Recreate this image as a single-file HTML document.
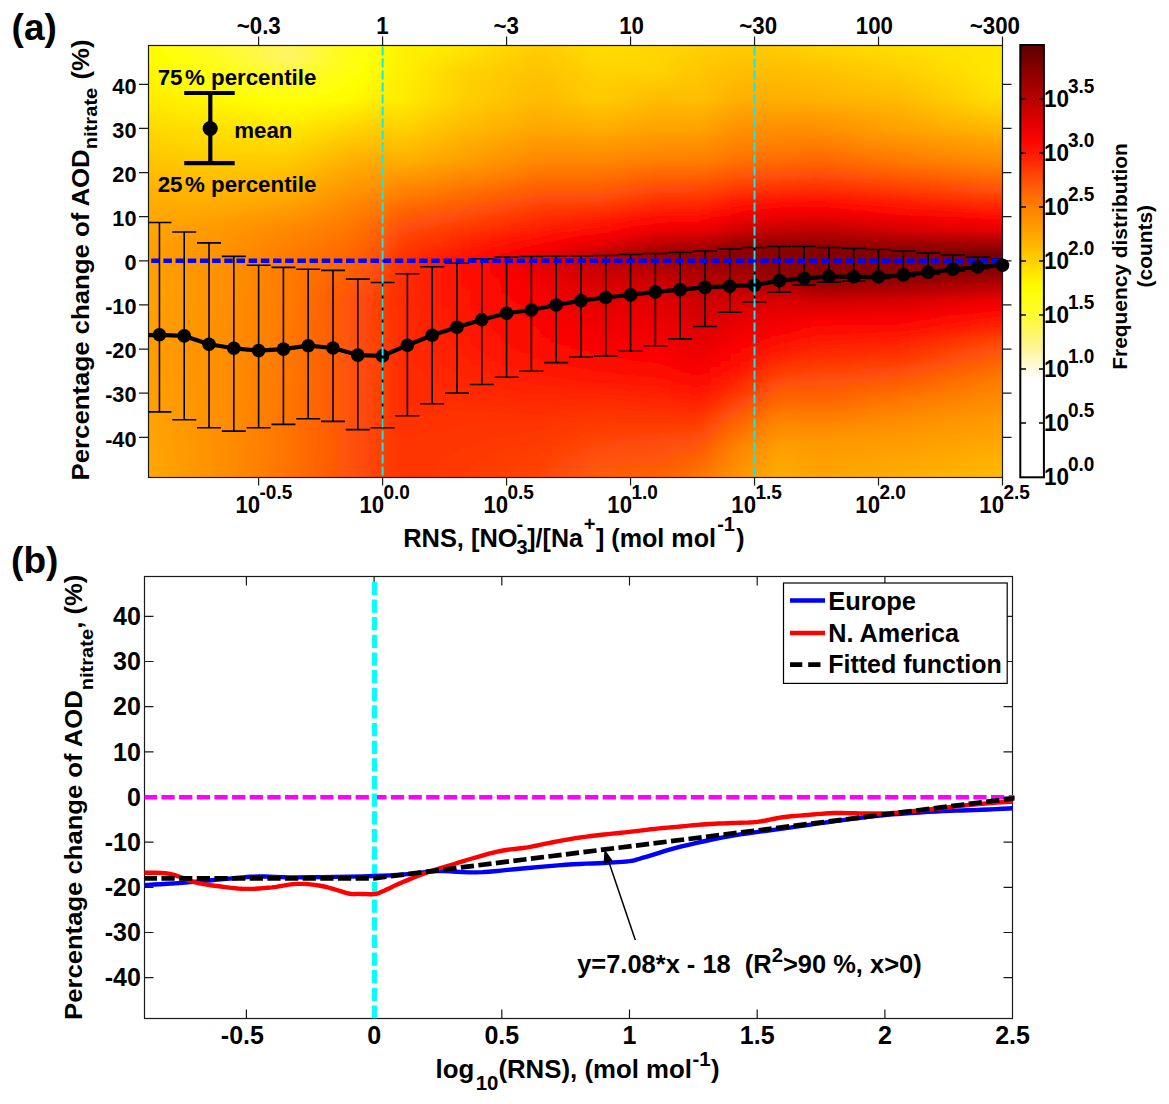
<!DOCTYPE html>
<html><head><meta charset="utf-8"><title>Figure</title>
<style>html,body{margin:0;padding:0;background:#fff;overflow:hidden}svg{display:block;position:absolute;left:0;top:0}text{font-family:"Liberation Sans",sans-serif;fill:#000}</style>
</head><body>
<svg width="1169" height="1104" viewBox="0 0 1169 1104">
<rect width="1169" height="1104" fill="#fff"/>
<defs><linearGradient id="g0" x1="0" y1="0" x2="0" y2="1"><stop offset="0.000" stop-color="#fffb00"/><stop offset="0.034" stop-color="#fff900"/><stop offset="0.061" stop-color="#fff600"/><stop offset="0.094" stop-color="#fff000"/><stop offset="0.126" stop-color="#ffeb00"/><stop offset="0.161" stop-color="#ffe100"/><stop offset="0.196" stop-color="#ffd800"/><stop offset="0.230" stop-color="#ffcf00"/><stop offset="0.265" stop-color="#ffc600"/><stop offset="0.300" stop-color="#ffbc00"/><stop offset="0.334" stop-color="#ffb100"/><stop offset="0.358" stop-color="#ffae00"/><stop offset="0.381" stop-color="#ffaa00"/><stop offset="0.404" stop-color="#ffa800"/><stop offset="0.427" stop-color="#ffa500"/><stop offset="0.446" stop-color="#ffa300"/><stop offset="0.462" stop-color="#ffa100"/><stop offset="0.473" stop-color="#ffa000"/><stop offset="0.485" stop-color="#ff9f00"/><stop offset="0.494" stop-color="#ff9f00"/><stop offset="0.501" stop-color="#ffa000"/><stop offset="0.515" stop-color="#ffa000"/><stop offset="0.531" stop-color="#ffa100"/><stop offset="0.543" stop-color="#ffa100"/><stop offset="0.554" stop-color="#ffa100"/><stop offset="0.571" stop-color="#ffa200"/><stop offset="0.589" stop-color="#ffa300"/><stop offset="0.612" stop-color="#ffa100"/><stop offset="0.635" stop-color="#ffa000"/><stop offset="0.659" stop-color="#ff9f00"/><stop offset="0.682" stop-color="#ff9e00"/><stop offset="0.705" stop-color="#ff9d00"/><stop offset="0.728" stop-color="#ff9e00"/><stop offset="0.751" stop-color="#ff9e00"/><stop offset="0.774" stop-color="#ff9f00"/><stop offset="0.797" stop-color="#ffa000"/><stop offset="0.821" stop-color="#ffa100"/><stop offset="0.844" stop-color="#ffa200"/><stop offset="0.867" stop-color="#ffa300"/><stop offset="0.890" stop-color="#ffa400"/><stop offset="0.913" stop-color="#ffa500"/><stop offset="0.936" stop-color="#ffa600"/><stop offset="0.959" stop-color="#ffa700"/><stop offset="1.000" stop-color="#ffa900"/></linearGradient><linearGradient id="g1" x1="0" y1="0" x2="0" y2="1"><stop offset="0.000" stop-color="#fffb00"/><stop offset="0.034" stop-color="#fff900"/><stop offset="0.061" stop-color="#fff600"/><stop offset="0.094" stop-color="#fff000"/><stop offset="0.126" stop-color="#ffeb00"/><stop offset="0.161" stop-color="#ffe100"/><stop offset="0.196" stop-color="#ffd800"/><stop offset="0.230" stop-color="#ffcf00"/><stop offset="0.265" stop-color="#ffc600"/><stop offset="0.300" stop-color="#ffbc00"/><stop offset="0.334" stop-color="#ffb100"/><stop offset="0.358" stop-color="#ffae00"/><stop offset="0.381" stop-color="#ffaa00"/><stop offset="0.404" stop-color="#ffa800"/><stop offset="0.427" stop-color="#ffa500"/><stop offset="0.446" stop-color="#ffa300"/><stop offset="0.462" stop-color="#ffa100"/><stop offset="0.473" stop-color="#ffa000"/><stop offset="0.485" stop-color="#ff9f00"/><stop offset="0.494" stop-color="#ff9f00"/><stop offset="0.501" stop-color="#ffa000"/><stop offset="0.515" stop-color="#ffa000"/><stop offset="0.531" stop-color="#ffa100"/><stop offset="0.543" stop-color="#ffa100"/><stop offset="0.554" stop-color="#ffa100"/><stop offset="0.571" stop-color="#ffa200"/><stop offset="0.589" stop-color="#ffa300"/><stop offset="0.612" stop-color="#ffa100"/><stop offset="0.635" stop-color="#ffa000"/><stop offset="0.659" stop-color="#ff9f00"/><stop offset="0.682" stop-color="#ff9e00"/><stop offset="0.705" stop-color="#ff9d00"/><stop offset="0.728" stop-color="#ff9e00"/><stop offset="0.751" stop-color="#ff9e00"/><stop offset="0.774" stop-color="#ff9f00"/><stop offset="0.797" stop-color="#ffa000"/><stop offset="0.821" stop-color="#ffa100"/><stop offset="0.844" stop-color="#ffa200"/><stop offset="0.867" stop-color="#ffa300"/><stop offset="0.890" stop-color="#ffa400"/><stop offset="0.913" stop-color="#ffa500"/><stop offset="0.936" stop-color="#ffa600"/><stop offset="0.959" stop-color="#ffa700"/><stop offset="1.000" stop-color="#ffa900"/></linearGradient><linearGradient id="g2" x1="0" y1="0" x2="0" y2="1"><stop offset="0.000" stop-color="#fffb00"/><stop offset="0.034" stop-color="#fff900"/><stop offset="0.061" stop-color="#fff600"/><stop offset="0.094" stop-color="#fff000"/><stop offset="0.126" stop-color="#ffeb00"/><stop offset="0.161" stop-color="#ffe100"/><stop offset="0.196" stop-color="#ffd800"/><stop offset="0.230" stop-color="#ffcf00"/><stop offset="0.265" stop-color="#ffc600"/><stop offset="0.300" stop-color="#ffbc00"/><stop offset="0.334" stop-color="#ffb100"/><stop offset="0.358" stop-color="#ffae00"/><stop offset="0.381" stop-color="#ffaa00"/><stop offset="0.404" stop-color="#ffa800"/><stop offset="0.427" stop-color="#ffa500"/><stop offset="0.446" stop-color="#ffa300"/><stop offset="0.462" stop-color="#ffa100"/><stop offset="0.473" stop-color="#ffa000"/><stop offset="0.485" stop-color="#ff9f00"/><stop offset="0.494" stop-color="#ff9f00"/><stop offset="0.501" stop-color="#ffa000"/><stop offset="0.515" stop-color="#ffa000"/><stop offset="0.531" stop-color="#ffa100"/><stop offset="0.543" stop-color="#ffa100"/><stop offset="0.554" stop-color="#ffa100"/><stop offset="0.571" stop-color="#ffa200"/><stop offset="0.589" stop-color="#ffa300"/><stop offset="0.612" stop-color="#ffa100"/><stop offset="0.635" stop-color="#ffa000"/><stop offset="0.659" stop-color="#ff9f00"/><stop offset="0.682" stop-color="#ff9e00"/><stop offset="0.705" stop-color="#ff9d00"/><stop offset="0.728" stop-color="#ff9e00"/><stop offset="0.751" stop-color="#ff9e00"/><stop offset="0.774" stop-color="#ff9f00"/><stop offset="0.797" stop-color="#ffa000"/><stop offset="0.821" stop-color="#ffa100"/><stop offset="0.844" stop-color="#ffa200"/><stop offset="0.867" stop-color="#ffa300"/><stop offset="0.890" stop-color="#ffa400"/><stop offset="0.913" stop-color="#ffa500"/><stop offset="0.936" stop-color="#ffa600"/><stop offset="0.959" stop-color="#ffa700"/><stop offset="1.000" stop-color="#ffa900"/></linearGradient><linearGradient id="g3" x1="0" y1="0" x2="0" y2="1"><stop offset="0.000" stop-color="#ffff01"/><stop offset="0.034" stop-color="#fffc00"/><stop offset="0.061" stop-color="#fff900"/><stop offset="0.094" stop-color="#fff200"/><stop offset="0.126" stop-color="#ffec00"/><stop offset="0.161" stop-color="#ffe200"/><stop offset="0.196" stop-color="#ffd900"/><stop offset="0.230" stop-color="#ffcf00"/><stop offset="0.265" stop-color="#ffc700"/><stop offset="0.300" stop-color="#ffbc00"/><stop offset="0.334" stop-color="#ffb200"/><stop offset="0.358" stop-color="#ffae00"/><stop offset="0.381" stop-color="#ffaa00"/><stop offset="0.404" stop-color="#ffa700"/><stop offset="0.427" stop-color="#ffa400"/><stop offset="0.446" stop-color="#ffa200"/><stop offset="0.462" stop-color="#ffa000"/><stop offset="0.473" stop-color="#ff9f00"/><stop offset="0.485" stop-color="#ff9e00"/><stop offset="0.494" stop-color="#ff9e00"/><stop offset="0.501" stop-color="#ff9e00"/><stop offset="0.515" stop-color="#ff9f00"/><stop offset="0.531" stop-color="#ff9f00"/><stop offset="0.543" stop-color="#ff9f00"/><stop offset="0.554" stop-color="#ffa000"/><stop offset="0.571" stop-color="#ffa000"/><stop offset="0.589" stop-color="#ffa100"/><stop offset="0.612" stop-color="#ffa000"/><stop offset="0.635" stop-color="#ff9f00"/><stop offset="0.659" stop-color="#ff9e00"/><stop offset="0.682" stop-color="#ff9c00"/><stop offset="0.705" stop-color="#ff9b00"/><stop offset="0.728" stop-color="#ff9c00"/><stop offset="0.751" stop-color="#ff9d00"/><stop offset="0.774" stop-color="#ff9e00"/><stop offset="0.797" stop-color="#ff9e00"/><stop offset="0.821" stop-color="#ff9f00"/><stop offset="0.844" stop-color="#ffa000"/><stop offset="0.867" stop-color="#ffa100"/><stop offset="0.890" stop-color="#ffa200"/><stop offset="0.913" stop-color="#ffa300"/><stop offset="0.936" stop-color="#ffa300"/><stop offset="0.959" stop-color="#ffa400"/><stop offset="1.000" stop-color="#ffa600"/></linearGradient><linearGradient id="g4" x1="0" y1="0" x2="0" y2="1"><stop offset="0.000" stop-color="#fffe08"/><stop offset="0.034" stop-color="#ffff03"/><stop offset="0.061" stop-color="#fffd00"/><stop offset="0.094" stop-color="#fff500"/><stop offset="0.126" stop-color="#ffee00"/><stop offset="0.161" stop-color="#ffe400"/><stop offset="0.196" stop-color="#ffda00"/><stop offset="0.230" stop-color="#ffd000"/><stop offset="0.265" stop-color="#ffc800"/><stop offset="0.300" stop-color="#ffbd00"/><stop offset="0.334" stop-color="#ffb200"/><stop offset="0.358" stop-color="#ffae00"/><stop offset="0.381" stop-color="#ffa900"/><stop offset="0.404" stop-color="#ffa500"/><stop offset="0.427" stop-color="#ffa200"/><stop offset="0.446" stop-color="#ffa000"/><stop offset="0.462" stop-color="#ff9e00"/><stop offset="0.473" stop-color="#ff9d00"/><stop offset="0.485" stop-color="#ff9c00"/><stop offset="0.494" stop-color="#ff9c00"/><stop offset="0.501" stop-color="#ff9c00"/><stop offset="0.515" stop-color="#ff9d00"/><stop offset="0.531" stop-color="#ff9d00"/><stop offset="0.543" stop-color="#ff9d00"/><stop offset="0.554" stop-color="#ff9d00"/><stop offset="0.571" stop-color="#ff9e00"/><stop offset="0.589" stop-color="#ff9e00"/><stop offset="0.612" stop-color="#ff9d00"/><stop offset="0.635" stop-color="#ff9c00"/><stop offset="0.659" stop-color="#ff9b00"/><stop offset="0.682" stop-color="#ff9a00"/><stop offset="0.705" stop-color="#ff9900"/><stop offset="0.728" stop-color="#ff9a00"/><stop offset="0.751" stop-color="#ff9b00"/><stop offset="0.774" stop-color="#ff9b00"/><stop offset="0.797" stop-color="#ff9c00"/><stop offset="0.821" stop-color="#ff9d00"/><stop offset="0.844" stop-color="#ff9d00"/><stop offset="0.867" stop-color="#ff9e00"/><stop offset="0.890" stop-color="#ff9f00"/><stop offset="0.913" stop-color="#ff9f00"/><stop offset="0.936" stop-color="#ffa000"/><stop offset="0.959" stop-color="#ffa100"/><stop offset="1.000" stop-color="#ffa200"/></linearGradient><linearGradient id="g5" x1="0" y1="0" x2="0" y2="1"><stop offset="0.000" stop-color="#fffe0f"/><stop offset="0.034" stop-color="#fffe08"/><stop offset="0.061" stop-color="#ffff02"/><stop offset="0.094" stop-color="#fff800"/><stop offset="0.126" stop-color="#fff000"/><stop offset="0.161" stop-color="#ffe500"/><stop offset="0.196" stop-color="#ffdb00"/><stop offset="0.230" stop-color="#ffd100"/><stop offset="0.265" stop-color="#ffc900"/><stop offset="0.300" stop-color="#ffbe00"/><stop offset="0.334" stop-color="#ffb300"/><stop offset="0.358" stop-color="#ffae00"/><stop offset="0.381" stop-color="#ffa900"/><stop offset="0.404" stop-color="#ffa400"/><stop offset="0.427" stop-color="#ffa000"/><stop offset="0.446" stop-color="#ff9e00"/><stop offset="0.462" stop-color="#ff9c00"/><stop offset="0.473" stop-color="#ff9b00"/><stop offset="0.485" stop-color="#ff9a00"/><stop offset="0.494" stop-color="#ff9a00"/><stop offset="0.501" stop-color="#ff9a00"/><stop offset="0.515" stop-color="#ff9a00"/><stop offset="0.531" stop-color="#ff9b00"/><stop offset="0.543" stop-color="#ff9b00"/><stop offset="0.554" stop-color="#ff9b00"/><stop offset="0.571" stop-color="#ff9b00"/><stop offset="0.589" stop-color="#ff9c00"/><stop offset="0.612" stop-color="#ff9b00"/><stop offset="0.635" stop-color="#ff9a00"/><stop offset="0.659" stop-color="#ff9900"/><stop offset="0.682" stop-color="#ff9800"/><stop offset="0.705" stop-color="#ff9700"/><stop offset="0.728" stop-color="#ff9800"/><stop offset="0.751" stop-color="#ff9900"/><stop offset="0.774" stop-color="#ff9900"/><stop offset="0.797" stop-color="#ff9a00"/><stop offset="0.821" stop-color="#ff9a00"/><stop offset="0.844" stop-color="#ff9b00"/><stop offset="0.867" stop-color="#ff9b00"/><stop offset="0.890" stop-color="#ff9c00"/><stop offset="0.913" stop-color="#ff9c00"/><stop offset="0.936" stop-color="#ff9d00"/><stop offset="0.959" stop-color="#ff9e00"/><stop offset="1.000" stop-color="#ff9f00"/></linearGradient><linearGradient id="g6" x1="0" y1="0" x2="0" y2="1"><stop offset="0.000" stop-color="#fffd16"/><stop offset="0.034" stop-color="#fffe0e"/><stop offset="0.061" stop-color="#fffe07"/><stop offset="0.094" stop-color="#fffb00"/><stop offset="0.126" stop-color="#fff200"/><stop offset="0.161" stop-color="#ffe700"/><stop offset="0.196" stop-color="#ffdc00"/><stop offset="0.230" stop-color="#ffd200"/><stop offset="0.265" stop-color="#ffca00"/><stop offset="0.300" stop-color="#ffbf00"/><stop offset="0.334" stop-color="#ffb400"/><stop offset="0.358" stop-color="#ffae00"/><stop offset="0.381" stop-color="#ffa800"/><stop offset="0.404" stop-color="#ffa300"/><stop offset="0.427" stop-color="#ff9e00"/><stop offset="0.446" stop-color="#ff9c00"/><stop offset="0.462" stop-color="#ff9b00"/><stop offset="0.473" stop-color="#ff9900"/><stop offset="0.485" stop-color="#ff9800"/><stop offset="0.494" stop-color="#ff9800"/><stop offset="0.501" stop-color="#ff9800"/><stop offset="0.515" stop-color="#ff9800"/><stop offset="0.531" stop-color="#ff9900"/><stop offset="0.543" stop-color="#ff9900"/><stop offset="0.554" stop-color="#ff9900"/><stop offset="0.571" stop-color="#ff9900"/><stop offset="0.589" stop-color="#ff9900"/><stop offset="0.612" stop-color="#ff9800"/><stop offset="0.635" stop-color="#ff9800"/><stop offset="0.659" stop-color="#ff9700"/><stop offset="0.682" stop-color="#ff9600"/><stop offset="0.705" stop-color="#ff9600"/><stop offset="0.728" stop-color="#ff9600"/><stop offset="0.751" stop-color="#ff9600"/><stop offset="0.774" stop-color="#ff9700"/><stop offset="0.797" stop-color="#ff9700"/><stop offset="0.821" stop-color="#ff9800"/><stop offset="0.844" stop-color="#ff9800"/><stop offset="0.867" stop-color="#ff9800"/><stop offset="0.890" stop-color="#ff9900"/><stop offset="0.913" stop-color="#ff9900"/><stop offset="0.936" stop-color="#ff9a00"/><stop offset="0.959" stop-color="#ff9a00"/><stop offset="1.000" stop-color="#ff9b00"/></linearGradient><linearGradient id="g7" x1="0" y1="0" x2="0" y2="1"><stop offset="0.000" stop-color="#fffc1d"/><stop offset="0.034" stop-color="#fffd14"/><stop offset="0.061" stop-color="#fffe0b"/><stop offset="0.094" stop-color="#fffe00"/><stop offset="0.126" stop-color="#fff300"/><stop offset="0.161" stop-color="#ffe800"/><stop offset="0.196" stop-color="#ffdd00"/><stop offset="0.230" stop-color="#ffd300"/><stop offset="0.265" stop-color="#ffcb00"/><stop offset="0.300" stop-color="#ffc000"/><stop offset="0.334" stop-color="#ffb500"/><stop offset="0.358" stop-color="#ffae00"/><stop offset="0.381" stop-color="#ffa800"/><stop offset="0.404" stop-color="#ffa200"/><stop offset="0.427" stop-color="#ff9c00"/><stop offset="0.446" stop-color="#ff9a00"/><stop offset="0.462" stop-color="#ff9900"/><stop offset="0.473" stop-color="#ff9700"/><stop offset="0.485" stop-color="#ff9600"/><stop offset="0.494" stop-color="#ff9600"/><stop offset="0.501" stop-color="#ff9600"/><stop offset="0.515" stop-color="#ff9600"/><stop offset="0.531" stop-color="#ff9600"/><stop offset="0.543" stop-color="#ff9600"/><stop offset="0.554" stop-color="#ff9700"/><stop offset="0.571" stop-color="#ff9700"/><stop offset="0.589" stop-color="#ff9700"/><stop offset="0.612" stop-color="#ff9600"/><stop offset="0.635" stop-color="#ff9500"/><stop offset="0.659" stop-color="#ff9500"/><stop offset="0.682" stop-color="#ff9400"/><stop offset="0.705" stop-color="#ff9400"/><stop offset="0.728" stop-color="#ff9400"/><stop offset="0.751" stop-color="#ff9400"/><stop offset="0.774" stop-color="#ff9400"/><stop offset="0.797" stop-color="#ff9500"/><stop offset="0.821" stop-color="#ff9500"/><stop offset="0.844" stop-color="#ff9500"/><stop offset="0.867" stop-color="#ff9600"/><stop offset="0.890" stop-color="#ff9600"/><stop offset="0.913" stop-color="#ff9600"/><stop offset="0.936" stop-color="#ff9700"/><stop offset="0.959" stop-color="#ff9700"/><stop offset="1.000" stop-color="#ff9800"/></linearGradient><linearGradient id="g8" x1="0" y1="0" x2="0" y2="1"><stop offset="0.000" stop-color="#fffb24"/><stop offset="0.034" stop-color="#fffc19"/><stop offset="0.061" stop-color="#fffd10"/><stop offset="0.094" stop-color="#ffff03"/><stop offset="0.126" stop-color="#fff500"/><stop offset="0.161" stop-color="#ffea00"/><stop offset="0.196" stop-color="#ffde00"/><stop offset="0.230" stop-color="#ffd500"/><stop offset="0.265" stop-color="#ffcc00"/><stop offset="0.300" stop-color="#ffc100"/><stop offset="0.334" stop-color="#ffb600"/><stop offset="0.358" stop-color="#ffaf00"/><stop offset="0.381" stop-color="#ffa700"/><stop offset="0.404" stop-color="#ffa100"/><stop offset="0.427" stop-color="#ff9a00"/><stop offset="0.446" stop-color="#ff9800"/><stop offset="0.462" stop-color="#ff9700"/><stop offset="0.473" stop-color="#ff9600"/><stop offset="0.485" stop-color="#ff9400"/><stop offset="0.494" stop-color="#ff9400"/><stop offset="0.501" stop-color="#ff9400"/><stop offset="0.515" stop-color="#ff9400"/><stop offset="0.531" stop-color="#ff9400"/><stop offset="0.543" stop-color="#ff9400"/><stop offset="0.554" stop-color="#ff9400"/><stop offset="0.571" stop-color="#ff9400"/><stop offset="0.589" stop-color="#ff9400"/><stop offset="0.612" stop-color="#ff9400"/><stop offset="0.635" stop-color="#ff9300"/><stop offset="0.659" stop-color="#ff9300"/><stop offset="0.682" stop-color="#ff9200"/><stop offset="0.705" stop-color="#ff9200"/><stop offset="0.728" stop-color="#ff9200"/><stop offset="0.751" stop-color="#ff9200"/><stop offset="0.774" stop-color="#ff9200"/><stop offset="0.797" stop-color="#ff9200"/><stop offset="0.821" stop-color="#ff9200"/><stop offset="0.844" stop-color="#ff9300"/><stop offset="0.867" stop-color="#ff9300"/><stop offset="0.890" stop-color="#ff9300"/><stop offset="0.913" stop-color="#ff9300"/><stop offset="0.936" stop-color="#ff9300"/><stop offset="0.959" stop-color="#ff9400"/><stop offset="1.000" stop-color="#ff9400"/></linearGradient><linearGradient id="g9" x1="0" y1="0" x2="0" y2="1"><stop offset="0.000" stop-color="#fffb2a"/><stop offset="0.034" stop-color="#fffc1f"/><stop offset="0.061" stop-color="#fffd14"/><stop offset="0.094" stop-color="#fffe06"/><stop offset="0.126" stop-color="#fff700"/><stop offset="0.161" stop-color="#ffeb00"/><stop offset="0.196" stop-color="#ffdf00"/><stop offset="0.230" stop-color="#ffd600"/><stop offset="0.265" stop-color="#ffcc00"/><stop offset="0.300" stop-color="#ffc100"/><stop offset="0.334" stop-color="#ffb600"/><stop offset="0.358" stop-color="#ffaf00"/><stop offset="0.381" stop-color="#ffa700"/><stop offset="0.404" stop-color="#ffa000"/><stop offset="0.427" stop-color="#ff9900"/><stop offset="0.446" stop-color="#ff9700"/><stop offset="0.462" stop-color="#ff9500"/><stop offset="0.473" stop-color="#ff9400"/><stop offset="0.485" stop-color="#ff9300"/><stop offset="0.494" stop-color="#ff9200"/><stop offset="0.501" stop-color="#ff9200"/><stop offset="0.515" stop-color="#ff9200"/><stop offset="0.531" stop-color="#ff9200"/><stop offset="0.543" stop-color="#ff9200"/><stop offset="0.554" stop-color="#ff9200"/><stop offset="0.571" stop-color="#ff9200"/><stop offset="0.589" stop-color="#ff9200"/><stop offset="0.612" stop-color="#ff9100"/><stop offset="0.635" stop-color="#ff9100"/><stop offset="0.659" stop-color="#ff9000"/><stop offset="0.682" stop-color="#ff9000"/><stop offset="0.705" stop-color="#ff9000"/><stop offset="0.728" stop-color="#ff9000"/><stop offset="0.751" stop-color="#ff9000"/><stop offset="0.774" stop-color="#ff9000"/><stop offset="0.797" stop-color="#ff9000"/><stop offset="0.821" stop-color="#ff9000"/><stop offset="0.844" stop-color="#ff9000"/><stop offset="0.867" stop-color="#ff9000"/><stop offset="0.890" stop-color="#ff9000"/><stop offset="0.913" stop-color="#ff9000"/><stop offset="0.936" stop-color="#ff9000"/><stop offset="0.959" stop-color="#ff9000"/><stop offset="1.000" stop-color="#ff9000"/></linearGradient><linearGradient id="g10" x1="0" y1="0" x2="0" y2="1"><stop offset="0.000" stop-color="#fffa30"/><stop offset="0.034" stop-color="#fffb26"/><stop offset="0.061" stop-color="#fffd19"/><stop offset="0.094" stop-color="#fffe09"/><stop offset="0.126" stop-color="#fff900"/><stop offset="0.161" stop-color="#ffec00"/><stop offset="0.196" stop-color="#ffe000"/><stop offset="0.230" stop-color="#ffd600"/><stop offset="0.265" stop-color="#ffcd00"/><stop offset="0.300" stop-color="#ffc200"/><stop offset="0.334" stop-color="#ffb600"/><stop offset="0.358" stop-color="#ffae00"/><stop offset="0.381" stop-color="#ffa600"/><stop offset="0.404" stop-color="#ff9e00"/><stop offset="0.427" stop-color="#ff9600"/><stop offset="0.446" stop-color="#ff9400"/><stop offset="0.462" stop-color="#ff9300"/><stop offset="0.473" stop-color="#ff9100"/><stop offset="0.485" stop-color="#ff9000"/><stop offset="0.494" stop-color="#ff9000"/><stop offset="0.501" stop-color="#ff9000"/><stop offset="0.515" stop-color="#ff9000"/><stop offset="0.531" stop-color="#ff8f00"/><stop offset="0.543" stop-color="#ff8f00"/><stop offset="0.554" stop-color="#ff8f00"/><stop offset="0.571" stop-color="#ff8f00"/><stop offset="0.589" stop-color="#ff8f00"/><stop offset="0.612" stop-color="#ff8e00"/><stop offset="0.635" stop-color="#ff8e00"/><stop offset="0.659" stop-color="#ff8e00"/><stop offset="0.682" stop-color="#ff8d00"/><stop offset="0.705" stop-color="#ff8d00"/><stop offset="0.728" stop-color="#ff8d00"/><stop offset="0.751" stop-color="#ff8d00"/><stop offset="0.774" stop-color="#ff8d00"/><stop offset="0.797" stop-color="#ff8d00"/><stop offset="0.821" stop-color="#ff8d00"/><stop offset="0.844" stop-color="#ff8d00"/><stop offset="0.867" stop-color="#ff8d00"/><stop offset="0.890" stop-color="#ff8d00"/><stop offset="0.913" stop-color="#ff8d00"/><stop offset="0.936" stop-color="#ff8d00"/><stop offset="0.959" stop-color="#ff8d00"/><stop offset="1.000" stop-color="#ff8d00"/></linearGradient><linearGradient id="g11" x1="0" y1="0" x2="0" y2="1"><stop offset="0.000" stop-color="#fffa37"/><stop offset="0.034" stop-color="#fffa2d"/><stop offset="0.061" stop-color="#fffc1e"/><stop offset="0.094" stop-color="#fffe0d"/><stop offset="0.126" stop-color="#fffb00"/><stop offset="0.161" stop-color="#ffee00"/><stop offset="0.196" stop-color="#ffe100"/><stop offset="0.230" stop-color="#ffd700"/><stop offset="0.265" stop-color="#ffcc00"/><stop offset="0.300" stop-color="#ffc100"/><stop offset="0.334" stop-color="#ffb500"/><stop offset="0.358" stop-color="#ffad00"/><stop offset="0.381" stop-color="#ffa400"/><stop offset="0.404" stop-color="#ff9c00"/><stop offset="0.427" stop-color="#ff9400"/><stop offset="0.446" stop-color="#ff9200"/><stop offset="0.462" stop-color="#ff9000"/><stop offset="0.473" stop-color="#ff8e00"/><stop offset="0.485" stop-color="#ff8d00"/><stop offset="0.494" stop-color="#ff8d00"/><stop offset="0.501" stop-color="#ff8d00"/><stop offset="0.515" stop-color="#ff8c00"/><stop offset="0.531" stop-color="#ff8c00"/><stop offset="0.543" stop-color="#ff8c00"/><stop offset="0.554" stop-color="#ff8c00"/><stop offset="0.571" stop-color="#ff8c00"/><stop offset="0.589" stop-color="#ff8b00"/><stop offset="0.612" stop-color="#ff8b00"/><stop offset="0.635" stop-color="#ff8b00"/><stop offset="0.659" stop-color="#ff8a00"/><stop offset="0.682" stop-color="#ff8a00"/><stop offset="0.705" stop-color="#ff8a00"/><stop offset="0.728" stop-color="#ff8a00"/><stop offset="0.751" stop-color="#ff8a00"/><stop offset="0.774" stop-color="#ff8a00"/><stop offset="0.797" stop-color="#ff8a00"/><stop offset="0.821" stop-color="#ff8900"/><stop offset="0.844" stop-color="#ff8900"/><stop offset="0.867" stop-color="#ff8900"/><stop offset="0.890" stop-color="#ff8900"/><stop offset="0.913" stop-color="#ff8900"/><stop offset="0.936" stop-color="#ff8900"/><stop offset="0.959" stop-color="#ff8900"/><stop offset="1.000" stop-color="#ff8900"/></linearGradient><linearGradient id="g12" x1="0" y1="0" x2="0" y2="1"><stop offset="0.000" stop-color="#fff93e"/><stop offset="0.034" stop-color="#fffa36"/><stop offset="0.061" stop-color="#fffb23"/><stop offset="0.094" stop-color="#fffd10"/><stop offset="0.126" stop-color="#fffd00"/><stop offset="0.161" stop-color="#ffef00"/><stop offset="0.196" stop-color="#ffe200"/><stop offset="0.230" stop-color="#ffd700"/><stop offset="0.265" stop-color="#ffcc00"/><stop offset="0.300" stop-color="#ffc000"/><stop offset="0.334" stop-color="#ffb400"/><stop offset="0.358" stop-color="#ffab00"/><stop offset="0.381" stop-color="#ffa200"/><stop offset="0.404" stop-color="#ff9a00"/><stop offset="0.427" stop-color="#ff9200"/><stop offset="0.446" stop-color="#ff8f00"/><stop offset="0.462" stop-color="#ff8d00"/><stop offset="0.473" stop-color="#ff8b00"/><stop offset="0.485" stop-color="#ff8a00"/><stop offset="0.494" stop-color="#ff8a00"/><stop offset="0.501" stop-color="#ff8900"/><stop offset="0.515" stop-color="#ff8900"/><stop offset="0.531" stop-color="#ff8900"/><stop offset="0.543" stop-color="#ff8900"/><stop offset="0.554" stop-color="#ff8900"/><stop offset="0.571" stop-color="#ff8800"/><stop offset="0.589" stop-color="#ff8800"/><stop offset="0.612" stop-color="#ff8800"/><stop offset="0.635" stop-color="#ff8800"/><stop offset="0.659" stop-color="#ff8700"/><stop offset="0.682" stop-color="#ff8700"/><stop offset="0.705" stop-color="#ff8700"/><stop offset="0.728" stop-color="#ff8700"/><stop offset="0.751" stop-color="#ff8600"/><stop offset="0.774" stop-color="#ff8600"/><stop offset="0.797" stop-color="#ff8600"/><stop offset="0.821" stop-color="#ff8600"/><stop offset="0.844" stop-color="#ff8600"/><stop offset="0.867" stop-color="#ff8600"/><stop offset="0.890" stop-color="#ff8600"/><stop offset="0.913" stop-color="#ff8600"/><stop offset="0.936" stop-color="#ff8500"/><stop offset="0.959" stop-color="#ff8500"/><stop offset="1.000" stop-color="#ff8500"/></linearGradient><linearGradient id="g13" x1="0" y1="0" x2="0" y2="1"><stop offset="0.000" stop-color="#fff945"/><stop offset="0.034" stop-color="#fff942"/><stop offset="0.061" stop-color="#fffb28"/><stop offset="0.094" stop-color="#fffd14"/><stop offset="0.126" stop-color="#fffe00"/><stop offset="0.161" stop-color="#fff100"/><stop offset="0.196" stop-color="#ffe300"/><stop offset="0.230" stop-color="#ffd700"/><stop offset="0.265" stop-color="#ffcc00"/><stop offset="0.300" stop-color="#ffc000"/><stop offset="0.334" stop-color="#ffb400"/><stop offset="0.358" stop-color="#ffaa00"/><stop offset="0.381" stop-color="#ffa000"/><stop offset="0.404" stop-color="#ff9800"/><stop offset="0.427" stop-color="#ff8f00"/><stop offset="0.446" stop-color="#ff8d00"/><stop offset="0.462" stop-color="#ff8a00"/><stop offset="0.473" stop-color="#ff8800"/><stop offset="0.485" stop-color="#ff8700"/><stop offset="0.494" stop-color="#ff8600"/><stop offset="0.501" stop-color="#ff8600"/><stop offset="0.515" stop-color="#ff8600"/><stop offset="0.531" stop-color="#ff8600"/><stop offset="0.543" stop-color="#ff8600"/><stop offset="0.554" stop-color="#ff8600"/><stop offset="0.571" stop-color="#ff8500"/><stop offset="0.589" stop-color="#ff8500"/><stop offset="0.612" stop-color="#ff8500"/><stop offset="0.635" stop-color="#ff8400"/><stop offset="0.659" stop-color="#ff8400"/><stop offset="0.682" stop-color="#ff8400"/><stop offset="0.705" stop-color="#ff8300"/><stop offset="0.728" stop-color="#ff8300"/><stop offset="0.751" stop-color="#ff8300"/><stop offset="0.774" stop-color="#ff8300"/><stop offset="0.797" stop-color="#ff8300"/><stop offset="0.821" stop-color="#ff8300"/><stop offset="0.844" stop-color="#ff8200"/><stop offset="0.867" stop-color="#ff8200"/><stop offset="0.890" stop-color="#ff8200"/><stop offset="0.913" stop-color="#ff8200"/><stop offset="0.936" stop-color="#ff8200"/><stop offset="0.959" stop-color="#ff8200"/><stop offset="1.000" stop-color="#ff8100"/></linearGradient><linearGradient id="g14" x1="0" y1="0" x2="0" y2="1"><stop offset="0.000" stop-color="#fff84d"/><stop offset="0.034" stop-color="#fff84e"/><stop offset="0.061" stop-color="#fffa2d"/><stop offset="0.094" stop-color="#fffd17"/><stop offset="0.126" stop-color="#ffff01"/><stop offset="0.161" stop-color="#fff200"/><stop offset="0.196" stop-color="#ffe400"/><stop offset="0.230" stop-color="#ffd800"/><stop offset="0.265" stop-color="#ffcc00"/><stop offset="0.300" stop-color="#ffbf00"/><stop offset="0.334" stop-color="#ffb300"/><stop offset="0.358" stop-color="#ffa800"/><stop offset="0.381" stop-color="#ff9f00"/><stop offset="0.404" stop-color="#ff9600"/><stop offset="0.427" stop-color="#ff8d00"/><stop offset="0.446" stop-color="#ff8a00"/><stop offset="0.462" stop-color="#ff8700"/><stop offset="0.473" stop-color="#ff8500"/><stop offset="0.485" stop-color="#ff8300"/><stop offset="0.494" stop-color="#ff8300"/><stop offset="0.501" stop-color="#ff8300"/><stop offset="0.515" stop-color="#ff8300"/><stop offset="0.531" stop-color="#ff8300"/><stop offset="0.543" stop-color="#ff8300"/><stop offset="0.554" stop-color="#ff8200"/><stop offset="0.571" stop-color="#ff8200"/><stop offset="0.589" stop-color="#ff8200"/><stop offset="0.612" stop-color="#ff8200"/><stop offset="0.635" stop-color="#ff8100"/><stop offset="0.659" stop-color="#ff8100"/><stop offset="0.682" stop-color="#ff8100"/><stop offset="0.705" stop-color="#ff8000"/><stop offset="0.728" stop-color="#ff8000"/><stop offset="0.751" stop-color="#ff8000"/><stop offset="0.774" stop-color="#ff7f00"/><stop offset="0.797" stop-color="#ff7f00"/><stop offset="0.821" stop-color="#ff7f00"/><stop offset="0.844" stop-color="#ff7f00"/><stop offset="0.867" stop-color="#ff7e00"/><stop offset="0.890" stop-color="#ff7e00"/><stop offset="0.913" stop-color="#ff7e00"/><stop offset="0.936" stop-color="#ff7e00"/><stop offset="0.959" stop-color="#ff7d00"/><stop offset="1.000" stop-color="#ff7d01"/></linearGradient><linearGradient id="g15" x1="0" y1="0" x2="0" y2="1"><stop offset="0.000" stop-color="#fff754"/><stop offset="0.034" stop-color="#fff75a"/><stop offset="0.061" stop-color="#fffa33"/><stop offset="0.094" stop-color="#fffc1b"/><stop offset="0.126" stop-color="#ffff03"/><stop offset="0.161" stop-color="#fff400"/><stop offset="0.196" stop-color="#ffe500"/><stop offset="0.230" stop-color="#ffd800"/><stop offset="0.265" stop-color="#ffcb00"/><stop offset="0.300" stop-color="#ffbf00"/><stop offset="0.334" stop-color="#ffb200"/><stop offset="0.358" stop-color="#ffa700"/><stop offset="0.381" stop-color="#ff9d00"/><stop offset="0.404" stop-color="#ff9400"/><stop offset="0.427" stop-color="#ff8b00"/><stop offset="0.446" stop-color="#ff8700"/><stop offset="0.462" stop-color="#ff8400"/><stop offset="0.473" stop-color="#ff8200"/><stop offset="0.485" stop-color="#ff8000"/><stop offset="0.494" stop-color="#ff8000"/><stop offset="0.501" stop-color="#ff8000"/><stop offset="0.515" stop-color="#ff8000"/><stop offset="0.531" stop-color="#ff7f00"/><stop offset="0.543" stop-color="#ff7f00"/><stop offset="0.554" stop-color="#ff7f00"/><stop offset="0.571" stop-color="#ff7f00"/><stop offset="0.589" stop-color="#ff7e00"/><stop offset="0.612" stop-color="#ff7e00"/><stop offset="0.635" stop-color="#ff7d00"/><stop offset="0.659" stop-color="#ff7d00"/><stop offset="0.682" stop-color="#ff7d01"/><stop offset="0.705" stop-color="#ff7c01"/><stop offset="0.728" stop-color="#ff7c01"/><stop offset="0.751" stop-color="#ff7b01"/><stop offset="0.774" stop-color="#ff7b01"/><stop offset="0.797" stop-color="#ff7b01"/><stop offset="0.821" stop-color="#ff7a01"/><stop offset="0.844" stop-color="#ff7a01"/><stop offset="0.867" stop-color="#ff7a01"/><stop offset="0.890" stop-color="#ff7901"/><stop offset="0.913" stop-color="#ff7901"/><stop offset="0.936" stop-color="#ff7901"/><stop offset="0.959" stop-color="#ff7801"/><stop offset="1.000" stop-color="#ff7801"/></linearGradient><linearGradient id="g16" x1="0" y1="0" x2="0" y2="1"><stop offset="0.000" stop-color="#fff75c"/><stop offset="0.034" stop-color="#fff666"/><stop offset="0.061" stop-color="#fff93b"/><stop offset="0.094" stop-color="#fffc1e"/><stop offset="0.126" stop-color="#fffe05"/><stop offset="0.161" stop-color="#fff500"/><stop offset="0.196" stop-color="#ffe600"/><stop offset="0.230" stop-color="#ffd800"/><stop offset="0.265" stop-color="#ffcb00"/><stop offset="0.300" stop-color="#ffbe00"/><stop offset="0.334" stop-color="#ffb100"/><stop offset="0.358" stop-color="#ffa500"/><stop offset="0.381" stop-color="#ff9b00"/><stop offset="0.404" stop-color="#ff9200"/><stop offset="0.427" stop-color="#ff8800"/><stop offset="0.446" stop-color="#ff8500"/><stop offset="0.462" stop-color="#ff8200"/><stop offset="0.473" stop-color="#ff7f00"/><stop offset="0.485" stop-color="#ff7c01"/><stop offset="0.494" stop-color="#ff7c01"/><stop offset="0.501" stop-color="#ff7c01"/><stop offset="0.515" stop-color="#ff7c01"/><stop offset="0.531" stop-color="#ff7b01"/><stop offset="0.543" stop-color="#ff7b01"/><stop offset="0.554" stop-color="#ff7b01"/><stop offset="0.571" stop-color="#ff7b01"/><stop offset="0.589" stop-color="#ff7a01"/><stop offset="0.612" stop-color="#ff7a01"/><stop offset="0.635" stop-color="#ff7901"/><stop offset="0.659" stop-color="#ff7901"/><stop offset="0.682" stop-color="#ff7801"/><stop offset="0.705" stop-color="#ff7801"/><stop offset="0.728" stop-color="#ff7801"/><stop offset="0.751" stop-color="#ff7701"/><stop offset="0.774" stop-color="#ff7702"/><stop offset="0.797" stop-color="#ff7602"/><stop offset="0.821" stop-color="#ff7602"/><stop offset="0.844" stop-color="#ff7602"/><stop offset="0.867" stop-color="#ff7502"/><stop offset="0.890" stop-color="#ff7502"/><stop offset="0.913" stop-color="#ff7402"/><stop offset="0.936" stop-color="#ff7402"/><stop offset="0.959" stop-color="#ff7402"/><stop offset="1.000" stop-color="#ff7302"/></linearGradient><linearGradient id="g17" x1="0" y1="0" x2="0" y2="1"><stop offset="0.000" stop-color="#fff757"/><stop offset="0.034" stop-color="#fff661"/><stop offset="0.061" stop-color="#fffa38"/><stop offset="0.094" stop-color="#fffc1d"/><stop offset="0.126" stop-color="#ffff05"/><stop offset="0.161" stop-color="#fff400"/><stop offset="0.196" stop-color="#ffe500"/><stop offset="0.230" stop-color="#ffd600"/><stop offset="0.265" stop-color="#ffc800"/><stop offset="0.300" stop-color="#ffbb00"/><stop offset="0.334" stop-color="#ffae00"/><stop offset="0.358" stop-color="#ffa200"/><stop offset="0.381" stop-color="#ff9800"/><stop offset="0.404" stop-color="#ff8f00"/><stop offset="0.427" stop-color="#ff8600"/><stop offset="0.446" stop-color="#ff8200"/><stop offset="0.462" stop-color="#ff7f00"/><stop offset="0.473" stop-color="#ff7c01"/><stop offset="0.485" stop-color="#ff7801"/><stop offset="0.494" stop-color="#ff7801"/><stop offset="0.501" stop-color="#ff7801"/><stop offset="0.515" stop-color="#ff7701"/><stop offset="0.531" stop-color="#ff7702"/><stop offset="0.543" stop-color="#ff7602"/><stop offset="0.554" stop-color="#ff7602"/><stop offset="0.571" stop-color="#ff7602"/><stop offset="0.589" stop-color="#ff7502"/><stop offset="0.612" stop-color="#ff7402"/><stop offset="0.635" stop-color="#ff7402"/><stop offset="0.659" stop-color="#ff7402"/><stop offset="0.682" stop-color="#ff7302"/><stop offset="0.705" stop-color="#ff7302"/><stop offset="0.728" stop-color="#ff7302"/><stop offset="0.751" stop-color="#ff7202"/><stop offset="0.774" stop-color="#ff7202"/><stop offset="0.797" stop-color="#ff7102"/><stop offset="0.821" stop-color="#ff7103"/><stop offset="0.844" stop-color="#ff7103"/><stop offset="0.867" stop-color="#ff7003"/><stop offset="0.890" stop-color="#ff7003"/><stop offset="0.913" stop-color="#ff6f03"/><stop offset="0.936" stop-color="#ff6f03"/><stop offset="0.959" stop-color="#ff6f03"/><stop offset="1.000" stop-color="#ff6e03"/></linearGradient><linearGradient id="g18" x1="0" y1="0" x2="0" y2="1"><stop offset="0.000" stop-color="#fff848"/><stop offset="0.034" stop-color="#fff84f"/><stop offset="0.061" stop-color="#fffa2e"/><stop offset="0.094" stop-color="#fffd18"/><stop offset="0.126" stop-color="#ffff03"/><stop offset="0.161" stop-color="#fff200"/><stop offset="0.196" stop-color="#ffe200"/><stop offset="0.230" stop-color="#ffd200"/><stop offset="0.265" stop-color="#ffc400"/><stop offset="0.300" stop-color="#ffb600"/><stop offset="0.334" stop-color="#ffa900"/><stop offset="0.358" stop-color="#ff9e00"/><stop offset="0.381" stop-color="#ff9500"/><stop offset="0.404" stop-color="#ff8c00"/><stop offset="0.427" stop-color="#ff8300"/><stop offset="0.446" stop-color="#ff7f00"/><stop offset="0.462" stop-color="#ff7b01"/><stop offset="0.473" stop-color="#ff7801"/><stop offset="0.485" stop-color="#ff7502"/><stop offset="0.494" stop-color="#ff7502"/><stop offset="0.501" stop-color="#ff7402"/><stop offset="0.515" stop-color="#ff7302"/><stop offset="0.531" stop-color="#ff7202"/><stop offset="0.543" stop-color="#ff7202"/><stop offset="0.554" stop-color="#ff7103"/><stop offset="0.571" stop-color="#ff7003"/><stop offset="0.589" stop-color="#ff6f03"/><stop offset="0.612" stop-color="#ff6e03"/><stop offset="0.635" stop-color="#ff6e03"/><stop offset="0.659" stop-color="#ff6e03"/><stop offset="0.682" stop-color="#ff6d03"/><stop offset="0.705" stop-color="#ff6d03"/><stop offset="0.728" stop-color="#ff6d03"/><stop offset="0.751" stop-color="#ff6c03"/><stop offset="0.774" stop-color="#ff6c03"/><stop offset="0.797" stop-color="#ff6c03"/><stop offset="0.821" stop-color="#ff6b03"/><stop offset="0.844" stop-color="#ff6b03"/><stop offset="0.867" stop-color="#ff6b04"/><stop offset="0.890" stop-color="#ff6a04"/><stop offset="0.913" stop-color="#ff6a04"/><stop offset="0.936" stop-color="#ff6a04"/><stop offset="0.959" stop-color="#ff6a04"/><stop offset="1.000" stop-color="#ff6904"/></linearGradient><linearGradient id="g19" x1="0" y1="0" x2="0" y2="1"><stop offset="0.000" stop-color="#fff939"/><stop offset="0.034" stop-color="#fff93d"/><stop offset="0.061" stop-color="#fffb26"/><stop offset="0.094" stop-color="#fffd14"/><stop offset="0.126" stop-color="#ffff01"/><stop offset="0.161" stop-color="#ffef00"/><stop offset="0.196" stop-color="#ffde00"/><stop offset="0.230" stop-color="#ffce00"/><stop offset="0.265" stop-color="#ffc000"/><stop offset="0.300" stop-color="#ffb200"/><stop offset="0.334" stop-color="#ffa400"/><stop offset="0.358" stop-color="#ff9a00"/><stop offset="0.381" stop-color="#ff9100"/><stop offset="0.404" stop-color="#ff8900"/><stop offset="0.427" stop-color="#ff8000"/><stop offset="0.446" stop-color="#ff7c01"/><stop offset="0.462" stop-color="#ff7801"/><stop offset="0.473" stop-color="#ff7502"/><stop offset="0.485" stop-color="#ff7202"/><stop offset="0.494" stop-color="#ff7102"/><stop offset="0.501" stop-color="#ff7103"/><stop offset="0.515" stop-color="#ff6f03"/><stop offset="0.531" stop-color="#ff6e03"/><stop offset="0.543" stop-color="#ff6d03"/><stop offset="0.554" stop-color="#ff6c03"/><stop offset="0.571" stop-color="#ff6a04"/><stop offset="0.589" stop-color="#ff6804"/><stop offset="0.612" stop-color="#ff6804"/><stop offset="0.635" stop-color="#ff6804"/><stop offset="0.659" stop-color="#ff6804"/><stop offset="0.682" stop-color="#ff6704"/><stop offset="0.705" stop-color="#ff6704"/><stop offset="0.728" stop-color="#ff6704"/><stop offset="0.751" stop-color="#ff6704"/><stop offset="0.774" stop-color="#ff6604"/><stop offset="0.797" stop-color="#ff6604"/><stop offset="0.821" stop-color="#ff6604"/><stop offset="0.844" stop-color="#ff6604"/><stop offset="0.867" stop-color="#ff6504"/><stop offset="0.890" stop-color="#ff6504"/><stop offset="0.913" stop-color="#ff6505"/><stop offset="0.936" stop-color="#ff6505"/><stop offset="0.959" stop-color="#ff6405"/><stop offset="1.000" stop-color="#ff6405"/></linearGradient><linearGradient id="g20" x1="0" y1="0" x2="0" y2="1"><stop offset="0.000" stop-color="#fffb2d"/><stop offset="0.034" stop-color="#fffa2d"/><stop offset="0.061" stop-color="#fffc1f"/><stop offset="0.094" stop-color="#fffe0f"/><stop offset="0.126" stop-color="#fffe00"/><stop offset="0.161" stop-color="#ffec00"/><stop offset="0.196" stop-color="#ffdb00"/><stop offset="0.230" stop-color="#ffcb00"/><stop offset="0.265" stop-color="#ffbb00"/><stop offset="0.300" stop-color="#ffad00"/><stop offset="0.334" stop-color="#ff9f00"/><stop offset="0.358" stop-color="#ff9600"/><stop offset="0.381" stop-color="#ff8d00"/><stop offset="0.404" stop-color="#ff8500"/><stop offset="0.427" stop-color="#ff7d00"/><stop offset="0.446" stop-color="#ff7901"/><stop offset="0.462" stop-color="#ff7502"/><stop offset="0.473" stop-color="#ff7202"/><stop offset="0.485" stop-color="#ff6f03"/><stop offset="0.494" stop-color="#ff6e03"/><stop offset="0.501" stop-color="#ff6d03"/><stop offset="0.515" stop-color="#ff6b03"/><stop offset="0.531" stop-color="#ff6904"/><stop offset="0.543" stop-color="#ff6804"/><stop offset="0.554" stop-color="#ff6604"/><stop offset="0.571" stop-color="#ff6405"/><stop offset="0.589" stop-color="#ff6205"/><stop offset="0.612" stop-color="#ff6205"/><stop offset="0.635" stop-color="#ff6205"/><stop offset="0.659" stop-color="#ff6205"/><stop offset="0.682" stop-color="#ff6105"/><stop offset="0.705" stop-color="#ff6105"/><stop offset="0.728" stop-color="#ff6105"/><stop offset="0.751" stop-color="#ff6105"/><stop offset="0.774" stop-color="#ff6105"/><stop offset="0.797" stop-color="#ff6105"/><stop offset="0.821" stop-color="#ff6005"/><stop offset="0.844" stop-color="#ff6005"/><stop offset="0.867" stop-color="#ff6005"/><stop offset="0.890" stop-color="#ff6005"/><stop offset="0.913" stop-color="#ff6005"/><stop offset="0.936" stop-color="#ff6005"/><stop offset="0.959" stop-color="#ff5f05"/><stop offset="1.000" stop-color="#ff5f05"/></linearGradient><linearGradient id="g21" x1="0" y1="0" x2="0" y2="1"><stop offset="0.000" stop-color="#fffb23"/><stop offset="0.034" stop-color="#fffc22"/><stop offset="0.061" stop-color="#fffd17"/><stop offset="0.094" stop-color="#fffe0a"/><stop offset="0.126" stop-color="#fffc00"/><stop offset="0.161" stop-color="#ffea00"/><stop offset="0.196" stop-color="#ffd800"/><stop offset="0.230" stop-color="#ffc700"/><stop offset="0.265" stop-color="#ffb700"/><stop offset="0.300" stop-color="#ffa800"/><stop offset="0.334" stop-color="#ff9b00"/><stop offset="0.358" stop-color="#ff9200"/><stop offset="0.381" stop-color="#ff8900"/><stop offset="0.404" stop-color="#ff8200"/><stop offset="0.427" stop-color="#ff7a01"/><stop offset="0.446" stop-color="#ff7502"/><stop offset="0.462" stop-color="#ff7102"/><stop offset="0.473" stop-color="#ff6e03"/><stop offset="0.485" stop-color="#ff6c03"/><stop offset="0.494" stop-color="#ff6a04"/><stop offset="0.501" stop-color="#ff6904"/><stop offset="0.515" stop-color="#ff6704"/><stop offset="0.531" stop-color="#ff6505"/><stop offset="0.543" stop-color="#ff6305"/><stop offset="0.554" stop-color="#ff6105"/><stop offset="0.571" stop-color="#ff5f06"/><stop offset="0.589" stop-color="#ff5c06"/><stop offset="0.612" stop-color="#ff5c06"/><stop offset="0.635" stop-color="#ff5c06"/><stop offset="0.659" stop-color="#ff5c06"/><stop offset="0.682" stop-color="#ff5c06"/><stop offset="0.705" stop-color="#ff5b06"/><stop offset="0.728" stop-color="#ff5b06"/><stop offset="0.751" stop-color="#ff5b06"/><stop offset="0.774" stop-color="#ff5b06"/><stop offset="0.797" stop-color="#ff5b06"/><stop offset="0.821" stop-color="#ff5b06"/><stop offset="0.844" stop-color="#ff5b06"/><stop offset="0.867" stop-color="#ff5b06"/><stop offset="0.890" stop-color="#ff5b06"/><stop offset="0.913" stop-color="#ff5a06"/><stop offset="0.936" stop-color="#ff5a06"/><stop offset="0.959" stop-color="#ff5a06"/><stop offset="1.000" stop-color="#ff5a06"/></linearGradient><linearGradient id="g22" x1="0" y1="0" x2="0" y2="1"><stop offset="0.000" stop-color="#fffc1a"/><stop offset="0.034" stop-color="#fffd16"/><stop offset="0.061" stop-color="#fffd0f"/><stop offset="0.094" stop-color="#ffff05"/><stop offset="0.126" stop-color="#fffa00"/><stop offset="0.161" stop-color="#ffe700"/><stop offset="0.196" stop-color="#ffd400"/><stop offset="0.230" stop-color="#ffc300"/><stop offset="0.265" stop-color="#ffb200"/><stop offset="0.300" stop-color="#ffa400"/><stop offset="0.334" stop-color="#ff9700"/><stop offset="0.358" stop-color="#ff8e00"/><stop offset="0.381" stop-color="#ff8500"/><stop offset="0.404" stop-color="#ff7e00"/><stop offset="0.427" stop-color="#ff7602"/><stop offset="0.446" stop-color="#ff7202"/><stop offset="0.462" stop-color="#ff6e03"/><stop offset="0.473" stop-color="#ff6b03"/><stop offset="0.485" stop-color="#ff6804"/><stop offset="0.494" stop-color="#ff6704"/><stop offset="0.501" stop-color="#ff6604"/><stop offset="0.515" stop-color="#ff6305"/><stop offset="0.531" stop-color="#ff6005"/><stop offset="0.543" stop-color="#ff5e06"/><stop offset="0.554" stop-color="#ff5c06"/><stop offset="0.571" stop-color="#ff5906"/><stop offset="0.589" stop-color="#ff5607"/><stop offset="0.612" stop-color="#ff5607"/><stop offset="0.635" stop-color="#ff5607"/><stop offset="0.659" stop-color="#ff5607"/><stop offset="0.682" stop-color="#ff5607"/><stop offset="0.705" stop-color="#ff5607"/><stop offset="0.728" stop-color="#ff5507"/><stop offset="0.751" stop-color="#ff5507"/><stop offset="0.774" stop-color="#ff5507"/><stop offset="0.797" stop-color="#ff5507"/><stop offset="0.821" stop-color="#ff5507"/><stop offset="0.844" stop-color="#ff5507"/><stop offset="0.867" stop-color="#ff5507"/><stop offset="0.890" stop-color="#ff5507"/><stop offset="0.913" stop-color="#ff5507"/><stop offset="0.936" stop-color="#ff5507"/><stop offset="0.959" stop-color="#ff5507"/><stop offset="1.000" stop-color="#ff5507"/></linearGradient><linearGradient id="g23" x1="0" y1="0" x2="0" y2="1"><stop offset="0.000" stop-color="#fffd12"/><stop offset="0.034" stop-color="#fffe0d"/><stop offset="0.061" stop-color="#fffe09"/><stop offset="0.094" stop-color="#ffff00"/><stop offset="0.126" stop-color="#fff700"/><stop offset="0.161" stop-color="#ffe400"/><stop offset="0.196" stop-color="#ffd200"/><stop offset="0.230" stop-color="#ffc000"/><stop offset="0.265" stop-color="#ffaf00"/><stop offset="0.300" stop-color="#ffa100"/><stop offset="0.334" stop-color="#ff9300"/><stop offset="0.358" stop-color="#ff8a00"/><stop offset="0.381" stop-color="#ff8100"/><stop offset="0.404" stop-color="#ff7901"/><stop offset="0.427" stop-color="#ff7102"/><stop offset="0.446" stop-color="#ff6d03"/><stop offset="0.462" stop-color="#ff6904"/><stop offset="0.473" stop-color="#ff6604"/><stop offset="0.485" stop-color="#ff6305"/><stop offset="0.494" stop-color="#ff6105"/><stop offset="0.501" stop-color="#ff6005"/><stop offset="0.515" stop-color="#ff5d06"/><stop offset="0.531" stop-color="#ff5a06"/><stop offset="0.543" stop-color="#ff5807"/><stop offset="0.554" stop-color="#ff5607"/><stop offset="0.571" stop-color="#ff5308"/><stop offset="0.589" stop-color="#ff4f08"/><stop offset="0.612" stop-color="#ff4f08"/><stop offset="0.635" stop-color="#ff4f08"/><stop offset="0.659" stop-color="#ff5008"/><stop offset="0.682" stop-color="#ff5008"/><stop offset="0.705" stop-color="#ff5008"/><stop offset="0.728" stop-color="#ff5008"/><stop offset="0.751" stop-color="#ff5008"/><stop offset="0.774" stop-color="#ff5008"/><stop offset="0.797" stop-color="#ff5008"/><stop offset="0.821" stop-color="#ff5008"/><stop offset="0.844" stop-color="#ff5008"/><stop offset="0.867" stop-color="#ff5008"/><stop offset="0.890" stop-color="#ff5008"/><stop offset="0.913" stop-color="#ff5008"/><stop offset="0.936" stop-color="#ff5008"/><stop offset="0.959" stop-color="#ff5008"/><stop offset="1.000" stop-color="#ff5008"/></linearGradient><linearGradient id="g24" x1="0" y1="0" x2="0" y2="1"><stop offset="0.000" stop-color="#fffe0b"/><stop offset="0.034" stop-color="#fffe07"/><stop offset="0.061" stop-color="#ffff03"/><stop offset="0.094" stop-color="#fffa00"/><stop offset="0.126" stop-color="#fff300"/><stop offset="0.161" stop-color="#ffe100"/><stop offset="0.196" stop-color="#ffcf00"/><stop offset="0.230" stop-color="#ffbf00"/><stop offset="0.265" stop-color="#ffae00"/><stop offset="0.300" stop-color="#ff9f00"/><stop offset="0.334" stop-color="#ff9100"/><stop offset="0.358" stop-color="#ff8700"/><stop offset="0.381" stop-color="#ff7d01"/><stop offset="0.404" stop-color="#ff7402"/><stop offset="0.427" stop-color="#ff6b03"/><stop offset="0.446" stop-color="#ff6604"/><stop offset="0.462" stop-color="#ff6205"/><stop offset="0.473" stop-color="#ff5f06"/><stop offset="0.485" stop-color="#ff5b06"/><stop offset="0.494" stop-color="#ff5a06"/><stop offset="0.501" stop-color="#ff5907"/><stop offset="0.515" stop-color="#ff5607"/><stop offset="0.531" stop-color="#ff5307"/><stop offset="0.543" stop-color="#ff5108"/><stop offset="0.554" stop-color="#ff4f08"/><stop offset="0.571" stop-color="#ff4c07"/><stop offset="0.589" stop-color="#ff4807"/><stop offset="0.612" stop-color="#ff4807"/><stop offset="0.635" stop-color="#ff4807"/><stop offset="0.659" stop-color="#ff4807"/><stop offset="0.682" stop-color="#ff4907"/><stop offset="0.705" stop-color="#ff4907"/><stop offset="0.728" stop-color="#ff4907"/><stop offset="0.751" stop-color="#ff4907"/><stop offset="0.774" stop-color="#ff4907"/><stop offset="0.797" stop-color="#ff4907"/><stop offset="0.821" stop-color="#ff4907"/><stop offset="0.844" stop-color="#ff4907"/><stop offset="0.867" stop-color="#ff4907"/><stop offset="0.890" stop-color="#ff4907"/><stop offset="0.913" stop-color="#ff4907"/><stop offset="0.936" stop-color="#ff4907"/><stop offset="0.959" stop-color="#ff4907"/><stop offset="1.000" stop-color="#ff4907"/></linearGradient><linearGradient id="g25" x1="0" y1="0" x2="0" y2="1"><stop offset="0.000" stop-color="#ffff03"/><stop offset="0.034" stop-color="#ffff00"/><stop offset="0.061" stop-color="#fffc00"/><stop offset="0.094" stop-color="#fff600"/><stop offset="0.126" stop-color="#fff000"/><stop offset="0.161" stop-color="#ffde00"/><stop offset="0.196" stop-color="#ffcd00"/><stop offset="0.230" stop-color="#ffbd00"/><stop offset="0.265" stop-color="#ffac00"/><stop offset="0.300" stop-color="#ff9d00"/><stop offset="0.334" stop-color="#ff8f00"/><stop offset="0.358" stop-color="#ff8400"/><stop offset="0.381" stop-color="#ff7801"/><stop offset="0.404" stop-color="#ff6f03"/><stop offset="0.427" stop-color="#ff6604"/><stop offset="0.446" stop-color="#ff6005"/><stop offset="0.462" stop-color="#ff5b06"/><stop offset="0.473" stop-color="#ff5707"/><stop offset="0.485" stop-color="#ff5407"/><stop offset="0.494" stop-color="#ff5208"/><stop offset="0.501" stop-color="#ff5108"/><stop offset="0.515" stop-color="#ff4f08"/><stop offset="0.531" stop-color="#ff4c07"/><stop offset="0.543" stop-color="#ff4a07"/><stop offset="0.554" stop-color="#ff4807"/><stop offset="0.571" stop-color="#ff4506"/><stop offset="0.589" stop-color="#ff4106"/><stop offset="0.612" stop-color="#ff4106"/><stop offset="0.635" stop-color="#ff4106"/><stop offset="0.659" stop-color="#ff4106"/><stop offset="0.682" stop-color="#ff4206"/><stop offset="0.705" stop-color="#ff4206"/><stop offset="0.728" stop-color="#ff4206"/><stop offset="0.751" stop-color="#ff4206"/><stop offset="0.774" stop-color="#ff4206"/><stop offset="0.797" stop-color="#ff4206"/><stop offset="0.821" stop-color="#ff4206"/><stop offset="0.844" stop-color="#ff4206"/><stop offset="0.867" stop-color="#ff4206"/><stop offset="0.890" stop-color="#ff4206"/><stop offset="0.913" stop-color="#ff4306"/><stop offset="0.936" stop-color="#ff4306"/><stop offset="0.959" stop-color="#ff4306"/><stop offset="1.000" stop-color="#ff4306"/></linearGradient><linearGradient id="g26" x1="0" y1="0" x2="0" y2="1"><stop offset="0.000" stop-color="#fffb00"/><stop offset="0.034" stop-color="#fff900"/><stop offset="0.061" stop-color="#fff600"/><stop offset="0.094" stop-color="#fff200"/><stop offset="0.126" stop-color="#ffed00"/><stop offset="0.161" stop-color="#ffdc00"/><stop offset="0.196" stop-color="#ffcc00"/><stop offset="0.230" stop-color="#ffbc00"/><stop offset="0.265" stop-color="#ffac00"/><stop offset="0.300" stop-color="#ff9c00"/><stop offset="0.334" stop-color="#ff8c00"/><stop offset="0.358" stop-color="#ff8100"/><stop offset="0.381" stop-color="#ff7202"/><stop offset="0.404" stop-color="#ff6804"/><stop offset="0.427" stop-color="#ff5e06"/><stop offset="0.446" stop-color="#ff5807"/><stop offset="0.462" stop-color="#ff5308"/><stop offset="0.473" stop-color="#ff4f08"/><stop offset="0.485" stop-color="#ff4a07"/><stop offset="0.494" stop-color="#ff4807"/><stop offset="0.501" stop-color="#ff4707"/><stop offset="0.515" stop-color="#ff4506"/><stop offset="0.531" stop-color="#ff4206"/><stop offset="0.543" stop-color="#ff4106"/><stop offset="0.554" stop-color="#ff3f06"/><stop offset="0.571" stop-color="#ff3c05"/><stop offset="0.589" stop-color="#ff3905"/><stop offset="0.612" stop-color="#ff3905"/><stop offset="0.635" stop-color="#ff3a05"/><stop offset="0.659" stop-color="#ff3a05"/><stop offset="0.682" stop-color="#ff3a05"/><stop offset="0.705" stop-color="#ff3a05"/><stop offset="0.728" stop-color="#ff3a05"/><stop offset="0.751" stop-color="#ff3a05"/><stop offset="0.774" stop-color="#ff3a05"/><stop offset="0.797" stop-color="#ff3a05"/><stop offset="0.821" stop-color="#ff3a05"/><stop offset="0.844" stop-color="#ff3b05"/><stop offset="0.867" stop-color="#ff3b05"/><stop offset="0.890" stop-color="#ff3c05"/><stop offset="0.913" stop-color="#ff3c05"/><stop offset="0.936" stop-color="#ff3c05"/><stop offset="0.959" stop-color="#ff3c05"/><stop offset="1.000" stop-color="#ff3d05"/></linearGradient><linearGradient id="g27" x1="0" y1="0" x2="0" y2="1"><stop offset="0.000" stop-color="#fff500"/><stop offset="0.034" stop-color="#fff300"/><stop offset="0.061" stop-color="#fff200"/><stop offset="0.094" stop-color="#ffef00"/><stop offset="0.126" stop-color="#ffed00"/><stop offset="0.161" stop-color="#ffde00"/><stop offset="0.196" stop-color="#ffcf00"/><stop offset="0.230" stop-color="#ffc000"/><stop offset="0.265" stop-color="#ffb000"/><stop offset="0.300" stop-color="#ff9b00"/><stop offset="0.334" stop-color="#ff8800"/><stop offset="0.358" stop-color="#ff7a01"/><stop offset="0.381" stop-color="#ff6904"/><stop offset="0.404" stop-color="#ff5d06"/><stop offset="0.427" stop-color="#ff5208"/><stop offset="0.446" stop-color="#ff4b07"/><stop offset="0.462" stop-color="#ff4506"/><stop offset="0.473" stop-color="#ff4006"/><stop offset="0.485" stop-color="#ff3c05"/><stop offset="0.494" stop-color="#ff3905"/><stop offset="0.501" stop-color="#ff3805"/><stop offset="0.515" stop-color="#ff3604"/><stop offset="0.531" stop-color="#ff3504"/><stop offset="0.543" stop-color="#ff3404"/><stop offset="0.554" stop-color="#ff3304"/><stop offset="0.571" stop-color="#ff3104"/><stop offset="0.589" stop-color="#ff2f03"/><stop offset="0.612" stop-color="#ff3003"/><stop offset="0.635" stop-color="#ff3003"/><stop offset="0.659" stop-color="#ff3003"/><stop offset="0.682" stop-color="#ff3003"/><stop offset="0.705" stop-color="#ff3003"/><stop offset="0.728" stop-color="#ff3003"/><stop offset="0.751" stop-color="#ff3003"/><stop offset="0.774" stop-color="#ff3003"/><stop offset="0.797" stop-color="#ff3003"/><stop offset="0.821" stop-color="#ff3003"/><stop offset="0.844" stop-color="#ff3204"/><stop offset="0.867" stop-color="#ff3304"/><stop offset="0.890" stop-color="#ff3504"/><stop offset="0.913" stop-color="#ff3704"/><stop offset="0.936" stop-color="#ff3704"/><stop offset="0.959" stop-color="#ff3704"/><stop offset="1.000" stop-color="#ff3704"/></linearGradient><linearGradient id="g28" x1="0" y1="0" x2="0" y2="1"><stop offset="0.000" stop-color="#fff100"/><stop offset="0.034" stop-color="#ffef00"/><stop offset="0.061" stop-color="#ffed00"/><stop offset="0.094" stop-color="#ffec00"/><stop offset="0.126" stop-color="#ffea00"/><stop offset="0.161" stop-color="#ffdc00"/><stop offset="0.196" stop-color="#ffcf00"/><stop offset="0.230" stop-color="#ffbf00"/><stop offset="0.265" stop-color="#ffb000"/><stop offset="0.300" stop-color="#ff9900"/><stop offset="0.334" stop-color="#ff8400"/><stop offset="0.358" stop-color="#ff7502"/><stop offset="0.381" stop-color="#ff6405"/><stop offset="0.404" stop-color="#ff5707"/><stop offset="0.427" stop-color="#ff4a07"/><stop offset="0.446" stop-color="#ff4206"/><stop offset="0.462" stop-color="#ff3c05"/><stop offset="0.473" stop-color="#ff3704"/><stop offset="0.485" stop-color="#ff3204"/><stop offset="0.494" stop-color="#ff3003"/><stop offset="0.501" stop-color="#ff2e03"/><stop offset="0.515" stop-color="#ff2d03"/><stop offset="0.531" stop-color="#ff2c03"/><stop offset="0.543" stop-color="#ff2b03"/><stop offset="0.554" stop-color="#ff2b03"/><stop offset="0.571" stop-color="#ff2a03"/><stop offset="0.589" stop-color="#ff2902"/><stop offset="0.612" stop-color="#ff2902"/><stop offset="0.635" stop-color="#ff2902"/><stop offset="0.659" stop-color="#ff2902"/><stop offset="0.682" stop-color="#ff2a03"/><stop offset="0.705" stop-color="#ff2a03"/><stop offset="0.728" stop-color="#ff2a03"/><stop offset="0.751" stop-color="#ff2a03"/><stop offset="0.774" stop-color="#ff2b03"/><stop offset="0.797" stop-color="#ff2b03"/><stop offset="0.821" stop-color="#ff2b03"/><stop offset="0.844" stop-color="#ff2d03"/><stop offset="0.867" stop-color="#ff3003"/><stop offset="0.890" stop-color="#ff3204"/><stop offset="0.913" stop-color="#ff3404"/><stop offset="0.936" stop-color="#ff3404"/><stop offset="0.959" stop-color="#ff3404"/><stop offset="1.000" stop-color="#ff3504"/></linearGradient><linearGradient id="g29" x1="0" y1="0" x2="0" y2="1"><stop offset="0.000" stop-color="#ffef00"/><stop offset="0.034" stop-color="#ffec00"/><stop offset="0.061" stop-color="#ffe900"/><stop offset="0.094" stop-color="#ffe700"/><stop offset="0.126" stop-color="#ffe500"/><stop offset="0.161" stop-color="#ffd800"/><stop offset="0.196" stop-color="#ffcb00"/><stop offset="0.230" stop-color="#ffbc00"/><stop offset="0.265" stop-color="#ffad00"/><stop offset="0.300" stop-color="#ff9700"/><stop offset="0.334" stop-color="#ff8200"/><stop offset="0.358" stop-color="#ff7202"/><stop offset="0.381" stop-color="#ff6105"/><stop offset="0.404" stop-color="#ff5407"/><stop offset="0.427" stop-color="#ff4607"/><stop offset="0.446" stop-color="#ff3e05"/><stop offset="0.462" stop-color="#ff3704"/><stop offset="0.473" stop-color="#ff3304"/><stop offset="0.485" stop-color="#ff2e03"/><stop offset="0.494" stop-color="#ff2b03"/><stop offset="0.501" stop-color="#ff2902"/><stop offset="0.515" stop-color="#ff2802"/><stop offset="0.531" stop-color="#ff2702"/><stop offset="0.543" stop-color="#ff2702"/><stop offset="0.554" stop-color="#ff2602"/><stop offset="0.571" stop-color="#ff2502"/><stop offset="0.589" stop-color="#ff2402"/><stop offset="0.612" stop-color="#ff2502"/><stop offset="0.635" stop-color="#ff2602"/><stop offset="0.659" stop-color="#ff2702"/><stop offset="0.682" stop-color="#ff2702"/><stop offset="0.705" stop-color="#ff2802"/><stop offset="0.728" stop-color="#ff2802"/><stop offset="0.751" stop-color="#ff2902"/><stop offset="0.774" stop-color="#ff2a03"/><stop offset="0.797" stop-color="#ff2a03"/><stop offset="0.821" stop-color="#ff2b03"/><stop offset="0.844" stop-color="#ff2e03"/><stop offset="0.867" stop-color="#ff3003"/><stop offset="0.890" stop-color="#ff3204"/><stop offset="0.913" stop-color="#ff3404"/><stop offset="0.936" stop-color="#ff3504"/><stop offset="0.959" stop-color="#ff3504"/><stop offset="1.000" stop-color="#ff3504"/></linearGradient><linearGradient id="g30" x1="0" y1="0" x2="0" y2="1"><stop offset="0.000" stop-color="#ffee00"/><stop offset="0.034" stop-color="#ffe900"/><stop offset="0.061" stop-color="#ffe400"/><stop offset="0.094" stop-color="#ffe200"/><stop offset="0.126" stop-color="#ffe100"/><stop offset="0.161" stop-color="#ffd300"/><stop offset="0.196" stop-color="#ffc700"/><stop offset="0.230" stop-color="#ffb900"/><stop offset="0.265" stop-color="#ffaa00"/><stop offset="0.300" stop-color="#ff9500"/><stop offset="0.334" stop-color="#ff7f00"/><stop offset="0.358" stop-color="#ff6f03"/><stop offset="0.381" stop-color="#ff5f06"/><stop offset="0.404" stop-color="#ff5208"/><stop offset="0.427" stop-color="#ff4306"/><stop offset="0.446" stop-color="#ff3b05"/><stop offset="0.462" stop-color="#ff3304"/><stop offset="0.473" stop-color="#ff2e03"/><stop offset="0.485" stop-color="#ff2902"/><stop offset="0.494" stop-color="#ff2602"/><stop offset="0.501" stop-color="#ff2302"/><stop offset="0.515" stop-color="#ff2302"/><stop offset="0.531" stop-color="#ff2201"/><stop offset="0.543" stop-color="#ff2201"/><stop offset="0.554" stop-color="#ff2101"/><stop offset="0.571" stop-color="#ff2101"/><stop offset="0.589" stop-color="#ff2001"/><stop offset="0.612" stop-color="#ff2101"/><stop offset="0.635" stop-color="#ff2201"/><stop offset="0.659" stop-color="#ff2402"/><stop offset="0.682" stop-color="#ff2502"/><stop offset="0.705" stop-color="#ff2602"/><stop offset="0.728" stop-color="#ff2702"/><stop offset="0.751" stop-color="#ff2802"/><stop offset="0.774" stop-color="#ff2902"/><stop offset="0.797" stop-color="#ff2a03"/><stop offset="0.821" stop-color="#ff2c03"/><stop offset="0.844" stop-color="#ff2e03"/><stop offset="0.867" stop-color="#ff3104"/><stop offset="0.890" stop-color="#ff3304"/><stop offset="0.913" stop-color="#ff3504"/><stop offset="0.936" stop-color="#ff3504"/><stop offset="0.959" stop-color="#ff3504"/><stop offset="1.000" stop-color="#ff3604"/></linearGradient><linearGradient id="g31" x1="0" y1="0" x2="0" y2="1"><stop offset="0.000" stop-color="#ffec00"/><stop offset="0.034" stop-color="#ffe500"/><stop offset="0.061" stop-color="#ffdf00"/><stop offset="0.094" stop-color="#ffde00"/><stop offset="0.126" stop-color="#ffdc00"/><stop offset="0.161" stop-color="#ffcf00"/><stop offset="0.196" stop-color="#ffc300"/><stop offset="0.230" stop-color="#ffb500"/><stop offset="0.265" stop-color="#ffa700"/><stop offset="0.300" stop-color="#ff9200"/><stop offset="0.334" stop-color="#ff7c01"/><stop offset="0.358" stop-color="#ff6c03"/><stop offset="0.381" stop-color="#ff5c06"/><stop offset="0.404" stop-color="#ff4f08"/><stop offset="0.427" stop-color="#ff4006"/><stop offset="0.446" stop-color="#ff3704"/><stop offset="0.462" stop-color="#ff2f03"/><stop offset="0.473" stop-color="#ff2902"/><stop offset="0.485" stop-color="#ff2402"/><stop offset="0.494" stop-color="#ff2101"/><stop offset="0.501" stop-color="#ff1e01"/><stop offset="0.515" stop-color="#ff1e01"/><stop offset="0.531" stop-color="#ff1d01"/><stop offset="0.543" stop-color="#ff1d01"/><stop offset="0.554" stop-color="#ff1d01"/><stop offset="0.571" stop-color="#ff1c01"/><stop offset="0.589" stop-color="#ff1c01"/><stop offset="0.612" stop-color="#ff1d01"/><stop offset="0.635" stop-color="#ff1f01"/><stop offset="0.659" stop-color="#ff2101"/><stop offset="0.682" stop-color="#ff2201"/><stop offset="0.705" stop-color="#ff2402"/><stop offset="0.728" stop-color="#ff2502"/><stop offset="0.751" stop-color="#ff2602"/><stop offset="0.774" stop-color="#ff2802"/><stop offset="0.797" stop-color="#ff2a03"/><stop offset="0.821" stop-color="#ff2c03"/><stop offset="0.844" stop-color="#ff2f03"/><stop offset="0.867" stop-color="#ff3204"/><stop offset="0.890" stop-color="#ff3304"/><stop offset="0.913" stop-color="#ff3504"/><stop offset="0.936" stop-color="#ff3504"/><stop offset="0.959" stop-color="#ff3604"/><stop offset="1.000" stop-color="#ff3704"/></linearGradient><linearGradient id="g32" x1="0" y1="0" x2="0" y2="1"><stop offset="0.000" stop-color="#ffea00"/><stop offset="0.034" stop-color="#ffe200"/><stop offset="0.061" stop-color="#ffdb00"/><stop offset="0.094" stop-color="#ffd900"/><stop offset="0.126" stop-color="#ffd700"/><stop offset="0.161" stop-color="#ffcb00"/><stop offset="0.196" stop-color="#ffbf00"/><stop offset="0.230" stop-color="#ffb200"/><stop offset="0.265" stop-color="#ffa400"/><stop offset="0.300" stop-color="#ff9000"/><stop offset="0.334" stop-color="#ff7901"/><stop offset="0.358" stop-color="#ff6904"/><stop offset="0.381" stop-color="#ff5906"/><stop offset="0.404" stop-color="#ff4c07"/><stop offset="0.427" stop-color="#ff3c05"/><stop offset="0.446" stop-color="#ff3304"/><stop offset="0.462" stop-color="#ff2b03"/><stop offset="0.473" stop-color="#ff2502"/><stop offset="0.485" stop-color="#ff1f01"/><stop offset="0.494" stop-color="#ff1c01"/><stop offset="0.501" stop-color="#ff1900"/><stop offset="0.515" stop-color="#ff1900"/><stop offset="0.531" stop-color="#ff1800"/><stop offset="0.543" stop-color="#ff1800"/><stop offset="0.554" stop-color="#ff1800"/><stop offset="0.571" stop-color="#ff1800"/><stop offset="0.589" stop-color="#ff1800"/><stop offset="0.612" stop-color="#ff1a00"/><stop offset="0.635" stop-color="#ff1c01"/><stop offset="0.659" stop-color="#ff1e01"/><stop offset="0.682" stop-color="#ff2001"/><stop offset="0.705" stop-color="#ff2201"/><stop offset="0.728" stop-color="#ff2302"/><stop offset="0.751" stop-color="#ff2502"/><stop offset="0.774" stop-color="#ff2702"/><stop offset="0.797" stop-color="#ff2902"/><stop offset="0.821" stop-color="#ff2c03"/><stop offset="0.844" stop-color="#ff2f03"/><stop offset="0.867" stop-color="#ff3204"/><stop offset="0.890" stop-color="#ff3304"/><stop offset="0.913" stop-color="#ff3504"/><stop offset="0.936" stop-color="#ff3604"/><stop offset="0.959" stop-color="#ff3704"/><stop offset="1.000" stop-color="#ff3805"/></linearGradient><linearGradient id="g33" x1="0" y1="0" x2="0" y2="1"><stop offset="0.000" stop-color="#ffe900"/><stop offset="0.034" stop-color="#ffdf00"/><stop offset="0.061" stop-color="#ffd600"/><stop offset="0.094" stop-color="#ffd400"/><stop offset="0.126" stop-color="#ffd200"/><stop offset="0.161" stop-color="#ffc700"/><stop offset="0.196" stop-color="#ffbb00"/><stop offset="0.230" stop-color="#ffae00"/><stop offset="0.265" stop-color="#ffa200"/><stop offset="0.300" stop-color="#ff8d00"/><stop offset="0.334" stop-color="#ff7602"/><stop offset="0.358" stop-color="#ff6704"/><stop offset="0.381" stop-color="#ff5707"/><stop offset="0.404" stop-color="#ff4807"/><stop offset="0.427" stop-color="#ff3905"/><stop offset="0.446" stop-color="#ff2f03"/><stop offset="0.462" stop-color="#ff2602"/><stop offset="0.473" stop-color="#ff2001"/><stop offset="0.485" stop-color="#ff1a00"/><stop offset="0.494" stop-color="#ff1700"/><stop offset="0.501" stop-color="#fe1500"/><stop offset="0.515" stop-color="#fe1500"/><stop offset="0.531" stop-color="#fe1500"/><stop offset="0.543" stop-color="#fe1500"/><stop offset="0.554" stop-color="#fe1500"/><stop offset="0.571" stop-color="#fe1500"/><stop offset="0.589" stop-color="#fe1500"/><stop offset="0.612" stop-color="#ff1600"/><stop offset="0.635" stop-color="#ff1800"/><stop offset="0.659" stop-color="#ff1b00"/><stop offset="0.682" stop-color="#ff1e01"/><stop offset="0.705" stop-color="#ff2001"/><stop offset="0.728" stop-color="#ff2201"/><stop offset="0.751" stop-color="#ff2402"/><stop offset="0.774" stop-color="#ff2602"/><stop offset="0.797" stop-color="#ff2902"/><stop offset="0.821" stop-color="#ff2c03"/><stop offset="0.844" stop-color="#ff2f03"/><stop offset="0.867" stop-color="#ff3304"/><stop offset="0.890" stop-color="#ff3404"/><stop offset="0.913" stop-color="#ff3504"/><stop offset="0.936" stop-color="#ff3604"/><stop offset="0.959" stop-color="#ff3704"/><stop offset="1.000" stop-color="#ff3905"/></linearGradient><linearGradient id="g34" x1="0" y1="0" x2="0" y2="1"><stop offset="0.000" stop-color="#ffe600"/><stop offset="0.034" stop-color="#ffdc00"/><stop offset="0.061" stop-color="#ffd200"/><stop offset="0.094" stop-color="#ffd000"/><stop offset="0.126" stop-color="#ffce00"/><stop offset="0.161" stop-color="#ffc300"/><stop offset="0.196" stop-color="#ffb800"/><stop offset="0.230" stop-color="#ffab00"/><stop offset="0.265" stop-color="#ff9f00"/><stop offset="0.300" stop-color="#ff8a00"/><stop offset="0.334" stop-color="#ff7302"/><stop offset="0.358" stop-color="#ff6405"/><stop offset="0.381" stop-color="#ff5407"/><stop offset="0.404" stop-color="#ff4506"/><stop offset="0.427" stop-color="#ff3604"/><stop offset="0.446" stop-color="#ff2b03"/><stop offset="0.462" stop-color="#ff2201"/><stop offset="0.473" stop-color="#ff1b00"/><stop offset="0.485" stop-color="#fe1600"/><stop offset="0.494" stop-color="#fe1300"/><stop offset="0.501" stop-color="#fd1000"/><stop offset="0.515" stop-color="#fd1100"/><stop offset="0.531" stop-color="#fe1100"/><stop offset="0.543" stop-color="#fe1100"/><stop offset="0.554" stop-color="#fe1100"/><stop offset="0.571" stop-color="#fe1200"/><stop offset="0.589" stop-color="#fe1200"/><stop offset="0.612" stop-color="#fe1400"/><stop offset="0.635" stop-color="#ff1600"/><stop offset="0.659" stop-color="#ff1800"/><stop offset="0.682" stop-color="#ff1b00"/><stop offset="0.705" stop-color="#ff1d01"/><stop offset="0.728" stop-color="#ff2001"/><stop offset="0.751" stop-color="#ff2201"/><stop offset="0.774" stop-color="#ff2502"/><stop offset="0.797" stop-color="#ff2802"/><stop offset="0.821" stop-color="#ff2c03"/><stop offset="0.844" stop-color="#ff2f03"/><stop offset="0.867" stop-color="#ff3304"/><stop offset="0.890" stop-color="#ff3404"/><stop offset="0.913" stop-color="#ff3504"/><stop offset="0.936" stop-color="#ff3704"/><stop offset="0.959" stop-color="#ff3805"/><stop offset="1.000" stop-color="#ff3a05"/></linearGradient><linearGradient id="g35" x1="0" y1="0" x2="0" y2="1"><stop offset="0.000" stop-color="#ffe300"/><stop offset="0.034" stop-color="#ffd900"/><stop offset="0.061" stop-color="#ffd000"/><stop offset="0.094" stop-color="#ffce00"/><stop offset="0.126" stop-color="#ffcc00"/><stop offset="0.161" stop-color="#ffc100"/><stop offset="0.196" stop-color="#ffb600"/><stop offset="0.230" stop-color="#ffa800"/><stop offset="0.265" stop-color="#ff9c00"/><stop offset="0.300" stop-color="#ff8800"/><stop offset="0.334" stop-color="#ff7003"/><stop offset="0.358" stop-color="#ff6005"/><stop offset="0.381" stop-color="#ff5108"/><stop offset="0.404" stop-color="#ff4206"/><stop offset="0.427" stop-color="#ff3204"/><stop offset="0.446" stop-color="#ff2702"/><stop offset="0.462" stop-color="#ff1d01"/><stop offset="0.473" stop-color="#ff1600"/><stop offset="0.485" stop-color="#fe1100"/><stop offset="0.494" stop-color="#fd0e00"/><stop offset="0.501" stop-color="#fc0b00"/><stop offset="0.515" stop-color="#fd0c00"/><stop offset="0.531" stop-color="#fd0d00"/><stop offset="0.543" stop-color="#fd0e00"/><stop offset="0.554" stop-color="#fd0e00"/><stop offset="0.571" stop-color="#fd0f00"/><stop offset="0.589" stop-color="#fd0f00"/><stop offset="0.612" stop-color="#fe1100"/><stop offset="0.635" stop-color="#fe1300"/><stop offset="0.659" stop-color="#fe1500"/><stop offset="0.682" stop-color="#ff1700"/><stop offset="0.705" stop-color="#ff1a00"/><stop offset="0.728" stop-color="#ff1d01"/><stop offset="0.751" stop-color="#ff2101"/><stop offset="0.774" stop-color="#ff2402"/><stop offset="0.797" stop-color="#ff2702"/><stop offset="0.821" stop-color="#ff2b03"/><stop offset="0.844" stop-color="#ff2f03"/><stop offset="0.867" stop-color="#ff3304"/><stop offset="0.890" stop-color="#ff3404"/><stop offset="0.913" stop-color="#ff3604"/><stop offset="0.936" stop-color="#ff3704"/><stop offset="0.959" stop-color="#ff3905"/><stop offset="1.000" stop-color="#ff3c05"/></linearGradient><linearGradient id="g36" x1="0" y1="0" x2="0" y2="1"><stop offset="0.000" stop-color="#ffdf00"/><stop offset="0.034" stop-color="#ffd600"/><stop offset="0.061" stop-color="#ffce00"/><stop offset="0.094" stop-color="#ffcb00"/><stop offset="0.126" stop-color="#ffc900"/><stop offset="0.161" stop-color="#ffbe00"/><stop offset="0.196" stop-color="#ffb300"/><stop offset="0.230" stop-color="#ffa500"/><stop offset="0.265" stop-color="#ff9900"/><stop offset="0.300" stop-color="#ff8500"/><stop offset="0.334" stop-color="#ff6d03"/><stop offset="0.358" stop-color="#ff5d06"/><stop offset="0.381" stop-color="#ff4d08"/><stop offset="0.404" stop-color="#ff3e05"/><stop offset="0.427" stop-color="#ff2f03"/><stop offset="0.446" stop-color="#ff2302"/><stop offset="0.462" stop-color="#ff1800"/><stop offset="0.473" stop-color="#fe1200"/><stop offset="0.485" stop-color="#fd0d00"/><stop offset="0.494" stop-color="#fc0900"/><stop offset="0.501" stop-color="#fb0600"/><stop offset="0.515" stop-color="#fc0800"/><stop offset="0.531" stop-color="#fc0900"/><stop offset="0.543" stop-color="#fc0b00"/><stop offset="0.554" stop-color="#fc0b00"/><stop offset="0.571" stop-color="#fd0c00"/><stop offset="0.589" stop-color="#fd0d00"/><stop offset="0.612" stop-color="#fd0f00"/><stop offset="0.635" stop-color="#fe1100"/><stop offset="0.659" stop-color="#fe1300"/><stop offset="0.682" stop-color="#fe1500"/><stop offset="0.705" stop-color="#ff1800"/><stop offset="0.728" stop-color="#ff1b00"/><stop offset="0.751" stop-color="#ff1f01"/><stop offset="0.774" stop-color="#ff2302"/><stop offset="0.797" stop-color="#ff2702"/><stop offset="0.821" stop-color="#ff2b03"/><stop offset="0.844" stop-color="#ff2f03"/><stop offset="0.867" stop-color="#ff3304"/><stop offset="0.890" stop-color="#ff3504"/><stop offset="0.913" stop-color="#ff3604"/><stop offset="0.936" stop-color="#ff3805"/><stop offset="0.959" stop-color="#ff3a05"/><stop offset="1.000" stop-color="#ff3d05"/></linearGradient><linearGradient id="g37" x1="0" y1="0" x2="0" y2="1"><stop offset="0.000" stop-color="#ffdc00"/><stop offset="0.034" stop-color="#ffd300"/><stop offset="0.061" stop-color="#ffcc00"/><stop offset="0.094" stop-color="#ffc900"/><stop offset="0.126" stop-color="#ffc600"/><stop offset="0.161" stop-color="#ffbb00"/><stop offset="0.196" stop-color="#ffb000"/><stop offset="0.230" stop-color="#ffa200"/><stop offset="0.265" stop-color="#ff9500"/><stop offset="0.300" stop-color="#ff8200"/><stop offset="0.334" stop-color="#ff6a04"/><stop offset="0.358" stop-color="#ff5a06"/><stop offset="0.381" stop-color="#ff4a07"/><stop offset="0.404" stop-color="#ff3b05"/><stop offset="0.427" stop-color="#ff2b03"/><stop offset="0.446" stop-color="#ff1e01"/><stop offset="0.462" stop-color="#fe1400"/><stop offset="0.473" stop-color="#fd0e00"/><stop offset="0.485" stop-color="#fc0800"/><stop offset="0.494" stop-color="#fb0400"/><stop offset="0.501" stop-color="#fa0100"/><stop offset="0.515" stop-color="#fb0300"/><stop offset="0.531" stop-color="#fb0600"/><stop offset="0.543" stop-color="#fb0700"/><stop offset="0.554" stop-color="#fc0800"/><stop offset="0.571" stop-color="#fc0900"/><stop offset="0.589" stop-color="#fc0b00"/><stop offset="0.612" stop-color="#fd0d00"/><stop offset="0.635" stop-color="#fd0f00"/><stop offset="0.659" stop-color="#fd1100"/><stop offset="0.682" stop-color="#fe1300"/><stop offset="0.705" stop-color="#ff1600"/><stop offset="0.728" stop-color="#ff1900"/><stop offset="0.751" stop-color="#ff1d01"/><stop offset="0.774" stop-color="#ff2101"/><stop offset="0.797" stop-color="#ff2602"/><stop offset="0.821" stop-color="#ff2a03"/><stop offset="0.844" stop-color="#ff2f03"/><stop offset="0.867" stop-color="#ff3304"/><stop offset="0.890" stop-color="#ff3504"/><stop offset="0.913" stop-color="#ff3704"/><stop offset="0.936" stop-color="#ff3905"/><stop offset="0.959" stop-color="#ff3b05"/><stop offset="1.000" stop-color="#ff3e05"/></linearGradient><linearGradient id="g38" x1="0" y1="0" x2="0" y2="1"><stop offset="0.000" stop-color="#ffd800"/><stop offset="0.034" stop-color="#ffd000"/><stop offset="0.061" stop-color="#ffca00"/><stop offset="0.094" stop-color="#ffc600"/><stop offset="0.126" stop-color="#ffc300"/><stop offset="0.161" stop-color="#ffb900"/><stop offset="0.196" stop-color="#ffae00"/><stop offset="0.230" stop-color="#ff9f00"/><stop offset="0.265" stop-color="#ff9200"/><stop offset="0.300" stop-color="#ff7f00"/><stop offset="0.334" stop-color="#ff6704"/><stop offset="0.358" stop-color="#ff5707"/><stop offset="0.381" stop-color="#ff4607"/><stop offset="0.404" stop-color="#ff3704"/><stop offset="0.427" stop-color="#ff2802"/><stop offset="0.446" stop-color="#ff1a00"/><stop offset="0.462" stop-color="#fe1100"/><stop offset="0.473" stop-color="#fc0a00"/><stop offset="0.485" stop-color="#fb0400"/><stop offset="0.494" stop-color="#fa0000"/><stop offset="0.501" stop-color="#f60000"/><stop offset="0.515" stop-color="#f90000"/><stop offset="0.531" stop-color="#fa0200"/><stop offset="0.543" stop-color="#fb0400"/><stop offset="0.554" stop-color="#fb0500"/><stop offset="0.571" stop-color="#fb0600"/><stop offset="0.589" stop-color="#fc0800"/><stop offset="0.612" stop-color="#fc0a00"/><stop offset="0.635" stop-color="#fd0c00"/><stop offset="0.659" stop-color="#fd0e00"/><stop offset="0.682" stop-color="#fd1000"/><stop offset="0.705" stop-color="#fe1400"/><stop offset="0.728" stop-color="#ff1700"/><stop offset="0.751" stop-color="#ff1c01"/><stop offset="0.774" stop-color="#ff2001"/><stop offset="0.797" stop-color="#ff2502"/><stop offset="0.821" stop-color="#ff2a03"/><stop offset="0.844" stop-color="#ff2e03"/><stop offset="0.867" stop-color="#ff3304"/><stop offset="0.890" stop-color="#ff3504"/><stop offset="0.913" stop-color="#ff3704"/><stop offset="0.936" stop-color="#ff3a05"/><stop offset="0.959" stop-color="#ff3c05"/><stop offset="1.000" stop-color="#ff4006"/></linearGradient><linearGradient id="g39" x1="0" y1="0" x2="0" y2="1"><stop offset="0.000" stop-color="#ffd500"/><stop offset="0.034" stop-color="#ffce00"/><stop offset="0.061" stop-color="#ffc700"/><stop offset="0.094" stop-color="#ffc400"/><stop offset="0.126" stop-color="#ffc000"/><stop offset="0.161" stop-color="#ffb600"/><stop offset="0.196" stop-color="#ffab00"/><stop offset="0.230" stop-color="#ff9d00"/><stop offset="0.265" stop-color="#ff8f00"/><stop offset="0.300" stop-color="#ff7c01"/><stop offset="0.334" stop-color="#ff6305"/><stop offset="0.358" stop-color="#ff5407"/><stop offset="0.381" stop-color="#ff4306"/><stop offset="0.404" stop-color="#ff3404"/><stop offset="0.427" stop-color="#ff2502"/><stop offset="0.446" stop-color="#ff1700"/><stop offset="0.462" stop-color="#fd0d00"/><stop offset="0.473" stop-color="#fb0700"/><stop offset="0.485" stop-color="#fa0000"/><stop offset="0.494" stop-color="#f40000"/><stop offset="0.501" stop-color="#f00000"/><stop offset="0.515" stop-color="#f40000"/><stop offset="0.531" stop-color="#f80000"/><stop offset="0.543" stop-color="#fa0000"/><stop offset="0.554" stop-color="#fa0200"/><stop offset="0.571" stop-color="#fb0400"/><stop offset="0.589" stop-color="#fb0600"/><stop offset="0.612" stop-color="#fc0800"/><stop offset="0.635" stop-color="#fc0a00"/><stop offset="0.659" stop-color="#fc0c00"/><stop offset="0.682" stop-color="#fd0e00"/><stop offset="0.705" stop-color="#fe1200"/><stop offset="0.728" stop-color="#fe1600"/><stop offset="0.751" stop-color="#ff1a00"/><stop offset="0.774" stop-color="#ff1f01"/><stop offset="0.797" stop-color="#ff2402"/><stop offset="0.821" stop-color="#ff2902"/><stop offset="0.844" stop-color="#ff2e03"/><stop offset="0.867" stop-color="#ff3304"/><stop offset="0.890" stop-color="#ff3504"/><stop offset="0.913" stop-color="#ff3805"/><stop offset="0.936" stop-color="#ff3a05"/><stop offset="0.959" stop-color="#ff3d05"/><stop offset="1.000" stop-color="#ff4106"/></linearGradient><linearGradient id="g40" x1="0" y1="0" x2="0" y2="1"><stop offset="0.000" stop-color="#ffd100"/><stop offset="0.034" stop-color="#ffcb00"/><stop offset="0.061" stop-color="#ffc500"/><stop offset="0.094" stop-color="#ffc100"/><stop offset="0.126" stop-color="#ffbe00"/><stop offset="0.161" stop-color="#ffb300"/><stop offset="0.196" stop-color="#ffa900"/><stop offset="0.230" stop-color="#ff9a00"/><stop offset="0.265" stop-color="#ff8c00"/><stop offset="0.300" stop-color="#ff7801"/><stop offset="0.334" stop-color="#ff6005"/><stop offset="0.358" stop-color="#ff5108"/><stop offset="0.381" stop-color="#ff3f06"/><stop offset="0.404" stop-color="#ff3003"/><stop offset="0.427" stop-color="#ff2101"/><stop offset="0.446" stop-color="#fe1400"/><stop offset="0.462" stop-color="#fc0a00"/><stop offset="0.473" stop-color="#fb0300"/><stop offset="0.485" stop-color="#f40000"/><stop offset="0.494" stop-color="#ef0000"/><stop offset="0.501" stop-color="#ea0000"/><stop offset="0.515" stop-color="#ee0000"/><stop offset="0.531" stop-color="#f30000"/><stop offset="0.543" stop-color="#f60000"/><stop offset="0.554" stop-color="#f80000"/><stop offset="0.571" stop-color="#fa0100"/><stop offset="0.589" stop-color="#fb0300"/><stop offset="0.612" stop-color="#fb0500"/><stop offset="0.635" stop-color="#fc0700"/><stop offset="0.659" stop-color="#fc0900"/><stop offset="0.682" stop-color="#fc0b00"/><stop offset="0.705" stop-color="#fd1000"/><stop offset="0.728" stop-color="#fe1400"/><stop offset="0.751" stop-color="#ff1800"/><stop offset="0.774" stop-color="#ff1e01"/><stop offset="0.797" stop-color="#ff2302"/><stop offset="0.821" stop-color="#ff2802"/><stop offset="0.844" stop-color="#ff2e03"/><stop offset="0.867" stop-color="#ff3304"/><stop offset="0.890" stop-color="#ff3604"/><stop offset="0.913" stop-color="#ff3805"/><stop offset="0.936" stop-color="#ff3b05"/><stop offset="0.959" stop-color="#ff3e05"/><stop offset="1.000" stop-color="#ff4306"/></linearGradient><linearGradient id="g41" x1="0" y1="0" x2="0" y2="1"><stop offset="0.000" stop-color="#ffce00"/><stop offset="0.034" stop-color="#ffc800"/><stop offset="0.061" stop-color="#ffc300"/><stop offset="0.094" stop-color="#ffbf00"/><stop offset="0.126" stop-color="#ffbb00"/><stop offset="0.161" stop-color="#ffb100"/><stop offset="0.196" stop-color="#ffa600"/><stop offset="0.230" stop-color="#ff9700"/><stop offset="0.265" stop-color="#ff8900"/><stop offset="0.300" stop-color="#ff7402"/><stop offset="0.334" stop-color="#ff5d06"/><stop offset="0.358" stop-color="#ff4d08"/><stop offset="0.381" stop-color="#ff3b05"/><stop offset="0.404" stop-color="#ff2d03"/><stop offset="0.427" stop-color="#ff1e01"/><stop offset="0.446" stop-color="#fd1100"/><stop offset="0.462" stop-color="#fb0600"/><stop offset="0.473" stop-color="#f80000"/><stop offset="0.485" stop-color="#ef0000"/><stop offset="0.494" stop-color="#e90000"/><stop offset="0.501" stop-color="#e40000"/><stop offset="0.515" stop-color="#e90000"/><stop offset="0.531" stop-color="#ef0000"/><stop offset="0.543" stop-color="#f20000"/><stop offset="0.554" stop-color="#f50000"/><stop offset="0.571" stop-color="#f80000"/><stop offset="0.589" stop-color="#fa0100"/><stop offset="0.612" stop-color="#fb0300"/><stop offset="0.635" stop-color="#fb0500"/><stop offset="0.659" stop-color="#fb0700"/><stop offset="0.682" stop-color="#fc0900"/><stop offset="0.705" stop-color="#fd0e00"/><stop offset="0.728" stop-color="#fe1200"/><stop offset="0.751" stop-color="#ff1700"/><stop offset="0.774" stop-color="#ff1d01"/><stop offset="0.797" stop-color="#ff2201"/><stop offset="0.821" stop-color="#ff2802"/><stop offset="0.844" stop-color="#ff2d03"/><stop offset="0.867" stop-color="#ff3304"/><stop offset="0.890" stop-color="#ff3604"/><stop offset="0.913" stop-color="#ff3905"/><stop offset="0.936" stop-color="#ff3c05"/><stop offset="0.959" stop-color="#ff3f06"/><stop offset="1.000" stop-color="#ff4406"/></linearGradient><linearGradient id="g42" x1="0" y1="0" x2="0" y2="1"><stop offset="0.000" stop-color="#ffce00"/><stop offset="0.034" stop-color="#ffc900"/><stop offset="0.061" stop-color="#ffc400"/><stop offset="0.094" stop-color="#ffbf00"/><stop offset="0.126" stop-color="#ffbb00"/><stop offset="0.161" stop-color="#ffb000"/><stop offset="0.196" stop-color="#ffa600"/><stop offset="0.230" stop-color="#ff9600"/><stop offset="0.265" stop-color="#ff8700"/><stop offset="0.300" stop-color="#ff7302"/><stop offset="0.334" stop-color="#ff5c06"/><stop offset="0.358" stop-color="#ff4b07"/><stop offset="0.381" stop-color="#ff3905"/><stop offset="0.404" stop-color="#ff2a03"/><stop offset="0.427" stop-color="#ff1b00"/><stop offset="0.446" stop-color="#fd0d00"/><stop offset="0.462" stop-color="#fb0200"/><stop offset="0.473" stop-color="#f30000"/><stop offset="0.485" stop-color="#e90000"/><stop offset="0.494" stop-color="#e30000"/><stop offset="0.501" stop-color="#df0000"/><stop offset="0.515" stop-color="#e40000"/><stop offset="0.531" stop-color="#ea0000"/><stop offset="0.543" stop-color="#ee0000"/><stop offset="0.554" stop-color="#f10000"/><stop offset="0.571" stop-color="#f40000"/><stop offset="0.589" stop-color="#f80000"/><stop offset="0.612" stop-color="#fa0000"/><stop offset="0.635" stop-color="#fb0300"/><stop offset="0.659" stop-color="#fb0500"/><stop offset="0.682" stop-color="#fb0700"/><stop offset="0.705" stop-color="#fc0c00"/><stop offset="0.728" stop-color="#fe1100"/><stop offset="0.751" stop-color="#ff1600"/><stop offset="0.774" stop-color="#ff1c01"/><stop offset="0.797" stop-color="#ff2201"/><stop offset="0.821" stop-color="#ff2802"/><stop offset="0.844" stop-color="#ff2e03"/><stop offset="0.867" stop-color="#ff3304"/><stop offset="0.890" stop-color="#ff3704"/><stop offset="0.913" stop-color="#ff3a05"/><stop offset="0.936" stop-color="#ff3e05"/><stop offset="0.959" stop-color="#ff4106"/><stop offset="1.000" stop-color="#ff4707"/></linearGradient><linearGradient id="g43" x1="0" y1="0" x2="0" y2="1"><stop offset="0.000" stop-color="#ffd100"/><stop offset="0.034" stop-color="#ffcb00"/><stop offset="0.061" stop-color="#ffc600"/><stop offset="0.094" stop-color="#ffc200"/><stop offset="0.126" stop-color="#ffbe00"/><stop offset="0.161" stop-color="#ffb200"/><stop offset="0.196" stop-color="#ffa700"/><stop offset="0.230" stop-color="#ff9700"/><stop offset="0.265" stop-color="#ff8700"/><stop offset="0.300" stop-color="#ff7302"/><stop offset="0.334" stop-color="#ff5c06"/><stop offset="0.358" stop-color="#ff4b07"/><stop offset="0.381" stop-color="#ff3805"/><stop offset="0.404" stop-color="#ff2802"/><stop offset="0.427" stop-color="#ff1700"/><stop offset="0.446" stop-color="#fc0a00"/><stop offset="0.462" stop-color="#f80000"/><stop offset="0.473" stop-color="#ed0000"/><stop offset="0.485" stop-color="#e20000"/><stop offset="0.494" stop-color="#dd0000"/><stop offset="0.501" stop-color="#d90000"/><stop offset="0.515" stop-color="#de0000"/><stop offset="0.531" stop-color="#e50000"/><stop offset="0.543" stop-color="#ea0000"/><stop offset="0.554" stop-color="#ec0000"/><stop offset="0.571" stop-color="#f00000"/><stop offset="0.589" stop-color="#f40000"/><stop offset="0.612" stop-color="#f70000"/><stop offset="0.635" stop-color="#fa0000"/><stop offset="0.659" stop-color="#fb0200"/><stop offset="0.682" stop-color="#fb0500"/><stop offset="0.705" stop-color="#fc0a00"/><stop offset="0.728" stop-color="#fd1000"/><stop offset="0.751" stop-color="#fe1500"/><stop offset="0.774" stop-color="#ff1b00"/><stop offset="0.797" stop-color="#ff2201"/><stop offset="0.821" stop-color="#ff2802"/><stop offset="0.844" stop-color="#ff2e03"/><stop offset="0.867" stop-color="#ff3404"/><stop offset="0.890" stop-color="#ff3805"/><stop offset="0.913" stop-color="#ff3c05"/><stop offset="0.936" stop-color="#ff4006"/><stop offset="0.959" stop-color="#ff4406"/><stop offset="1.000" stop-color="#ff4c07"/></linearGradient><linearGradient id="g44" x1="0" y1="0" x2="0" y2="1"><stop offset="0.000" stop-color="#ffd400"/><stop offset="0.034" stop-color="#ffce00"/><stop offset="0.061" stop-color="#ffc900"/><stop offset="0.094" stop-color="#ffc500"/><stop offset="0.126" stop-color="#ffc100"/><stop offset="0.161" stop-color="#ffb400"/><stop offset="0.196" stop-color="#ffa800"/><stop offset="0.230" stop-color="#ff9700"/><stop offset="0.265" stop-color="#ff8700"/><stop offset="0.300" stop-color="#ff7302"/><stop offset="0.334" stop-color="#ff5c06"/><stop offset="0.358" stop-color="#ff4a07"/><stop offset="0.381" stop-color="#ff3704"/><stop offset="0.404" stop-color="#ff2502"/><stop offset="0.427" stop-color="#fe1500"/><stop offset="0.446" stop-color="#fb0700"/><stop offset="0.462" stop-color="#f30000"/><stop offset="0.473" stop-color="#e70000"/><stop offset="0.485" stop-color="#db0000"/><stop offset="0.494" stop-color="#d60000"/><stop offset="0.501" stop-color="#d30000"/><stop offset="0.515" stop-color="#d90000"/><stop offset="0.531" stop-color="#e00000"/><stop offset="0.543" stop-color="#e50000"/><stop offset="0.554" stop-color="#e80000"/><stop offset="0.571" stop-color="#eb0000"/><stop offset="0.589" stop-color="#f00000"/><stop offset="0.612" stop-color="#f30000"/><stop offset="0.635" stop-color="#f70000"/><stop offset="0.659" stop-color="#fa0000"/><stop offset="0.682" stop-color="#fb0300"/><stop offset="0.705" stop-color="#fc0900"/><stop offset="0.728" stop-color="#fd0e00"/><stop offset="0.751" stop-color="#fe1400"/><stop offset="0.774" stop-color="#ff1a00"/><stop offset="0.797" stop-color="#ff2101"/><stop offset="0.821" stop-color="#ff2902"/><stop offset="0.844" stop-color="#ff2f03"/><stop offset="0.867" stop-color="#ff3504"/><stop offset="0.890" stop-color="#ff3905"/><stop offset="0.913" stop-color="#ff3e05"/><stop offset="0.936" stop-color="#ff4306"/><stop offset="0.959" stop-color="#ff4807"/><stop offset="1.000" stop-color="#ff5008"/></linearGradient><linearGradient id="g45" x1="0" y1="0" x2="0" y2="1"><stop offset="0.000" stop-color="#ffd700"/><stop offset="0.034" stop-color="#ffd100"/><stop offset="0.061" stop-color="#ffcb00"/><stop offset="0.094" stop-color="#ffc800"/><stop offset="0.126" stop-color="#ffc400"/><stop offset="0.161" stop-color="#ffb600"/><stop offset="0.196" stop-color="#ffa900"/><stop offset="0.230" stop-color="#ff9800"/><stop offset="0.265" stop-color="#ff8700"/><stop offset="0.300" stop-color="#ff7302"/><stop offset="0.334" stop-color="#ff5c06"/><stop offset="0.358" stop-color="#ff4a07"/><stop offset="0.381" stop-color="#ff3604"/><stop offset="0.404" stop-color="#ff2302"/><stop offset="0.427" stop-color="#fe1300"/><stop offset="0.446" stop-color="#fb0300"/><stop offset="0.462" stop-color="#ee0000"/><stop offset="0.473" stop-color="#e10000"/><stop offset="0.485" stop-color="#d40000"/><stop offset="0.494" stop-color="#d00000"/><stop offset="0.501" stop-color="#cd0000"/><stop offset="0.515" stop-color="#d30000"/><stop offset="0.531" stop-color="#db0000"/><stop offset="0.543" stop-color="#e00000"/><stop offset="0.554" stop-color="#e30000"/><stop offset="0.571" stop-color="#e70000"/><stop offset="0.589" stop-color="#ec0000"/><stop offset="0.612" stop-color="#f00000"/><stop offset="0.635" stop-color="#f40000"/><stop offset="0.659" stop-color="#f80000"/><stop offset="0.682" stop-color="#fa0100"/><stop offset="0.705" stop-color="#fb0700"/><stop offset="0.728" stop-color="#fd0d00"/><stop offset="0.751" stop-color="#fe1300"/><stop offset="0.774" stop-color="#ff1900"/><stop offset="0.797" stop-color="#ff2101"/><stop offset="0.821" stop-color="#ff2902"/><stop offset="0.844" stop-color="#ff2f03"/><stop offset="0.867" stop-color="#ff3604"/><stop offset="0.890" stop-color="#ff3b05"/><stop offset="0.913" stop-color="#ff4006"/><stop offset="0.936" stop-color="#ff4506"/><stop offset="0.959" stop-color="#ff4b07"/><stop offset="1.000" stop-color="#ff5407"/></linearGradient><linearGradient id="g46" x1="0" y1="0" x2="0" y2="1"><stop offset="0.000" stop-color="#ffda00"/><stop offset="0.034" stop-color="#ffd400"/><stop offset="0.061" stop-color="#ffce00"/><stop offset="0.094" stop-color="#ffca00"/><stop offset="0.126" stop-color="#ffc700"/><stop offset="0.161" stop-color="#ffb800"/><stop offset="0.196" stop-color="#ffaa00"/><stop offset="0.230" stop-color="#ff9800"/><stop offset="0.265" stop-color="#ff8700"/><stop offset="0.300" stop-color="#ff7302"/><stop offset="0.334" stop-color="#ff5c06"/><stop offset="0.358" stop-color="#ff4907"/><stop offset="0.381" stop-color="#ff3504"/><stop offset="0.404" stop-color="#ff2101"/><stop offset="0.427" stop-color="#fd1000"/><stop offset="0.446" stop-color="#fa0000"/><stop offset="0.462" stop-color="#e90000"/><stop offset="0.473" stop-color="#db0000"/><stop offset="0.485" stop-color="#cd0000"/><stop offset="0.494" stop-color="#c90000"/><stop offset="0.501" stop-color="#c70000"/><stop offset="0.515" stop-color="#ce0000"/><stop offset="0.531" stop-color="#d60000"/><stop offset="0.543" stop-color="#dc0000"/><stop offset="0.554" stop-color="#df0000"/><stop offset="0.571" stop-color="#e30000"/><stop offset="0.589" stop-color="#e80000"/><stop offset="0.612" stop-color="#ec0000"/><stop offset="0.635" stop-color="#f10000"/><stop offset="0.659" stop-color="#f50000"/><stop offset="0.682" stop-color="#f90000"/><stop offset="0.705" stop-color="#fb0600"/><stop offset="0.728" stop-color="#fc0c00"/><stop offset="0.751" stop-color="#fe1200"/><stop offset="0.774" stop-color="#ff1800"/><stop offset="0.797" stop-color="#ff2101"/><stop offset="0.821" stop-color="#ff2902"/><stop offset="0.844" stop-color="#ff3003"/><stop offset="0.867" stop-color="#ff3604"/><stop offset="0.890" stop-color="#ff3c05"/><stop offset="0.913" stop-color="#ff4206"/><stop offset="0.936" stop-color="#ff4807"/><stop offset="0.959" stop-color="#ff4e08"/><stop offset="1.000" stop-color="#ff5807"/></linearGradient><linearGradient id="g47" x1="0" y1="0" x2="0" y2="1"><stop offset="0.000" stop-color="#ffdd00"/><stop offset="0.034" stop-color="#ffd700"/><stop offset="0.061" stop-color="#ffd100"/><stop offset="0.094" stop-color="#ffcd00"/><stop offset="0.126" stop-color="#ffca00"/><stop offset="0.161" stop-color="#ffba00"/><stop offset="0.196" stop-color="#ffab00"/><stop offset="0.230" stop-color="#ff9900"/><stop offset="0.265" stop-color="#ff8700"/><stop offset="0.300" stop-color="#ff7302"/><stop offset="0.334" stop-color="#ff5c06"/><stop offset="0.358" stop-color="#ff4907"/><stop offset="0.381" stop-color="#ff3304"/><stop offset="0.404" stop-color="#ff1f01"/><stop offset="0.427" stop-color="#fd0e00"/><stop offset="0.446" stop-color="#f60000"/><stop offset="0.462" stop-color="#e40000"/><stop offset="0.473" stop-color="#d50000"/><stop offset="0.485" stop-color="#c50000"/><stop offset="0.494" stop-color="#c30000"/><stop offset="0.501" stop-color="#c10000"/><stop offset="0.515" stop-color="#c80000"/><stop offset="0.531" stop-color="#d10000"/><stop offset="0.543" stop-color="#d70000"/><stop offset="0.554" stop-color="#da0000"/><stop offset="0.571" stop-color="#df0000"/><stop offset="0.589" stop-color="#e40000"/><stop offset="0.612" stop-color="#e90000"/><stop offset="0.635" stop-color="#ed0000"/><stop offset="0.659" stop-color="#f20000"/><stop offset="0.682" stop-color="#f70000"/><stop offset="0.705" stop-color="#fb0400"/><stop offset="0.728" stop-color="#fc0a00"/><stop offset="0.751" stop-color="#fd1000"/><stop offset="0.774" stop-color="#ff1700"/><stop offset="0.797" stop-color="#ff2001"/><stop offset="0.821" stop-color="#ff2a03"/><stop offset="0.844" stop-color="#ff3003"/><stop offset="0.867" stop-color="#ff3704"/><stop offset="0.890" stop-color="#ff3d05"/><stop offset="0.913" stop-color="#ff4406"/><stop offset="0.936" stop-color="#ff4b07"/><stop offset="0.959" stop-color="#ff5108"/><stop offset="1.000" stop-color="#ff5b06"/></linearGradient><linearGradient id="g48" x1="0" y1="0" x2="0" y2="1"><stop offset="0.000" stop-color="#ffde00"/><stop offset="0.034" stop-color="#ffd700"/><stop offset="0.061" stop-color="#ffd200"/><stop offset="0.094" stop-color="#ffcd00"/><stop offset="0.126" stop-color="#ffc900"/><stop offset="0.161" stop-color="#ffba00"/><stop offset="0.196" stop-color="#ffab00"/><stop offset="0.230" stop-color="#ff9800"/><stop offset="0.265" stop-color="#ff8700"/><stop offset="0.300" stop-color="#ff7102"/><stop offset="0.334" stop-color="#ff5a06"/><stop offset="0.358" stop-color="#ff4607"/><stop offset="0.381" stop-color="#ff3104"/><stop offset="0.404" stop-color="#ff1b00"/><stop offset="0.427" stop-color="#fc0b00"/><stop offset="0.446" stop-color="#f10000"/><stop offset="0.462" stop-color="#de0000"/><stop offset="0.473" stop-color="#ce0000"/><stop offset="0.485" stop-color="#be0000"/><stop offset="0.494" stop-color="#bd0000"/><stop offset="0.501" stop-color="#bc0000"/><stop offset="0.515" stop-color="#c40000"/><stop offset="0.531" stop-color="#cd0000"/><stop offset="0.543" stop-color="#d40000"/><stop offset="0.554" stop-color="#d80000"/><stop offset="0.571" stop-color="#dc0000"/><stop offset="0.589" stop-color="#e20000"/><stop offset="0.612" stop-color="#e70000"/><stop offset="0.635" stop-color="#ec0000"/><stop offset="0.659" stop-color="#f10000"/><stop offset="0.682" stop-color="#f60000"/><stop offset="0.705" stop-color="#fb0300"/><stop offset="0.728" stop-color="#fc0900"/><stop offset="0.751" stop-color="#fd1000"/><stop offset="0.774" stop-color="#ff1700"/><stop offset="0.797" stop-color="#ff2001"/><stop offset="0.821" stop-color="#ff2a03"/><stop offset="0.844" stop-color="#ff3003"/><stop offset="0.867" stop-color="#ff3704"/><stop offset="0.890" stop-color="#ff3e05"/><stop offset="0.913" stop-color="#ff4506"/><stop offset="0.936" stop-color="#ff4c07"/><stop offset="0.959" stop-color="#ff5308"/><stop offset="1.000" stop-color="#ff5e06"/></linearGradient><linearGradient id="g49" x1="0" y1="0" x2="0" y2="1"><stop offset="0.000" stop-color="#ffdc00"/><stop offset="0.034" stop-color="#ffd700"/><stop offset="0.061" stop-color="#ffd200"/><stop offset="0.094" stop-color="#ffcc00"/><stop offset="0.126" stop-color="#ffc600"/><stop offset="0.161" stop-color="#ffb800"/><stop offset="0.196" stop-color="#ffa900"/><stop offset="0.230" stop-color="#ff9700"/><stop offset="0.265" stop-color="#ff8500"/><stop offset="0.300" stop-color="#ff6f03"/><stop offset="0.334" stop-color="#ff5707"/><stop offset="0.358" stop-color="#ff4306"/><stop offset="0.381" stop-color="#ff2e03"/><stop offset="0.404" stop-color="#ff1700"/><stop offset="0.427" stop-color="#fb0700"/><stop offset="0.446" stop-color="#eb0000"/><stop offset="0.462" stop-color="#d70000"/><stop offset="0.473" stop-color="#c70000"/><stop offset="0.485" stop-color="#b60000"/><stop offset="0.494" stop-color="#b80000"/><stop offset="0.501" stop-color="#b80000"/><stop offset="0.515" stop-color="#c10000"/><stop offset="0.531" stop-color="#cb0000"/><stop offset="0.543" stop-color="#d20000"/><stop offset="0.554" stop-color="#d70000"/><stop offset="0.571" stop-color="#dc0000"/><stop offset="0.589" stop-color="#e10000"/><stop offset="0.612" stop-color="#e60000"/><stop offset="0.635" stop-color="#ec0000"/><stop offset="0.659" stop-color="#f10000"/><stop offset="0.682" stop-color="#f60000"/><stop offset="0.705" stop-color="#fa0200"/><stop offset="0.728" stop-color="#fc0800"/><stop offset="0.751" stop-color="#fd0f00"/><stop offset="0.774" stop-color="#ff1600"/><stop offset="0.797" stop-color="#ff1f01"/><stop offset="0.821" stop-color="#ff2902"/><stop offset="0.844" stop-color="#ff3003"/><stop offset="0.867" stop-color="#ff3704"/><stop offset="0.890" stop-color="#ff3e05"/><stop offset="0.913" stop-color="#ff4607"/><stop offset="0.936" stop-color="#ff4d08"/><stop offset="0.959" stop-color="#ff5407"/><stop offset="1.000" stop-color="#ff5f06"/></linearGradient><linearGradient id="g50" x1="0" y1="0" x2="0" y2="1"><stop offset="0.000" stop-color="#ffdb00"/><stop offset="0.034" stop-color="#ffd600"/><stop offset="0.061" stop-color="#ffd200"/><stop offset="0.094" stop-color="#ffcb00"/><stop offset="0.126" stop-color="#ffc400"/><stop offset="0.161" stop-color="#ffb500"/><stop offset="0.196" stop-color="#ffa700"/><stop offset="0.230" stop-color="#ff9500"/><stop offset="0.265" stop-color="#ff8400"/><stop offset="0.300" stop-color="#ff6d03"/><stop offset="0.334" stop-color="#ff5407"/><stop offset="0.358" stop-color="#ff3f06"/><stop offset="0.381" stop-color="#ff2a03"/><stop offset="0.404" stop-color="#fe1400"/><stop offset="0.427" stop-color="#fb0300"/><stop offset="0.446" stop-color="#e50000"/><stop offset="0.462" stop-color="#d00000"/><stop offset="0.473" stop-color="#c00000"/><stop offset="0.485" stop-color="#af0000"/><stop offset="0.494" stop-color="#b20000"/><stop offset="0.501" stop-color="#b40000"/><stop offset="0.515" stop-color="#be0000"/><stop offset="0.531" stop-color="#c80000"/><stop offset="0.543" stop-color="#d00000"/><stop offset="0.554" stop-color="#d60000"/><stop offset="0.571" stop-color="#db0000"/><stop offset="0.589" stop-color="#e00000"/><stop offset="0.612" stop-color="#e60000"/><stop offset="0.635" stop-color="#eb0000"/><stop offset="0.659" stop-color="#f10000"/><stop offset="0.682" stop-color="#f60000"/><stop offset="0.705" stop-color="#fa0200"/><stop offset="0.728" stop-color="#fb0700"/><stop offset="0.751" stop-color="#fd0e00"/><stop offset="0.774" stop-color="#fe1500"/><stop offset="0.797" stop-color="#ff1f01"/><stop offset="0.821" stop-color="#ff2802"/><stop offset="0.844" stop-color="#ff3003"/><stop offset="0.867" stop-color="#ff3704"/><stop offset="0.890" stop-color="#ff3f06"/><stop offset="0.913" stop-color="#ff4607"/><stop offset="0.936" stop-color="#ff4e08"/><stop offset="0.959" stop-color="#ff5407"/><stop offset="1.000" stop-color="#ff6005"/></linearGradient><linearGradient id="g51" x1="0" y1="0" x2="0" y2="1"><stop offset="0.000" stop-color="#ffd900"/><stop offset="0.034" stop-color="#ffd500"/><stop offset="0.061" stop-color="#ffd200"/><stop offset="0.094" stop-color="#ffc900"/><stop offset="0.126" stop-color="#ffc100"/><stop offset="0.161" stop-color="#ffb300"/><stop offset="0.196" stop-color="#ffa500"/><stop offset="0.230" stop-color="#ff9400"/><stop offset="0.265" stop-color="#ff8300"/><stop offset="0.300" stop-color="#ff6a04"/><stop offset="0.334" stop-color="#ff5008"/><stop offset="0.358" stop-color="#ff3c05"/><stop offset="0.381" stop-color="#ff2702"/><stop offset="0.404" stop-color="#fd1100"/><stop offset="0.427" stop-color="#f80000"/><stop offset="0.446" stop-color="#df0000"/><stop offset="0.462" stop-color="#ca0000"/><stop offset="0.473" stop-color="#b80000"/><stop offset="0.485" stop-color="#a70000"/><stop offset="0.494" stop-color="#ad0000"/><stop offset="0.501" stop-color="#b10000"/><stop offset="0.515" stop-color="#ba0000"/><stop offset="0.531" stop-color="#c60000"/><stop offset="0.543" stop-color="#ce0000"/><stop offset="0.554" stop-color="#d50000"/><stop offset="0.571" stop-color="#da0000"/><stop offset="0.589" stop-color="#e00000"/><stop offset="0.612" stop-color="#e50000"/><stop offset="0.635" stop-color="#eb0000"/><stop offset="0.659" stop-color="#f10000"/><stop offset="0.682" stop-color="#f60000"/><stop offset="0.705" stop-color="#fa0100"/><stop offset="0.728" stop-color="#fb0600"/><stop offset="0.751" stop-color="#fd0d00"/><stop offset="0.774" stop-color="#fe1500"/><stop offset="0.797" stop-color="#ff1e01"/><stop offset="0.821" stop-color="#ff2702"/><stop offset="0.844" stop-color="#ff2f03"/><stop offset="0.867" stop-color="#ff3704"/><stop offset="0.890" stop-color="#ff3f06"/><stop offset="0.913" stop-color="#ff4707"/><stop offset="0.936" stop-color="#ff4e08"/><stop offset="0.959" stop-color="#ff5507"/><stop offset="1.000" stop-color="#ff6105"/></linearGradient><linearGradient id="g52" x1="0" y1="0" x2="0" y2="1"><stop offset="0.000" stop-color="#ffd800"/><stop offset="0.034" stop-color="#ffd500"/><stop offset="0.061" stop-color="#ffd200"/><stop offset="0.094" stop-color="#ffc800"/><stop offset="0.126" stop-color="#ffbe00"/><stop offset="0.161" stop-color="#ffb000"/><stop offset="0.196" stop-color="#ffa300"/><stop offset="0.230" stop-color="#ff9200"/><stop offset="0.265" stop-color="#ff8200"/><stop offset="0.300" stop-color="#ff6804"/><stop offset="0.334" stop-color="#ff4d08"/><stop offset="0.358" stop-color="#ff3805"/><stop offset="0.381" stop-color="#ff2402"/><stop offset="0.404" stop-color="#fd0d00"/><stop offset="0.427" stop-color="#f40000"/><stop offset="0.446" stop-color="#da0000"/><stop offset="0.462" stop-color="#c30000"/><stop offset="0.473" stop-color="#b10000"/><stop offset="0.485" stop-color="#a00000"/><stop offset="0.494" stop-color="#a70000"/><stop offset="0.501" stop-color="#ad0000"/><stop offset="0.515" stop-color="#b70000"/><stop offset="0.531" stop-color="#c30000"/><stop offset="0.543" stop-color="#cc0000"/><stop offset="0.554" stop-color="#d40000"/><stop offset="0.571" stop-color="#d90000"/><stop offset="0.589" stop-color="#df0000"/><stop offset="0.612" stop-color="#e50000"/><stop offset="0.635" stop-color="#eb0000"/><stop offset="0.659" stop-color="#f10000"/><stop offset="0.682" stop-color="#f50000"/><stop offset="0.705" stop-color="#fa0000"/><stop offset="0.728" stop-color="#fb0500"/><stop offset="0.751" stop-color="#fd0c00"/><stop offset="0.774" stop-color="#fe1400"/><stop offset="0.797" stop-color="#ff1d01"/><stop offset="0.821" stop-color="#ff2702"/><stop offset="0.844" stop-color="#ff2f03"/><stop offset="0.867" stop-color="#ff3704"/><stop offset="0.890" stop-color="#ff3f06"/><stop offset="0.913" stop-color="#ff4707"/><stop offset="0.936" stop-color="#ff4f08"/><stop offset="0.959" stop-color="#ff5607"/><stop offset="1.000" stop-color="#ff6105"/></linearGradient><linearGradient id="g53" x1="0" y1="0" x2="0" y2="1"><stop offset="0.000" stop-color="#ffd600"/><stop offset="0.034" stop-color="#ffd400"/><stop offset="0.061" stop-color="#ffd200"/><stop offset="0.094" stop-color="#ffc600"/><stop offset="0.126" stop-color="#ffbb00"/><stop offset="0.161" stop-color="#ffae00"/><stop offset="0.196" stop-color="#ffa100"/><stop offset="0.230" stop-color="#ff9100"/><stop offset="0.265" stop-color="#ff8100"/><stop offset="0.300" stop-color="#ff6504"/><stop offset="0.334" stop-color="#ff4907"/><stop offset="0.358" stop-color="#ff3504"/><stop offset="0.381" stop-color="#ff2001"/><stop offset="0.404" stop-color="#fc0a00"/><stop offset="0.427" stop-color="#ef0000"/><stop offset="0.446" stop-color="#d40000"/><stop offset="0.462" stop-color="#bc0000"/><stop offset="0.473" stop-color="#aa0000"/><stop offset="0.485" stop-color="#980000"/><stop offset="0.494" stop-color="#a20000"/><stop offset="0.501" stop-color="#a90000"/><stop offset="0.515" stop-color="#b40000"/><stop offset="0.531" stop-color="#c10000"/><stop offset="0.543" stop-color="#ca0000"/><stop offset="0.554" stop-color="#d30000"/><stop offset="0.571" stop-color="#d90000"/><stop offset="0.589" stop-color="#de0000"/><stop offset="0.612" stop-color="#e50000"/><stop offset="0.635" stop-color="#eb0000"/><stop offset="0.659" stop-color="#f10000"/><stop offset="0.682" stop-color="#f50000"/><stop offset="0.705" stop-color="#fa0000"/><stop offset="0.728" stop-color="#fb0400"/><stop offset="0.751" stop-color="#fc0c00"/><stop offset="0.774" stop-color="#fe1300"/><stop offset="0.797" stop-color="#ff1d01"/><stop offset="0.821" stop-color="#ff2602"/><stop offset="0.844" stop-color="#ff2f03"/><stop offset="0.867" stop-color="#ff3704"/><stop offset="0.890" stop-color="#ff3f06"/><stop offset="0.913" stop-color="#ff4807"/><stop offset="0.936" stop-color="#ff5008"/><stop offset="0.959" stop-color="#ff5707"/><stop offset="1.000" stop-color="#ff6205"/></linearGradient><linearGradient id="g54" x1="0" y1="0" x2="0" y2="1"><stop offset="0.000" stop-color="#ffd500"/><stop offset="0.034" stop-color="#ffd200"/><stop offset="0.061" stop-color="#ffd000"/><stop offset="0.094" stop-color="#ffc500"/><stop offset="0.126" stop-color="#ffba00"/><stop offset="0.161" stop-color="#ffad00"/><stop offset="0.196" stop-color="#ffa100"/><stop offset="0.230" stop-color="#ff9000"/><stop offset="0.265" stop-color="#ff8000"/><stop offset="0.300" stop-color="#ff6405"/><stop offset="0.334" stop-color="#ff4707"/><stop offset="0.358" stop-color="#ff3304"/><stop offset="0.381" stop-color="#ff1e01"/><stop offset="0.404" stop-color="#fc0900"/><stop offset="0.427" stop-color="#ed0000"/><stop offset="0.446" stop-color="#d00000"/><stop offset="0.462" stop-color="#b80000"/><stop offset="0.473" stop-color="#a60000"/><stop offset="0.485" stop-color="#950000"/><stop offset="0.494" stop-color="#9e0000"/><stop offset="0.501" stop-color="#a50000"/><stop offset="0.515" stop-color="#b00000"/><stop offset="0.531" stop-color="#bd0000"/><stop offset="0.543" stop-color="#c60000"/><stop offset="0.554" stop-color="#cf0000"/><stop offset="0.571" stop-color="#d50000"/><stop offset="0.589" stop-color="#dc0000"/><stop offset="0.612" stop-color="#e20000"/><stop offset="0.635" stop-color="#e80000"/><stop offset="0.659" stop-color="#ee0000"/><stop offset="0.682" stop-color="#f20000"/><stop offset="0.705" stop-color="#f70000"/><stop offset="0.728" stop-color="#fa0200"/><stop offset="0.751" stop-color="#fc0a00"/><stop offset="0.774" stop-color="#fe1200"/><stop offset="0.797" stop-color="#ff1b00"/><stop offset="0.821" stop-color="#ff2502"/><stop offset="0.844" stop-color="#ff2e03"/><stop offset="0.867" stop-color="#ff3704"/><stop offset="0.890" stop-color="#ff4006"/><stop offset="0.913" stop-color="#ff4907"/><stop offset="0.936" stop-color="#ff5108"/><stop offset="0.959" stop-color="#ff5907"/><stop offset="1.000" stop-color="#ff6504"/></linearGradient><linearGradient id="g55" x1="0" y1="0" x2="0" y2="1"><stop offset="0.000" stop-color="#ffd300"/><stop offset="0.034" stop-color="#ffd000"/><stop offset="0.061" stop-color="#ffcd00"/><stop offset="0.094" stop-color="#ffc400"/><stop offset="0.126" stop-color="#ffbc00"/><stop offset="0.161" stop-color="#ffae00"/><stop offset="0.196" stop-color="#ffa100"/><stop offset="0.230" stop-color="#ff9000"/><stop offset="0.265" stop-color="#ff8000"/><stop offset="0.300" stop-color="#ff6405"/><stop offset="0.334" stop-color="#ff4707"/><stop offset="0.358" stop-color="#ff3304"/><stop offset="0.381" stop-color="#ff1e01"/><stop offset="0.404" stop-color="#fc0800"/><stop offset="0.427" stop-color="#ed0000"/><stop offset="0.446" stop-color="#cf0000"/><stop offset="0.462" stop-color="#b50000"/><stop offset="0.473" stop-color="#a40000"/><stop offset="0.485" stop-color="#940000"/><stop offset="0.494" stop-color="#9c0000"/><stop offset="0.501" stop-color="#a10000"/><stop offset="0.515" stop-color="#ac0000"/><stop offset="0.531" stop-color="#b80000"/><stop offset="0.543" stop-color="#c00000"/><stop offset="0.554" stop-color="#c90000"/><stop offset="0.571" stop-color="#cf0000"/><stop offset="0.589" stop-color="#d70000"/><stop offset="0.612" stop-color="#dd0000"/><stop offset="0.635" stop-color="#e30000"/><stop offset="0.659" stop-color="#e90000"/><stop offset="0.682" stop-color="#ee0000"/><stop offset="0.705" stop-color="#f30000"/><stop offset="0.728" stop-color="#f90000"/><stop offset="0.751" stop-color="#fb0700"/><stop offset="0.774" stop-color="#fd0f00"/><stop offset="0.797" stop-color="#ff1800"/><stop offset="0.821" stop-color="#ff2302"/><stop offset="0.844" stop-color="#ff2d03"/><stop offset="0.867" stop-color="#ff3704"/><stop offset="0.890" stop-color="#ff4106"/><stop offset="0.913" stop-color="#ff4b07"/><stop offset="0.936" stop-color="#ff5407"/><stop offset="0.959" stop-color="#ff5c06"/><stop offset="1.000" stop-color="#ff6a04"/></linearGradient><linearGradient id="g56" x1="0" y1="0" x2="0" y2="1"><stop offset="0.000" stop-color="#ffd200"/><stop offset="0.034" stop-color="#ffce00"/><stop offset="0.061" stop-color="#ffca00"/><stop offset="0.094" stop-color="#ffc300"/><stop offset="0.126" stop-color="#ffbd00"/><stop offset="0.161" stop-color="#ffae00"/><stop offset="0.196" stop-color="#ffa100"/><stop offset="0.230" stop-color="#ff9000"/><stop offset="0.265" stop-color="#ff8000"/><stop offset="0.300" stop-color="#ff6405"/><stop offset="0.334" stop-color="#ff4707"/><stop offset="0.358" stop-color="#ff3204"/><stop offset="0.381" stop-color="#ff1d01"/><stop offset="0.404" stop-color="#fc0800"/><stop offset="0.427" stop-color="#ed0000"/><stop offset="0.446" stop-color="#ce0000"/><stop offset="0.462" stop-color="#b20000"/><stop offset="0.473" stop-color="#a30000"/><stop offset="0.485" stop-color="#930000"/><stop offset="0.494" stop-color="#990000"/><stop offset="0.501" stop-color="#9e0000"/><stop offset="0.515" stop-color="#a70000"/><stop offset="0.531" stop-color="#b30000"/><stop offset="0.543" stop-color="#bb0000"/><stop offset="0.554" stop-color="#c20000"/><stop offset="0.571" stop-color="#ca0000"/><stop offset="0.589" stop-color="#d20000"/><stop offset="0.612" stop-color="#d80000"/><stop offset="0.635" stop-color="#de0000"/><stop offset="0.659" stop-color="#e40000"/><stop offset="0.682" stop-color="#e90000"/><stop offset="0.705" stop-color="#f00000"/><stop offset="0.728" stop-color="#f60000"/><stop offset="0.751" stop-color="#fb0400"/><stop offset="0.774" stop-color="#fd0d00"/><stop offset="0.797" stop-color="#ff1600"/><stop offset="0.821" stop-color="#ff2101"/><stop offset="0.844" stop-color="#ff2c03"/><stop offset="0.867" stop-color="#ff3704"/><stop offset="0.890" stop-color="#ff4206"/><stop offset="0.913" stop-color="#ff4d08"/><stop offset="0.936" stop-color="#ff5607"/><stop offset="0.959" stop-color="#ff5f05"/><stop offset="1.000" stop-color="#ff6f03"/></linearGradient><linearGradient id="g57" x1="0" y1="0" x2="0" y2="1"><stop offset="0.000" stop-color="#ffd000"/><stop offset="0.034" stop-color="#ffcc00"/><stop offset="0.061" stop-color="#ffc700"/><stop offset="0.094" stop-color="#ffc300"/><stop offset="0.126" stop-color="#ffbe00"/><stop offset="0.161" stop-color="#ffaf00"/><stop offset="0.196" stop-color="#ffa100"/><stop offset="0.230" stop-color="#ff9000"/><stop offset="0.265" stop-color="#ff8000"/><stop offset="0.300" stop-color="#ff6405"/><stop offset="0.334" stop-color="#ff4707"/><stop offset="0.358" stop-color="#ff3204"/><stop offset="0.381" stop-color="#ff1d01"/><stop offset="0.404" stop-color="#fc0800"/><stop offset="0.427" stop-color="#ed0000"/><stop offset="0.446" stop-color="#cc0000"/><stop offset="0.462" stop-color="#b00000"/><stop offset="0.473" stop-color="#a10000"/><stop offset="0.485" stop-color="#920000"/><stop offset="0.494" stop-color="#970000"/><stop offset="0.501" stop-color="#9a0000"/><stop offset="0.515" stop-color="#a30000"/><stop offset="0.531" stop-color="#ae0000"/><stop offset="0.543" stop-color="#b50000"/><stop offset="0.554" stop-color="#bc0000"/><stop offset="0.571" stop-color="#c40000"/><stop offset="0.589" stop-color="#ce0000"/><stop offset="0.612" stop-color="#d30000"/><stop offset="0.635" stop-color="#d90000"/><stop offset="0.659" stop-color="#df0000"/><stop offset="0.682" stop-color="#e40000"/><stop offset="0.705" stop-color="#ec0000"/><stop offset="0.728" stop-color="#f30000"/><stop offset="0.751" stop-color="#fa0100"/><stop offset="0.774" stop-color="#fc0b00"/><stop offset="0.797" stop-color="#fe1400"/><stop offset="0.821" stop-color="#ff1f01"/><stop offset="0.844" stop-color="#ff2b03"/><stop offset="0.867" stop-color="#ff3704"/><stop offset="0.890" stop-color="#ff4306"/><stop offset="0.913" stop-color="#ff4f08"/><stop offset="0.936" stop-color="#ff5907"/><stop offset="0.959" stop-color="#ff6305"/><stop offset="1.000" stop-color="#ff7402"/></linearGradient><linearGradient id="g58" x1="0" y1="0" x2="0" y2="1"><stop offset="0.000" stop-color="#ffcf00"/><stop offset="0.034" stop-color="#ffca00"/><stop offset="0.061" stop-color="#ffc400"/><stop offset="0.094" stop-color="#ffc000"/><stop offset="0.126" stop-color="#ffbc00"/><stop offset="0.161" stop-color="#ffad00"/><stop offset="0.196" stop-color="#ff9e00"/><stop offset="0.230" stop-color="#ff8e00"/><stop offset="0.265" stop-color="#ff7e00"/><stop offset="0.300" stop-color="#ff6205"/><stop offset="0.334" stop-color="#ff4506"/><stop offset="0.358" stop-color="#ff2f03"/><stop offset="0.381" stop-color="#ff1900"/><stop offset="0.404" stop-color="#fb0500"/><stop offset="0.427" stop-color="#e90000"/><stop offset="0.446" stop-color="#c80000"/><stop offset="0.462" stop-color="#ab0000"/><stop offset="0.473" stop-color="#9e0000"/><stop offset="0.485" stop-color="#910000"/><stop offset="0.494" stop-color="#950000"/><stop offset="0.501" stop-color="#980000"/><stop offset="0.515" stop-color="#a10000"/><stop offset="0.531" stop-color="#ab0000"/><stop offset="0.543" stop-color="#b20000"/><stop offset="0.554" stop-color="#b90000"/><stop offset="0.571" stop-color="#c20000"/><stop offset="0.589" stop-color="#cd0000"/><stop offset="0.612" stop-color="#d30000"/><stop offset="0.635" stop-color="#d90000"/><stop offset="0.659" stop-color="#df0000"/><stop offset="0.682" stop-color="#e50000"/><stop offset="0.705" stop-color="#ed0000"/><stop offset="0.728" stop-color="#f50000"/><stop offset="0.751" stop-color="#fb0300"/><stop offset="0.774" stop-color="#fd0d00"/><stop offset="0.797" stop-color="#ff1600"/><stop offset="0.821" stop-color="#ff2402"/><stop offset="0.844" stop-color="#ff3104"/><stop offset="0.867" stop-color="#ff3e05"/><stop offset="0.890" stop-color="#ff4b07"/><stop offset="0.913" stop-color="#ff5607"/><stop offset="0.936" stop-color="#ff6105"/><stop offset="0.959" stop-color="#ff6a04"/><stop offset="1.000" stop-color="#ff7b01"/></linearGradient><linearGradient id="g59" x1="0" y1="0" x2="0" y2="1"><stop offset="0.000" stop-color="#ffce00"/><stop offset="0.034" stop-color="#ffc800"/><stop offset="0.061" stop-color="#ffc200"/><stop offset="0.094" stop-color="#ffbd00"/><stop offset="0.126" stop-color="#ffb800"/><stop offset="0.161" stop-color="#ffa800"/><stop offset="0.196" stop-color="#ff9a00"/><stop offset="0.230" stop-color="#ff8b00"/><stop offset="0.265" stop-color="#ff7a01"/><stop offset="0.300" stop-color="#ff5f06"/><stop offset="0.334" stop-color="#ff4106"/><stop offset="0.358" stop-color="#ff2a03"/><stop offset="0.381" stop-color="#fe1400"/><stop offset="0.404" stop-color="#f90000"/><stop offset="0.427" stop-color="#e10000"/><stop offset="0.446" stop-color="#c10000"/><stop offset="0.462" stop-color="#a50000"/><stop offset="0.473" stop-color="#9a0000"/><stop offset="0.485" stop-color="#900000"/><stop offset="0.494" stop-color="#940000"/><stop offset="0.501" stop-color="#970000"/><stop offset="0.515" stop-color="#a00000"/><stop offset="0.531" stop-color="#ab0000"/><stop offset="0.543" stop-color="#b20000"/><stop offset="0.554" stop-color="#b90000"/><stop offset="0.571" stop-color="#c30000"/><stop offset="0.589" stop-color="#cf0000"/><stop offset="0.612" stop-color="#d60000"/><stop offset="0.635" stop-color="#dd0000"/><stop offset="0.659" stop-color="#e40000"/><stop offset="0.682" stop-color="#eb0000"/><stop offset="0.705" stop-color="#f30000"/><stop offset="0.728" stop-color="#fa0100"/><stop offset="0.751" stop-color="#fc0900"/><stop offset="0.774" stop-color="#fe1300"/><stop offset="0.797" stop-color="#ff1e01"/><stop offset="0.821" stop-color="#ff2d03"/><stop offset="0.844" stop-color="#ff3b05"/><stop offset="0.867" stop-color="#ff4a07"/><stop offset="0.890" stop-color="#ff5607"/><stop offset="0.913" stop-color="#ff6105"/><stop offset="0.936" stop-color="#ff6d03"/><stop offset="0.959" stop-color="#ff7502"/><stop offset="1.000" stop-color="#ff8400"/></linearGradient><linearGradient id="g60" x1="0" y1="0" x2="0" y2="1"><stop offset="0.000" stop-color="#ffcc00"/><stop offset="0.034" stop-color="#ffc600"/><stop offset="0.061" stop-color="#ffc000"/><stop offset="0.094" stop-color="#ffba00"/><stop offset="0.126" stop-color="#ffb400"/><stop offset="0.161" stop-color="#ffa400"/><stop offset="0.196" stop-color="#ff9500"/><stop offset="0.230" stop-color="#ff8700"/><stop offset="0.265" stop-color="#ff7602"/><stop offset="0.300" stop-color="#ff5b06"/><stop offset="0.334" stop-color="#ff3d05"/><stop offset="0.358" stop-color="#ff2402"/><stop offset="0.381" stop-color="#fd0f00"/><stop offset="0.404" stop-color="#f30000"/><stop offset="0.427" stop-color="#da0000"/><stop offset="0.446" stop-color="#ba0000"/><stop offset="0.462" stop-color="#9e0000"/><stop offset="0.473" stop-color="#960000"/><stop offset="0.485" stop-color="#8e0000"/><stop offset="0.494" stop-color="#930000"/><stop offset="0.501" stop-color="#960000"/><stop offset="0.515" stop-color="#9f0000"/><stop offset="0.531" stop-color="#aa0000"/><stop offset="0.543" stop-color="#b20000"/><stop offset="0.554" stop-color="#b90000"/><stop offset="0.571" stop-color="#c40000"/><stop offset="0.589" stop-color="#d10000"/><stop offset="0.612" stop-color="#d90000"/><stop offset="0.635" stop-color="#e10000"/><stop offset="0.659" stop-color="#e90000"/><stop offset="0.682" stop-color="#f00000"/><stop offset="0.705" stop-color="#f90000"/><stop offset="0.728" stop-color="#fb0600"/><stop offset="0.751" stop-color="#fd0f00"/><stop offset="0.774" stop-color="#ff1900"/><stop offset="0.797" stop-color="#ff2702"/><stop offset="0.821" stop-color="#ff3704"/><stop offset="0.844" stop-color="#ff4607"/><stop offset="0.867" stop-color="#ff5507"/><stop offset="0.890" stop-color="#ff6105"/><stop offset="0.913" stop-color="#ff6d03"/><stop offset="0.936" stop-color="#ff7801"/><stop offset="0.959" stop-color="#ff8000"/><stop offset="1.000" stop-color="#ff8b00"/></linearGradient><linearGradient id="g61" x1="0" y1="0" x2="0" y2="1"><stop offset="0.000" stop-color="#ffcb00"/><stop offset="0.034" stop-color="#ffc400"/><stop offset="0.061" stop-color="#ffbe00"/><stop offset="0.094" stop-color="#ffb700"/><stop offset="0.126" stop-color="#ffb000"/><stop offset="0.161" stop-color="#ff9f00"/><stop offset="0.196" stop-color="#ff9100"/><stop offset="0.230" stop-color="#ff8300"/><stop offset="0.265" stop-color="#ff7202"/><stop offset="0.300" stop-color="#ff5807"/><stop offset="0.334" stop-color="#ff3905"/><stop offset="0.358" stop-color="#ff1f01"/><stop offset="0.381" stop-color="#fc0a00"/><stop offset="0.404" stop-color="#ec0000"/><stop offset="0.427" stop-color="#d30000"/><stop offset="0.446" stop-color="#b30000"/><stop offset="0.462" stop-color="#980000"/><stop offset="0.473" stop-color="#920000"/><stop offset="0.485" stop-color="#8c0000"/><stop offset="0.494" stop-color="#910000"/><stop offset="0.501" stop-color="#950000"/><stop offset="0.515" stop-color="#9f0000"/><stop offset="0.531" stop-color="#a90000"/><stop offset="0.543" stop-color="#b10000"/><stop offset="0.554" stop-color="#b90000"/><stop offset="0.571" stop-color="#c50000"/><stop offset="0.589" stop-color="#d40000"/><stop offset="0.612" stop-color="#dd0000"/><stop offset="0.635" stop-color="#e60000"/><stop offset="0.659" stop-color="#ee0000"/><stop offset="0.682" stop-color="#f60000"/><stop offset="0.705" stop-color="#fb0400"/><stop offset="0.728" stop-color="#fc0b00"/><stop offset="0.751" stop-color="#fe1400"/><stop offset="0.774" stop-color="#ff2101"/><stop offset="0.797" stop-color="#ff2f03"/><stop offset="0.821" stop-color="#ff4006"/><stop offset="0.844" stop-color="#ff5008"/><stop offset="0.867" stop-color="#ff5f06"/><stop offset="0.890" stop-color="#ff6b03"/><stop offset="0.913" stop-color="#ff7801"/><stop offset="0.936" stop-color="#ff8300"/><stop offset="0.959" stop-color="#ff8900"/><stop offset="1.000" stop-color="#ff9300"/></linearGradient><linearGradient id="g62" x1="0" y1="0" x2="0" y2="1"><stop offset="0.000" stop-color="#ffcb00"/><stop offset="0.034" stop-color="#ffc400"/><stop offset="0.061" stop-color="#ffbd00"/><stop offset="0.094" stop-color="#ffb500"/><stop offset="0.126" stop-color="#ffae00"/><stop offset="0.161" stop-color="#ff9d00"/><stop offset="0.196" stop-color="#ff8f00"/><stop offset="0.230" stop-color="#ff8100"/><stop offset="0.265" stop-color="#ff7003"/><stop offset="0.300" stop-color="#ff5507"/><stop offset="0.334" stop-color="#ff3704"/><stop offset="0.358" stop-color="#ff1c01"/><stop offset="0.381" stop-color="#fb0700"/><stop offset="0.404" stop-color="#e80000"/><stop offset="0.427" stop-color="#ce0000"/><stop offset="0.446" stop-color="#af0000"/><stop offset="0.462" stop-color="#940000"/><stop offset="0.473" stop-color="#900000"/><stop offset="0.485" stop-color="#8b0000"/><stop offset="0.494" stop-color="#900000"/><stop offset="0.501" stop-color="#930000"/><stop offset="0.515" stop-color="#9c0000"/><stop offset="0.531" stop-color="#a60000"/><stop offset="0.543" stop-color="#af0000"/><stop offset="0.554" stop-color="#b80000"/><stop offset="0.571" stop-color="#c50000"/><stop offset="0.589" stop-color="#d50000"/><stop offset="0.612" stop-color="#df0000"/><stop offset="0.635" stop-color="#e80000"/><stop offset="0.659" stop-color="#f20000"/><stop offset="0.682" stop-color="#fa0100"/><stop offset="0.705" stop-color="#fc0800"/><stop offset="0.728" stop-color="#fd1000"/><stop offset="0.751" stop-color="#ff1b00"/><stop offset="0.774" stop-color="#ff2a03"/><stop offset="0.797" stop-color="#ff3805"/><stop offset="0.821" stop-color="#ff4907"/><stop offset="0.844" stop-color="#ff5906"/><stop offset="0.867" stop-color="#ff6804"/><stop offset="0.890" stop-color="#ff7402"/><stop offset="0.913" stop-color="#ff8100"/><stop offset="0.936" stop-color="#ff8b00"/><stop offset="0.959" stop-color="#ff9000"/><stop offset="1.000" stop-color="#ff9900"/></linearGradient><linearGradient id="g63" x1="0" y1="0" x2="0" y2="1"><stop offset="0.000" stop-color="#ffcb00"/><stop offset="0.034" stop-color="#ffc400"/><stop offset="0.061" stop-color="#ffbd00"/><stop offset="0.094" stop-color="#ffb500"/><stop offset="0.126" stop-color="#ffae00"/><stop offset="0.161" stop-color="#ff9d00"/><stop offset="0.196" stop-color="#ff8e00"/><stop offset="0.230" stop-color="#ff8100"/><stop offset="0.265" stop-color="#ff6f03"/><stop offset="0.300" stop-color="#ff5407"/><stop offset="0.334" stop-color="#ff3504"/><stop offset="0.358" stop-color="#ff1a00"/><stop offset="0.381" stop-color="#fb0600"/><stop offset="0.404" stop-color="#e60000"/><stop offset="0.427" stop-color="#cc0000"/><stop offset="0.446" stop-color="#ae0000"/><stop offset="0.462" stop-color="#940000"/><stop offset="0.473" stop-color="#8f0000"/><stop offset="0.485" stop-color="#8a0000"/><stop offset="0.494" stop-color="#8e0000"/><stop offset="0.501" stop-color="#910000"/><stop offset="0.515" stop-color="#980000"/><stop offset="0.531" stop-color="#a00000"/><stop offset="0.543" stop-color="#ab0000"/><stop offset="0.554" stop-color="#b50000"/><stop offset="0.571" stop-color="#c40000"/><stop offset="0.589" stop-color="#d60000"/><stop offset="0.612" stop-color="#e00000"/><stop offset="0.635" stop-color="#ea0000"/><stop offset="0.659" stop-color="#f40000"/><stop offset="0.682" stop-color="#fb0400"/><stop offset="0.705" stop-color="#fd0d00"/><stop offset="0.728" stop-color="#ff1600"/><stop offset="0.751" stop-color="#ff2402"/><stop offset="0.774" stop-color="#ff3304"/><stop offset="0.797" stop-color="#ff4306"/><stop offset="0.821" stop-color="#ff5308"/><stop offset="0.844" stop-color="#ff6105"/><stop offset="0.867" stop-color="#ff7003"/><stop offset="0.890" stop-color="#ff7d01"/><stop offset="0.913" stop-color="#ff8700"/><stop offset="0.936" stop-color="#ff9100"/><stop offset="0.959" stop-color="#ff9600"/><stop offset="1.000" stop-color="#ff9f00"/></linearGradient><linearGradient id="g64" x1="0" y1="0" x2="0" y2="1"><stop offset="0.000" stop-color="#ffcc00"/><stop offset="0.034" stop-color="#ffc400"/><stop offset="0.061" stop-color="#ffbd00"/><stop offset="0.094" stop-color="#ffb500"/><stop offset="0.126" stop-color="#ffae00"/><stop offset="0.161" stop-color="#ff9d00"/><stop offset="0.196" stop-color="#ff8e00"/><stop offset="0.230" stop-color="#ff8000"/><stop offset="0.265" stop-color="#ff6e03"/><stop offset="0.300" stop-color="#ff5308"/><stop offset="0.334" stop-color="#ff3304"/><stop offset="0.358" stop-color="#ff1800"/><stop offset="0.381" stop-color="#fb0400"/><stop offset="0.404" stop-color="#e40000"/><stop offset="0.427" stop-color="#c90000"/><stop offset="0.446" stop-color="#ac0000"/><stop offset="0.462" stop-color="#930000"/><stop offset="0.473" stop-color="#8e0000"/><stop offset="0.485" stop-color="#890000"/><stop offset="0.494" stop-color="#8c0000"/><stop offset="0.501" stop-color="#8f0000"/><stop offset="0.515" stop-color="#940000"/><stop offset="0.531" stop-color="#9a0000"/><stop offset="0.543" stop-color="#a60000"/><stop offset="0.554" stop-color="#b20000"/><stop offset="0.571" stop-color="#c30000"/><stop offset="0.589" stop-color="#d70000"/><stop offset="0.612" stop-color="#e20000"/><stop offset="0.635" stop-color="#ec0000"/><stop offset="0.659" stop-color="#f70000"/><stop offset="0.682" stop-color="#fc0700"/><stop offset="0.705" stop-color="#fe1200"/><stop offset="0.728" stop-color="#ff1e01"/><stop offset="0.751" stop-color="#ff2d03"/><stop offset="0.774" stop-color="#ff3d05"/><stop offset="0.797" stop-color="#ff4d08"/><stop offset="0.821" stop-color="#ff5b06"/><stop offset="0.844" stop-color="#ff6a04"/><stop offset="0.867" stop-color="#ff7801"/><stop offset="0.890" stop-color="#ff8400"/><stop offset="0.913" stop-color="#ff8e00"/><stop offset="0.936" stop-color="#ff9700"/><stop offset="0.959" stop-color="#ff9c00"/><stop offset="1.000" stop-color="#ffa400"/></linearGradient><linearGradient id="g65" x1="0" y1="0" x2="0" y2="1"><stop offset="0.000" stop-color="#ffcc00"/><stop offset="0.034" stop-color="#ffc400"/><stop offset="0.061" stop-color="#ffbd00"/><stop offset="0.094" stop-color="#ffb500"/><stop offset="0.126" stop-color="#ffae00"/><stop offset="0.161" stop-color="#ff9d00"/><stop offset="0.196" stop-color="#ff8d00"/><stop offset="0.230" stop-color="#ff7f00"/><stop offset="0.265" stop-color="#ff6d03"/><stop offset="0.300" stop-color="#ff5208"/><stop offset="0.334" stop-color="#ff3204"/><stop offset="0.358" stop-color="#ff1600"/><stop offset="0.381" stop-color="#fa0200"/><stop offset="0.404" stop-color="#e20000"/><stop offset="0.427" stop-color="#c70000"/><stop offset="0.446" stop-color="#ab0000"/><stop offset="0.462" stop-color="#920000"/><stop offset="0.473" stop-color="#8d0000"/><stop offset="0.485" stop-color="#880000"/><stop offset="0.494" stop-color="#8b0000"/><stop offset="0.501" stop-color="#8d0000"/><stop offset="0.515" stop-color="#900000"/><stop offset="0.531" stop-color="#950000"/><stop offset="0.543" stop-color="#a20000"/><stop offset="0.554" stop-color="#b00000"/><stop offset="0.571" stop-color="#c20000"/><stop offset="0.589" stop-color="#d80000"/><stop offset="0.612" stop-color="#e30000"/><stop offset="0.635" stop-color="#ee0000"/><stop offset="0.659" stop-color="#f90000"/><stop offset="0.682" stop-color="#fc0b00"/><stop offset="0.705" stop-color="#ff1600"/><stop offset="0.728" stop-color="#ff2602"/><stop offset="0.751" stop-color="#ff3604"/><stop offset="0.774" stop-color="#ff4607"/><stop offset="0.797" stop-color="#ff5607"/><stop offset="0.821" stop-color="#ff6405"/><stop offset="0.844" stop-color="#ff7202"/><stop offset="0.867" stop-color="#ff8000"/><stop offset="0.890" stop-color="#ff8a00"/><stop offset="0.913" stop-color="#ff9400"/><stop offset="0.936" stop-color="#ff9e00"/><stop offset="0.959" stop-color="#ffa200"/><stop offset="1.000" stop-color="#ffaa00"/></linearGradient><linearGradient id="g66" x1="0" y1="0" x2="0" y2="1"><stop offset="0.000" stop-color="#ffcd00"/><stop offset="0.034" stop-color="#ffc500"/><stop offset="0.061" stop-color="#ffbd00"/><stop offset="0.094" stop-color="#ffb600"/><stop offset="0.126" stop-color="#ffae00"/><stop offset="0.161" stop-color="#ff9d00"/><stop offset="0.196" stop-color="#ff8d00"/><stop offset="0.230" stop-color="#ff7f00"/><stop offset="0.265" stop-color="#ff6c03"/><stop offset="0.300" stop-color="#ff5008"/><stop offset="0.334" stop-color="#ff3003"/><stop offset="0.358" stop-color="#fe1500"/><stop offset="0.381" stop-color="#fa0100"/><stop offset="0.404" stop-color="#e00000"/><stop offset="0.427" stop-color="#c50000"/><stop offset="0.446" stop-color="#aa0000"/><stop offset="0.462" stop-color="#920000"/><stop offset="0.473" stop-color="#8d0000"/><stop offset="0.485" stop-color="#870000"/><stop offset="0.494" stop-color="#890000"/><stop offset="0.501" stop-color="#8b0000"/><stop offset="0.515" stop-color="#8e0000"/><stop offset="0.531" stop-color="#900000"/><stop offset="0.543" stop-color="#9e0000"/><stop offset="0.554" stop-color="#ac0000"/><stop offset="0.571" stop-color="#c00000"/><stop offset="0.589" stop-color="#d70000"/><stop offset="0.612" stop-color="#e40000"/><stop offset="0.635" stop-color="#f00000"/><stop offset="0.659" stop-color="#fa0200"/><stop offset="0.682" stop-color="#fd0e00"/><stop offset="0.705" stop-color="#ff1a00"/><stop offset="0.728" stop-color="#ff2b03"/><stop offset="0.751" stop-color="#ff3b05"/><stop offset="0.774" stop-color="#ff4b07"/><stop offset="0.797" stop-color="#ff5a06"/><stop offset="0.821" stop-color="#ff6704"/><stop offset="0.844" stop-color="#ff7502"/><stop offset="0.867" stop-color="#ff8300"/><stop offset="0.890" stop-color="#ff8d00"/><stop offset="0.913" stop-color="#ff9700"/><stop offset="0.936" stop-color="#ffa000"/><stop offset="0.959" stop-color="#ffa400"/><stop offset="1.000" stop-color="#ffac00"/></linearGradient><linearGradient id="g67" x1="0" y1="0" x2="0" y2="1"><stop offset="0.000" stop-color="#ffd000"/><stop offset="0.034" stop-color="#ffc700"/><stop offset="0.061" stop-color="#ffbe00"/><stop offset="0.094" stop-color="#ffb700"/><stop offset="0.126" stop-color="#ffaf00"/><stop offset="0.161" stop-color="#ff9d00"/><stop offset="0.196" stop-color="#ff8d00"/><stop offset="0.230" stop-color="#ff7e00"/><stop offset="0.265" stop-color="#ff6b04"/><stop offset="0.300" stop-color="#ff4f08"/><stop offset="0.334" stop-color="#ff2f03"/><stop offset="0.358" stop-color="#fe1500"/><stop offset="0.381" stop-color="#fa0100"/><stop offset="0.404" stop-color="#df0000"/><stop offset="0.427" stop-color="#c30000"/><stop offset="0.446" stop-color="#a90000"/><stop offset="0.462" stop-color="#920000"/><stop offset="0.473" stop-color="#8c0000"/><stop offset="0.485" stop-color="#850000"/><stop offset="0.494" stop-color="#880000"/><stop offset="0.501" stop-color="#8a0000"/><stop offset="0.515" stop-color="#8b0000"/><stop offset="0.531" stop-color="#8d0000"/><stop offset="0.543" stop-color="#9a0000"/><stop offset="0.554" stop-color="#a60000"/><stop offset="0.571" stop-color="#bb0000"/><stop offset="0.589" stop-color="#d40000"/><stop offset="0.612" stop-color="#e30000"/><stop offset="0.635" stop-color="#f30000"/><stop offset="0.659" stop-color="#fb0500"/><stop offset="0.682" stop-color="#fe1100"/><stop offset="0.705" stop-color="#ff1e01"/><stop offset="0.728" stop-color="#ff2d03"/><stop offset="0.751" stop-color="#ff3d05"/><stop offset="0.774" stop-color="#ff4d08"/><stop offset="0.797" stop-color="#ff5a06"/><stop offset="0.821" stop-color="#ff6604"/><stop offset="0.844" stop-color="#ff7402"/><stop offset="0.867" stop-color="#ff8200"/><stop offset="0.890" stop-color="#ff8c00"/><stop offset="0.913" stop-color="#ff9700"/><stop offset="0.936" stop-color="#ff9e00"/><stop offset="0.959" stop-color="#ffa200"/><stop offset="1.000" stop-color="#ffaa00"/></linearGradient><linearGradient id="g68" x1="0" y1="0" x2="0" y2="1"><stop offset="0.000" stop-color="#ffd200"/><stop offset="0.034" stop-color="#ffc800"/><stop offset="0.061" stop-color="#ffbf00"/><stop offset="0.094" stop-color="#ffb800"/><stop offset="0.126" stop-color="#ffb000"/><stop offset="0.161" stop-color="#ff9e00"/><stop offset="0.196" stop-color="#ff8d00"/><stop offset="0.230" stop-color="#ff7d00"/><stop offset="0.265" stop-color="#ff6904"/><stop offset="0.300" stop-color="#ff4e08"/><stop offset="0.334" stop-color="#ff2e03"/><stop offset="0.358" stop-color="#fe1400"/><stop offset="0.381" stop-color="#fa0100"/><stop offset="0.404" stop-color="#de0000"/><stop offset="0.427" stop-color="#c10000"/><stop offset="0.446" stop-color="#a80000"/><stop offset="0.462" stop-color="#920000"/><stop offset="0.473" stop-color="#8b0000"/><stop offset="0.485" stop-color="#840000"/><stop offset="0.494" stop-color="#870000"/><stop offset="0.501" stop-color="#890000"/><stop offset="0.515" stop-color="#890000"/><stop offset="0.531" stop-color="#8a0000"/><stop offset="0.543" stop-color="#950000"/><stop offset="0.554" stop-color="#a10000"/><stop offset="0.571" stop-color="#b70000"/><stop offset="0.589" stop-color="#d00000"/><stop offset="0.612" stop-color="#e30000"/><stop offset="0.635" stop-color="#f60000"/><stop offset="0.659" stop-color="#fc0800"/><stop offset="0.682" stop-color="#fe1400"/><stop offset="0.705" stop-color="#ff2101"/><stop offset="0.728" stop-color="#ff3003"/><stop offset="0.751" stop-color="#ff3f06"/><stop offset="0.774" stop-color="#ff4e08"/><stop offset="0.797" stop-color="#ff5a06"/><stop offset="0.821" stop-color="#ff6505"/><stop offset="0.844" stop-color="#ff7302"/><stop offset="0.867" stop-color="#ff8100"/><stop offset="0.890" stop-color="#ff8c00"/><stop offset="0.913" stop-color="#ff9600"/><stop offset="0.936" stop-color="#ff9c00"/><stop offset="0.959" stop-color="#ffa000"/><stop offset="1.000" stop-color="#ffa800"/></linearGradient><linearGradient id="g69" x1="0" y1="0" x2="0" y2="1"><stop offset="0.000" stop-color="#ffd400"/><stop offset="0.034" stop-color="#ffca00"/><stop offset="0.061" stop-color="#ffc000"/><stop offset="0.094" stop-color="#ffb800"/><stop offset="0.126" stop-color="#ffb100"/><stop offset="0.161" stop-color="#ff9e00"/><stop offset="0.196" stop-color="#ff8d00"/><stop offset="0.230" stop-color="#ff7c01"/><stop offset="0.265" stop-color="#ff6804"/><stop offset="0.300" stop-color="#ff4c07"/><stop offset="0.334" stop-color="#ff2d03"/><stop offset="0.358" stop-color="#fe1400"/><stop offset="0.381" stop-color="#fa0000"/><stop offset="0.404" stop-color="#dd0000"/><stop offset="0.427" stop-color="#bf0000"/><stop offset="0.446" stop-color="#a70000"/><stop offset="0.462" stop-color="#920000"/><stop offset="0.473" stop-color="#8b0000"/><stop offset="0.485" stop-color="#830000"/><stop offset="0.494" stop-color="#860000"/><stop offset="0.501" stop-color="#880000"/><stop offset="0.515" stop-color="#870000"/><stop offset="0.531" stop-color="#860000"/><stop offset="0.543" stop-color="#910000"/><stop offset="0.554" stop-color="#9b0000"/><stop offset="0.571" stop-color="#b20000"/><stop offset="0.589" stop-color="#cd0000"/><stop offset="0.612" stop-color="#e30000"/><stop offset="0.635" stop-color="#f90000"/><stop offset="0.659" stop-color="#fc0b00"/><stop offset="0.682" stop-color="#ff1700"/><stop offset="0.705" stop-color="#ff2402"/><stop offset="0.728" stop-color="#ff3204"/><stop offset="0.751" stop-color="#ff4106"/><stop offset="0.774" stop-color="#ff4f08"/><stop offset="0.797" stop-color="#ff5a06"/><stop offset="0.821" stop-color="#ff6405"/><stop offset="0.844" stop-color="#ff7202"/><stop offset="0.867" stop-color="#ff8000"/><stop offset="0.890" stop-color="#ff8b00"/><stop offset="0.913" stop-color="#ff9600"/><stop offset="0.936" stop-color="#ff9b00"/><stop offset="0.959" stop-color="#ff9f00"/><stop offset="1.000" stop-color="#ffa600"/></linearGradient><linearGradient id="g70" x1="0" y1="0" x2="0" y2="1"><stop offset="0.000" stop-color="#ffd600"/><stop offset="0.034" stop-color="#ffcb00"/><stop offset="0.061" stop-color="#ffc100"/><stop offset="0.094" stop-color="#ffba00"/><stop offset="0.126" stop-color="#ffb200"/><stop offset="0.161" stop-color="#ff9f00"/><stop offset="0.196" stop-color="#ff8f00"/><stop offset="0.230" stop-color="#ff7e00"/><stop offset="0.265" stop-color="#ff6804"/><stop offset="0.300" stop-color="#ff4d08"/><stop offset="0.334" stop-color="#ff2e03"/><stop offset="0.358" stop-color="#fe1400"/><stop offset="0.381" stop-color="#fa0100"/><stop offset="0.404" stop-color="#de0000"/><stop offset="0.427" stop-color="#c00000"/><stop offset="0.446" stop-color="#a80000"/><stop offset="0.462" stop-color="#930000"/><stop offset="0.473" stop-color="#8a0000"/><stop offset="0.485" stop-color="#820000"/><stop offset="0.494" stop-color="#850000"/><stop offset="0.501" stop-color="#870000"/><stop offset="0.515" stop-color="#860000"/><stop offset="0.531" stop-color="#850000"/><stop offset="0.543" stop-color="#8f0000"/><stop offset="0.554" stop-color="#990000"/><stop offset="0.571" stop-color="#b10000"/><stop offset="0.589" stop-color="#cc0000"/><stop offset="0.612" stop-color="#e30000"/><stop offset="0.635" stop-color="#fa0000"/><stop offset="0.659" stop-color="#fd0c00"/><stop offset="0.682" stop-color="#ff1800"/><stop offset="0.705" stop-color="#ff2602"/><stop offset="0.728" stop-color="#ff3304"/><stop offset="0.751" stop-color="#ff4206"/><stop offset="0.774" stop-color="#ff5108"/><stop offset="0.797" stop-color="#ff5b06"/><stop offset="0.821" stop-color="#ff6505"/><stop offset="0.844" stop-color="#ff7302"/><stop offset="0.867" stop-color="#ff8100"/><stop offset="0.890" stop-color="#ff8c00"/><stop offset="0.913" stop-color="#ff9700"/><stop offset="0.936" stop-color="#ff9a00"/><stop offset="0.959" stop-color="#ff9e00"/><stop offset="1.000" stop-color="#ffa500"/></linearGradient><linearGradient id="g71" x1="0" y1="0" x2="0" y2="1"><stop offset="0.000" stop-color="#ffd700"/><stop offset="0.034" stop-color="#ffcd00"/><stop offset="0.061" stop-color="#ffc300"/><stop offset="0.094" stop-color="#ffbb00"/><stop offset="0.126" stop-color="#ffb300"/><stop offset="0.161" stop-color="#ffa100"/><stop offset="0.196" stop-color="#ff9100"/><stop offset="0.230" stop-color="#ff8000"/><stop offset="0.265" stop-color="#ff6b04"/><stop offset="0.300" stop-color="#ff4f08"/><stop offset="0.334" stop-color="#ff3003"/><stop offset="0.358" stop-color="#ff1600"/><stop offset="0.381" stop-color="#fb0200"/><stop offset="0.404" stop-color="#e00000"/><stop offset="0.427" stop-color="#c30000"/><stop offset="0.446" stop-color="#a90000"/><stop offset="0.462" stop-color="#930000"/><stop offset="0.473" stop-color="#8b0000"/><stop offset="0.485" stop-color="#810000"/><stop offset="0.494" stop-color="#840000"/><stop offset="0.501" stop-color="#860000"/><stop offset="0.515" stop-color="#860000"/><stop offset="0.531" stop-color="#860000"/><stop offset="0.543" stop-color="#900000"/><stop offset="0.554" stop-color="#9a0000"/><stop offset="0.571" stop-color="#b10000"/><stop offset="0.589" stop-color="#cd0000"/><stop offset="0.612" stop-color="#e40000"/><stop offset="0.635" stop-color="#fa0000"/><stop offset="0.659" stop-color="#fd0c00"/><stop offset="0.682" stop-color="#ff1900"/><stop offset="0.705" stop-color="#ff2702"/><stop offset="0.728" stop-color="#ff3404"/><stop offset="0.751" stop-color="#ff4306"/><stop offset="0.774" stop-color="#ff5208"/><stop offset="0.797" stop-color="#ff5c06"/><stop offset="0.821" stop-color="#ff6704"/><stop offset="0.844" stop-color="#ff7502"/><stop offset="0.867" stop-color="#ff8200"/><stop offset="0.890" stop-color="#ff8d00"/><stop offset="0.913" stop-color="#ff9700"/><stop offset="0.936" stop-color="#ff9b00"/><stop offset="0.959" stop-color="#ff9f00"/><stop offset="1.000" stop-color="#ffa600"/></linearGradient><linearGradient id="g72" x1="0" y1="0" x2="0" y2="1"><stop offset="0.000" stop-color="#ffd800"/><stop offset="0.034" stop-color="#ffce00"/><stop offset="0.061" stop-color="#ffc500"/><stop offset="0.094" stop-color="#ffbc00"/><stop offset="0.126" stop-color="#ffb400"/><stop offset="0.161" stop-color="#ffa300"/><stop offset="0.196" stop-color="#ff9300"/><stop offset="0.230" stop-color="#ff8200"/><stop offset="0.265" stop-color="#ff6d03"/><stop offset="0.300" stop-color="#ff5208"/><stop offset="0.334" stop-color="#ff3204"/><stop offset="0.358" stop-color="#ff1700"/><stop offset="0.381" stop-color="#fb0400"/><stop offset="0.404" stop-color="#e20000"/><stop offset="0.427" stop-color="#c60000"/><stop offset="0.446" stop-color="#ab0000"/><stop offset="0.462" stop-color="#940000"/><stop offset="0.473" stop-color="#8b0000"/><stop offset="0.485" stop-color="#810000"/><stop offset="0.494" stop-color="#840000"/><stop offset="0.501" stop-color="#860000"/><stop offset="0.515" stop-color="#870000"/><stop offset="0.531" stop-color="#880000"/><stop offset="0.543" stop-color="#900000"/><stop offset="0.554" stop-color="#9b0000"/><stop offset="0.571" stop-color="#b20000"/><stop offset="0.589" stop-color="#cf0000"/><stop offset="0.612" stop-color="#e40000"/><stop offset="0.635" stop-color="#fa0000"/><stop offset="0.659" stop-color="#fd0d00"/><stop offset="0.682" stop-color="#ff1a00"/><stop offset="0.705" stop-color="#ff2802"/><stop offset="0.728" stop-color="#ff3504"/><stop offset="0.751" stop-color="#ff4406"/><stop offset="0.774" stop-color="#ff5307"/><stop offset="0.797" stop-color="#ff5e06"/><stop offset="0.821" stop-color="#ff6904"/><stop offset="0.844" stop-color="#ff7701"/><stop offset="0.867" stop-color="#ff8400"/><stop offset="0.890" stop-color="#ff8e00"/><stop offset="0.913" stop-color="#ff9800"/><stop offset="0.936" stop-color="#ff9c00"/><stop offset="0.959" stop-color="#ffa000"/><stop offset="1.000" stop-color="#ffa800"/></linearGradient><linearGradient id="g73" x1="0" y1="0" x2="0" y2="1"><stop offset="0.000" stop-color="#ffd900"/><stop offset="0.034" stop-color="#ffcf00"/><stop offset="0.061" stop-color="#ffc700"/><stop offset="0.094" stop-color="#ffbe00"/><stop offset="0.126" stop-color="#ffb500"/><stop offset="0.161" stop-color="#ffa400"/><stop offset="0.196" stop-color="#ff9600"/><stop offset="0.230" stop-color="#ff8500"/><stop offset="0.265" stop-color="#ff7003"/><stop offset="0.300" stop-color="#ff5407"/><stop offset="0.334" stop-color="#ff3304"/><stop offset="0.358" stop-color="#ff1900"/><stop offset="0.381" stop-color="#fb0600"/><stop offset="0.404" stop-color="#e50000"/><stop offset="0.427" stop-color="#c80000"/><stop offset="0.446" stop-color="#ad0000"/><stop offset="0.462" stop-color="#950000"/><stop offset="0.473" stop-color="#8b0000"/><stop offset="0.485" stop-color="#800000"/><stop offset="0.494" stop-color="#830000"/><stop offset="0.501" stop-color="#850000"/><stop offset="0.515" stop-color="#870000"/><stop offset="0.531" stop-color="#890000"/><stop offset="0.543" stop-color="#900000"/><stop offset="0.554" stop-color="#9c0000"/><stop offset="0.571" stop-color="#b30000"/><stop offset="0.589" stop-color="#d00000"/><stop offset="0.612" stop-color="#e50000"/><stop offset="0.635" stop-color="#fa0000"/><stop offset="0.659" stop-color="#fd0d00"/><stop offset="0.682" stop-color="#ff1b00"/><stop offset="0.705" stop-color="#ff2802"/><stop offset="0.728" stop-color="#ff3604"/><stop offset="0.751" stop-color="#ff4506"/><stop offset="0.774" stop-color="#ff5407"/><stop offset="0.797" stop-color="#ff6005"/><stop offset="0.821" stop-color="#ff6c03"/><stop offset="0.844" stop-color="#ff7901"/><stop offset="0.867" stop-color="#ff8500"/><stop offset="0.890" stop-color="#ff8f00"/><stop offset="0.913" stop-color="#ff9800"/><stop offset="0.936" stop-color="#ff9c00"/><stop offset="0.959" stop-color="#ffa100"/><stop offset="1.000" stop-color="#ffa900"/></linearGradient><linearGradient id="g74" x1="0" y1="0" x2="0" y2="1"><stop offset="0.000" stop-color="#ffdb00"/><stop offset="0.034" stop-color="#ffd100"/><stop offset="0.061" stop-color="#ffc800"/><stop offset="0.094" stop-color="#ffbf00"/><stop offset="0.126" stop-color="#ffb600"/><stop offset="0.161" stop-color="#ffa600"/><stop offset="0.196" stop-color="#ff9800"/><stop offset="0.230" stop-color="#ff8700"/><stop offset="0.265" stop-color="#ff7202"/><stop offset="0.300" stop-color="#ff5607"/><stop offset="0.334" stop-color="#ff3504"/><stop offset="0.358" stop-color="#ff1b00"/><stop offset="0.381" stop-color="#fc0700"/><stop offset="0.404" stop-color="#e70000"/><stop offset="0.427" stop-color="#cb0000"/><stop offset="0.446" stop-color="#ae0000"/><stop offset="0.462" stop-color="#960000"/><stop offset="0.473" stop-color="#8b0000"/><stop offset="0.485" stop-color="#800000"/><stop offset="0.494" stop-color="#820000"/><stop offset="0.501" stop-color="#840000"/><stop offset="0.515" stop-color="#870000"/><stop offset="0.531" stop-color="#8a0000"/><stop offset="0.543" stop-color="#910000"/><stop offset="0.554" stop-color="#9d0000"/><stop offset="0.571" stop-color="#b40000"/><stop offset="0.589" stop-color="#d10000"/><stop offset="0.612" stop-color="#e50000"/><stop offset="0.635" stop-color="#fa0000"/><stop offset="0.659" stop-color="#fd0d00"/><stop offset="0.682" stop-color="#ff1c01"/><stop offset="0.705" stop-color="#ff2902"/><stop offset="0.728" stop-color="#ff3704"/><stop offset="0.751" stop-color="#ff4707"/><stop offset="0.774" stop-color="#ff5507"/><stop offset="0.797" stop-color="#ff6205"/><stop offset="0.821" stop-color="#ff6e03"/><stop offset="0.844" stop-color="#ff7b01"/><stop offset="0.867" stop-color="#ff8700"/><stop offset="0.890" stop-color="#ff9000"/><stop offset="0.913" stop-color="#ff9900"/><stop offset="0.936" stop-color="#ff9d00"/><stop offset="0.959" stop-color="#ffa100"/><stop offset="1.000" stop-color="#ffaa00"/></linearGradient><linearGradient id="g75" x1="0" y1="0" x2="0" y2="1"><stop offset="0.000" stop-color="#ffdc00"/><stop offset="0.034" stop-color="#ffd200"/><stop offset="0.061" stop-color="#ffca00"/><stop offset="0.094" stop-color="#ffc100"/><stop offset="0.126" stop-color="#ffb700"/><stop offset="0.161" stop-color="#ffa800"/><stop offset="0.196" stop-color="#ff9b00"/><stop offset="0.230" stop-color="#ff8900"/><stop offset="0.265" stop-color="#ff7402"/><stop offset="0.300" stop-color="#ff5807"/><stop offset="0.334" stop-color="#ff3704"/><stop offset="0.358" stop-color="#ff1d01"/><stop offset="0.381" stop-color="#fc0900"/><stop offset="0.404" stop-color="#e90000"/><stop offset="0.427" stop-color="#ce0000"/><stop offset="0.446" stop-color="#b00000"/><stop offset="0.462" stop-color="#970000"/><stop offset="0.473" stop-color="#8b0000"/><stop offset="0.485" stop-color="#7f0000"/><stop offset="0.494" stop-color="#820000"/><stop offset="0.501" stop-color="#840000"/><stop offset="0.515" stop-color="#870000"/><stop offset="0.531" stop-color="#8b0000"/><stop offset="0.543" stop-color="#910000"/><stop offset="0.554" stop-color="#9e0000"/><stop offset="0.571" stop-color="#b40000"/><stop offset="0.589" stop-color="#d20000"/><stop offset="0.612" stop-color="#e60000"/><stop offset="0.635" stop-color="#fa0000"/><stop offset="0.659" stop-color="#fd0e00"/><stop offset="0.682" stop-color="#ff1d01"/><stop offset="0.705" stop-color="#ff2a03"/><stop offset="0.728" stop-color="#ff3805"/><stop offset="0.751" stop-color="#ff4807"/><stop offset="0.774" stop-color="#ff5707"/><stop offset="0.797" stop-color="#ff6405"/><stop offset="0.821" stop-color="#ff7103"/><stop offset="0.844" stop-color="#ff7e00"/><stop offset="0.867" stop-color="#ff8800"/><stop offset="0.890" stop-color="#ff9100"/><stop offset="0.913" stop-color="#ff9900"/><stop offset="0.936" stop-color="#ff9e00"/><stop offset="0.959" stop-color="#ffa200"/><stop offset="1.000" stop-color="#ffab00"/></linearGradient><linearGradient id="g76" x1="0" y1="0" x2="0" y2="1"><stop offset="0.000" stop-color="#ffdd00"/><stop offset="0.034" stop-color="#ffd400"/><stop offset="0.061" stop-color="#ffcc00"/><stop offset="0.094" stop-color="#ffc200"/><stop offset="0.126" stop-color="#ffb800"/><stop offset="0.161" stop-color="#ffaa00"/><stop offset="0.196" stop-color="#ff9d00"/><stop offset="0.230" stop-color="#ff8b00"/><stop offset="0.265" stop-color="#ff7702"/><stop offset="0.300" stop-color="#ff5a06"/><stop offset="0.334" stop-color="#ff3905"/><stop offset="0.358" stop-color="#ff1f01"/><stop offset="0.381" stop-color="#fc0a00"/><stop offset="0.404" stop-color="#eb0000"/><stop offset="0.427" stop-color="#d10000"/><stop offset="0.446" stop-color="#b20000"/><stop offset="0.462" stop-color="#970000"/><stop offset="0.473" stop-color="#8b0000"/><stop offset="0.485" stop-color="#7f0000"/><stop offset="0.494" stop-color="#810000"/><stop offset="0.501" stop-color="#830000"/><stop offset="0.515" stop-color="#870000"/><stop offset="0.531" stop-color="#8c0000"/><stop offset="0.543" stop-color="#920000"/><stop offset="0.554" stop-color="#9f0000"/><stop offset="0.571" stop-color="#b50000"/><stop offset="0.589" stop-color="#d30000"/><stop offset="0.612" stop-color="#e70000"/><stop offset="0.635" stop-color="#fa0000"/><stop offset="0.659" stop-color="#fd0e00"/><stop offset="0.682" stop-color="#ff1e01"/><stop offset="0.705" stop-color="#ff2b03"/><stop offset="0.728" stop-color="#ff3805"/><stop offset="0.751" stop-color="#ff4907"/><stop offset="0.774" stop-color="#ff5807"/><stop offset="0.797" stop-color="#ff6504"/><stop offset="0.821" stop-color="#ff7302"/><stop offset="0.844" stop-color="#ff8000"/><stop offset="0.867" stop-color="#ff8a00"/><stop offset="0.890" stop-color="#ff9200"/><stop offset="0.913" stop-color="#ff9a00"/><stop offset="0.936" stop-color="#ff9e00"/><stop offset="0.959" stop-color="#ffa300"/><stop offset="1.000" stop-color="#ffac00"/></linearGradient><linearGradient id="g77" x1="0" y1="0" x2="0" y2="1"><stop offset="0.000" stop-color="#ffde00"/><stop offset="0.034" stop-color="#ffd600"/><stop offset="0.061" stop-color="#ffcd00"/><stop offset="0.094" stop-color="#ffc300"/><stop offset="0.126" stop-color="#ffb900"/><stop offset="0.161" stop-color="#ffac00"/><stop offset="0.196" stop-color="#ff9f00"/><stop offset="0.230" stop-color="#ff8d00"/><stop offset="0.265" stop-color="#ff7901"/><stop offset="0.300" stop-color="#ff5c06"/><stop offset="0.334" stop-color="#ff3b05"/><stop offset="0.358" stop-color="#ff2101"/><stop offset="0.381" stop-color="#fd0c00"/><stop offset="0.404" stop-color="#ee0000"/><stop offset="0.427" stop-color="#d40000"/><stop offset="0.446" stop-color="#b40000"/><stop offset="0.462" stop-color="#980000"/><stop offset="0.473" stop-color="#8c0000"/><stop offset="0.485" stop-color="#7e0000"/><stop offset="0.494" stop-color="#800000"/><stop offset="0.501" stop-color="#820000"/><stop offset="0.515" stop-color="#870000"/><stop offset="0.531" stop-color="#8d0000"/><stop offset="0.543" stop-color="#920000"/><stop offset="0.554" stop-color="#a00000"/><stop offset="0.571" stop-color="#b60000"/><stop offset="0.589" stop-color="#d40000"/><stop offset="0.612" stop-color="#e70000"/><stop offset="0.635" stop-color="#fa0000"/><stop offset="0.659" stop-color="#fd0e00"/><stop offset="0.682" stop-color="#ff1e01"/><stop offset="0.705" stop-color="#ff2c03"/><stop offset="0.728" stop-color="#ff3905"/><stop offset="0.751" stop-color="#ff4a07"/><stop offset="0.774" stop-color="#ff5906"/><stop offset="0.797" stop-color="#ff6704"/><stop offset="0.821" stop-color="#ff7502"/><stop offset="0.844" stop-color="#ff8100"/><stop offset="0.867" stop-color="#ff8b00"/><stop offset="0.890" stop-color="#ff9300"/><stop offset="0.913" stop-color="#ff9a00"/><stop offset="0.936" stop-color="#ff9f00"/><stop offset="0.959" stop-color="#ffa400"/><stop offset="1.000" stop-color="#ffad00"/></linearGradient><linearGradient id="g78" x1="0" y1="0" x2="0" y2="1"><stop offset="0.000" stop-color="#ffdf00"/><stop offset="0.034" stop-color="#ffd700"/><stop offset="0.061" stop-color="#ffd000"/><stop offset="0.094" stop-color="#ffc600"/><stop offset="0.126" stop-color="#ffbc00"/><stop offset="0.161" stop-color="#ffae00"/><stop offset="0.196" stop-color="#ffa200"/><stop offset="0.230" stop-color="#ff8f00"/><stop offset="0.265" stop-color="#ff7b01"/><stop offset="0.300" stop-color="#ff5e06"/><stop offset="0.334" stop-color="#ff3d05"/><stop offset="0.358" stop-color="#ff2302"/><stop offset="0.381" stop-color="#fd0e00"/><stop offset="0.404" stop-color="#f00000"/><stop offset="0.427" stop-color="#d60000"/><stop offset="0.446" stop-color="#b50000"/><stop offset="0.462" stop-color="#990000"/><stop offset="0.473" stop-color="#8c0000"/><stop offset="0.485" stop-color="#7d0000"/><stop offset="0.494" stop-color="#800000"/><stop offset="0.501" stop-color="#810000"/><stop offset="0.515" stop-color="#870000"/><stop offset="0.531" stop-color="#8e0000"/><stop offset="0.543" stop-color="#930000"/><stop offset="0.554" stop-color="#a20000"/><stop offset="0.571" stop-color="#b70000"/><stop offset="0.589" stop-color="#d60000"/><stop offset="0.612" stop-color="#e90000"/><stop offset="0.635" stop-color="#fa0100"/><stop offset="0.659" stop-color="#fd1000"/><stop offset="0.682" stop-color="#ff2101"/><stop offset="0.705" stop-color="#ff2e03"/><stop offset="0.728" stop-color="#ff3c05"/><stop offset="0.751" stop-color="#ff4d08"/><stop offset="0.774" stop-color="#ff5b06"/><stop offset="0.797" stop-color="#ff6a04"/><stop offset="0.821" stop-color="#ff7801"/><stop offset="0.844" stop-color="#ff8300"/><stop offset="0.867" stop-color="#ff8d00"/><stop offset="0.890" stop-color="#ff9400"/><stop offset="0.913" stop-color="#ff9b00"/><stop offset="0.936" stop-color="#ffa000"/><stop offset="0.959" stop-color="#ffa500"/><stop offset="1.000" stop-color="#ffae00"/></linearGradient><linearGradient id="g79" x1="0" y1="0" x2="0" y2="1"><stop offset="0.000" stop-color="#ffe000"/><stop offset="0.034" stop-color="#ffd900"/><stop offset="0.061" stop-color="#ffd200"/><stop offset="0.094" stop-color="#ffc900"/><stop offset="0.126" stop-color="#ffbf00"/><stop offset="0.161" stop-color="#ffb100"/><stop offset="0.196" stop-color="#ffa300"/><stop offset="0.230" stop-color="#ff9100"/><stop offset="0.265" stop-color="#ff7e00"/><stop offset="0.300" stop-color="#ff6005"/><stop offset="0.334" stop-color="#ff4006"/><stop offset="0.358" stop-color="#ff2602"/><stop offset="0.381" stop-color="#fd0f00"/><stop offset="0.404" stop-color="#f20000"/><stop offset="0.427" stop-color="#d80000"/><stop offset="0.446" stop-color="#b60000"/><stop offset="0.462" stop-color="#9a0000"/><stop offset="0.473" stop-color="#8c0000"/><stop offset="0.485" stop-color="#7d0000"/><stop offset="0.494" stop-color="#7f0000"/><stop offset="0.501" stop-color="#800000"/><stop offset="0.515" stop-color="#870000"/><stop offset="0.531" stop-color="#8e0000"/><stop offset="0.543" stop-color="#950000"/><stop offset="0.554" stop-color="#a40000"/><stop offset="0.571" stop-color="#ba0000"/><stop offset="0.589" stop-color="#d80000"/><stop offset="0.612" stop-color="#eb0000"/><stop offset="0.635" stop-color="#fb0400"/><stop offset="0.659" stop-color="#fe1200"/><stop offset="0.682" stop-color="#ff2402"/><stop offset="0.705" stop-color="#ff3204"/><stop offset="0.728" stop-color="#ff4006"/><stop offset="0.751" stop-color="#ff5108"/><stop offset="0.774" stop-color="#ff5f06"/><stop offset="0.797" stop-color="#ff6c03"/><stop offset="0.821" stop-color="#ff7a01"/><stop offset="0.844" stop-color="#ff8500"/><stop offset="0.867" stop-color="#ff8e00"/><stop offset="0.890" stop-color="#ff9500"/><stop offset="0.913" stop-color="#ff9c00"/><stop offset="0.936" stop-color="#ffa100"/><stop offset="0.959" stop-color="#ffa600"/><stop offset="1.000" stop-color="#ffaf00"/></linearGradient><linearGradient id="g80" x1="0" y1="0" x2="0" y2="1"><stop offset="0.000" stop-color="#ffe100"/><stop offset="0.034" stop-color="#ffdb00"/><stop offset="0.061" stop-color="#ffd500"/><stop offset="0.094" stop-color="#ffcc00"/><stop offset="0.126" stop-color="#ffc300"/><stop offset="0.161" stop-color="#ffb400"/><stop offset="0.196" stop-color="#ffa500"/><stop offset="0.230" stop-color="#ff9300"/><stop offset="0.265" stop-color="#ff8000"/><stop offset="0.300" stop-color="#ff6205"/><stop offset="0.334" stop-color="#ff4206"/><stop offset="0.358" stop-color="#ff2802"/><stop offset="0.381" stop-color="#fd1100"/><stop offset="0.404" stop-color="#f30000"/><stop offset="0.427" stop-color="#d90000"/><stop offset="0.446" stop-color="#b70000"/><stop offset="0.462" stop-color="#9a0000"/><stop offset="0.473" stop-color="#8c0000"/><stop offset="0.485" stop-color="#7c0000"/><stop offset="0.494" stop-color="#7e0000"/><stop offset="0.501" stop-color="#7f0000"/><stop offset="0.515" stop-color="#870000"/><stop offset="0.531" stop-color="#8f0000"/><stop offset="0.543" stop-color="#970000"/><stop offset="0.554" stop-color="#a60000"/><stop offset="0.571" stop-color="#bc0000"/><stop offset="0.589" stop-color="#db0000"/><stop offset="0.612" stop-color="#ee0000"/><stop offset="0.635" stop-color="#fb0600"/><stop offset="0.659" stop-color="#fe1500"/><stop offset="0.682" stop-color="#ff2802"/><stop offset="0.705" stop-color="#ff3604"/><stop offset="0.728" stop-color="#ff4506"/><stop offset="0.751" stop-color="#ff5407"/><stop offset="0.774" stop-color="#ff6205"/><stop offset="0.797" stop-color="#ff6f03"/><stop offset="0.821" stop-color="#ff7d01"/><stop offset="0.844" stop-color="#ff8600"/><stop offset="0.867" stop-color="#ff9000"/><stop offset="0.890" stop-color="#ff9600"/><stop offset="0.913" stop-color="#ff9d00"/><stop offset="0.936" stop-color="#ffa200"/><stop offset="0.959" stop-color="#ffa700"/><stop offset="1.000" stop-color="#ffb100"/></linearGradient><linearGradient id="g81" x1="0" y1="0" x2="0" y2="1"><stop offset="0.000" stop-color="#ffe200"/><stop offset="0.034" stop-color="#ffdd00"/><stop offset="0.061" stop-color="#ffd800"/><stop offset="0.094" stop-color="#ffcf00"/><stop offset="0.126" stop-color="#ffc700"/><stop offset="0.161" stop-color="#ffb700"/><stop offset="0.196" stop-color="#ffa800"/><stop offset="0.230" stop-color="#ff9400"/><stop offset="0.265" stop-color="#ff8200"/><stop offset="0.300" stop-color="#ff6405"/><stop offset="0.334" stop-color="#ff4406"/><stop offset="0.358" stop-color="#ff2a03"/><stop offset="0.381" stop-color="#fe1200"/><stop offset="0.404" stop-color="#f50000"/><stop offset="0.427" stop-color="#db0000"/><stop offset="0.446" stop-color="#b80000"/><stop offset="0.462" stop-color="#9b0000"/><stop offset="0.473" stop-color="#8c0000"/><stop offset="0.485" stop-color="#7b0000"/><stop offset="0.494" stop-color="#7d0000"/><stop offset="0.501" stop-color="#7e0000"/><stop offset="0.515" stop-color="#860000"/><stop offset="0.531" stop-color="#8f0000"/><stop offset="0.543" stop-color="#980000"/><stop offset="0.554" stop-color="#a80000"/><stop offset="0.571" stop-color="#bf0000"/><stop offset="0.589" stop-color="#dd0000"/><stop offset="0.612" stop-color="#f00000"/><stop offset="0.635" stop-color="#fc0800"/><stop offset="0.659" stop-color="#ff1700"/><stop offset="0.682" stop-color="#ff2c03"/><stop offset="0.705" stop-color="#ff3a05"/><stop offset="0.728" stop-color="#ff4907"/><stop offset="0.751" stop-color="#ff5807"/><stop offset="0.774" stop-color="#ff6604"/><stop offset="0.797" stop-color="#ff7202"/><stop offset="0.821" stop-color="#ff7f00"/><stop offset="0.844" stop-color="#ff8800"/><stop offset="0.867" stop-color="#ff9100"/><stop offset="0.890" stop-color="#ff9800"/><stop offset="0.913" stop-color="#ff9e00"/><stop offset="0.936" stop-color="#ffa300"/><stop offset="0.959" stop-color="#ffa800"/><stop offset="1.000" stop-color="#ffb200"/></linearGradient><linearGradient id="g82" x1="0" y1="0" x2="0" y2="1"><stop offset="0.000" stop-color="#ffe300"/><stop offset="0.034" stop-color="#ffdf00"/><stop offset="0.061" stop-color="#ffdb00"/><stop offset="0.094" stop-color="#ffd200"/><stop offset="0.126" stop-color="#ffca00"/><stop offset="0.161" stop-color="#ffba00"/><stop offset="0.196" stop-color="#ffaa00"/><stop offset="0.230" stop-color="#ff9600"/><stop offset="0.265" stop-color="#ff8300"/><stop offset="0.300" stop-color="#ff6604"/><stop offset="0.334" stop-color="#ff4607"/><stop offset="0.358" stop-color="#ff2c03"/><stop offset="0.381" stop-color="#fe1400"/><stop offset="0.404" stop-color="#f70000"/><stop offset="0.427" stop-color="#dd0000"/><stop offset="0.446" stop-color="#ba0000"/><stop offset="0.462" stop-color="#9b0000"/><stop offset="0.473" stop-color="#8c0000"/><stop offset="0.485" stop-color="#7b0000"/><stop offset="0.494" stop-color="#7c0000"/><stop offset="0.501" stop-color="#7d0000"/><stop offset="0.515" stop-color="#860000"/><stop offset="0.531" stop-color="#900000"/><stop offset="0.543" stop-color="#9a0000"/><stop offset="0.554" stop-color="#aa0000"/><stop offset="0.571" stop-color="#c10000"/><stop offset="0.589" stop-color="#e00000"/><stop offset="0.612" stop-color="#f30000"/><stop offset="0.635" stop-color="#fc0b00"/><stop offset="0.659" stop-color="#ff1a00"/><stop offset="0.682" stop-color="#ff3003"/><stop offset="0.705" stop-color="#ff3e05"/><stop offset="0.728" stop-color="#ff4d08"/><stop offset="0.751" stop-color="#ff5b06"/><stop offset="0.774" stop-color="#ff6904"/><stop offset="0.797" stop-color="#ff7502"/><stop offset="0.821" stop-color="#ff8100"/><stop offset="0.844" stop-color="#ff8a00"/><stop offset="0.867" stop-color="#ff9200"/><stop offset="0.890" stop-color="#ff9900"/><stop offset="0.913" stop-color="#ff9f00"/><stop offset="0.936" stop-color="#ffa400"/><stop offset="0.959" stop-color="#ffaa00"/><stop offset="1.000" stop-color="#ffb300"/></linearGradient><linearGradient id="g83" x1="0" y1="0" x2="0" y2="1"><stop offset="0.000" stop-color="#ffe400"/><stop offset="0.034" stop-color="#ffe100"/><stop offset="0.061" stop-color="#ffdd00"/><stop offset="0.094" stop-color="#ffd600"/><stop offset="0.126" stop-color="#ffce00"/><stop offset="0.161" stop-color="#ffbd00"/><stop offset="0.196" stop-color="#ffac00"/><stop offset="0.230" stop-color="#ff9800"/><stop offset="0.265" stop-color="#ff8500"/><stop offset="0.300" stop-color="#ff6804"/><stop offset="0.334" stop-color="#ff4807"/><stop offset="0.358" stop-color="#ff2e03"/><stop offset="0.381" stop-color="#fe1500"/><stop offset="0.404" stop-color="#f90000"/><stop offset="0.427" stop-color="#df0000"/><stop offset="0.446" stop-color="#bb0000"/><stop offset="0.462" stop-color="#9c0000"/><stop offset="0.473" stop-color="#8c0000"/><stop offset="0.485" stop-color="#7a0000"/><stop offset="0.494" stop-color="#7b0000"/><stop offset="0.501" stop-color="#7c0000"/><stop offset="0.515" stop-color="#850000"/><stop offset="0.531" stop-color="#900000"/><stop offset="0.543" stop-color="#9c0000"/><stop offset="0.554" stop-color="#ac0000"/><stop offset="0.571" stop-color="#c40000"/><stop offset="0.589" stop-color="#e20000"/><stop offset="0.612" stop-color="#f50000"/><stop offset="0.635" stop-color="#fd0d00"/><stop offset="0.659" stop-color="#ff1e01"/><stop offset="0.682" stop-color="#ff3304"/><stop offset="0.705" stop-color="#ff4206"/><stop offset="0.728" stop-color="#ff5108"/><stop offset="0.751" stop-color="#ff5f06"/><stop offset="0.774" stop-color="#ff6c03"/><stop offset="0.797" stop-color="#ff7801"/><stop offset="0.821" stop-color="#ff8300"/><stop offset="0.844" stop-color="#ff8b00"/><stop offset="0.867" stop-color="#ff9400"/><stop offset="0.890" stop-color="#ff9a00"/><stop offset="0.913" stop-color="#ffa000"/><stop offset="0.936" stop-color="#ffa500"/><stop offset="0.959" stop-color="#ffab00"/><stop offset="1.000" stop-color="#ffb500"/></linearGradient><linearGradient id="g84" x1="0" y1="0" x2="0" y2="1"><stop offset="0.000" stop-color="#ffe500"/><stop offset="0.034" stop-color="#ffe200"/><stop offset="0.061" stop-color="#ffe000"/><stop offset="0.094" stop-color="#ffd900"/><stop offset="0.126" stop-color="#ffd200"/><stop offset="0.161" stop-color="#ffc000"/><stop offset="0.196" stop-color="#ffae00"/><stop offset="0.230" stop-color="#ff9a00"/><stop offset="0.265" stop-color="#ff8700"/><stop offset="0.300" stop-color="#ff6a04"/><stop offset="0.334" stop-color="#ff4a07"/><stop offset="0.358" stop-color="#ff3104"/><stop offset="0.381" stop-color="#ff1700"/><stop offset="0.404" stop-color="#fa0100"/><stop offset="0.427" stop-color="#e10000"/><stop offset="0.446" stop-color="#bc0000"/><stop offset="0.462" stop-color="#9d0000"/><stop offset="0.473" stop-color="#8c0000"/><stop offset="0.485" stop-color="#790000"/><stop offset="0.494" stop-color="#7a0000"/><stop offset="0.501" stop-color="#7b0000"/><stop offset="0.515" stop-color="#850000"/><stop offset="0.531" stop-color="#910000"/><stop offset="0.543" stop-color="#9e0000"/><stop offset="0.554" stop-color="#ae0000"/><stop offset="0.571" stop-color="#c60000"/><stop offset="0.589" stop-color="#e40000"/><stop offset="0.612" stop-color="#f80000"/><stop offset="0.635" stop-color="#fd0f00"/><stop offset="0.659" stop-color="#ff2101"/><stop offset="0.682" stop-color="#ff3704"/><stop offset="0.705" stop-color="#ff4707"/><stop offset="0.728" stop-color="#ff5507"/><stop offset="0.751" stop-color="#ff6205"/><stop offset="0.774" stop-color="#ff7003"/><stop offset="0.797" stop-color="#ff7b01"/><stop offset="0.821" stop-color="#ff8500"/><stop offset="0.844" stop-color="#ff8d00"/><stop offset="0.867" stop-color="#ff9500"/><stop offset="0.890" stop-color="#ff9b00"/><stop offset="0.913" stop-color="#ffa100"/><stop offset="0.936" stop-color="#ffa600"/><stop offset="0.959" stop-color="#ffac00"/><stop offset="1.000" stop-color="#ffb600"/></linearGradient><linearGradient id="g85" x1="0" y1="0" x2="0" y2="1"><stop offset="0.000" stop-color="#ffe600"/><stop offset="0.034" stop-color="#ffe400"/><stop offset="0.061" stop-color="#ffe300"/><stop offset="0.094" stop-color="#ffdc00"/><stop offset="0.126" stop-color="#ffd600"/><stop offset="0.161" stop-color="#ffc300"/><stop offset="0.196" stop-color="#ffb000"/><stop offset="0.230" stop-color="#ff9c00"/><stop offset="0.265" stop-color="#ff8900"/><stop offset="0.300" stop-color="#ff6c03"/><stop offset="0.334" stop-color="#ff4d08"/><stop offset="0.358" stop-color="#ff3304"/><stop offset="0.381" stop-color="#ff1900"/><stop offset="0.404" stop-color="#fa0200"/><stop offset="0.427" stop-color="#e20000"/><stop offset="0.446" stop-color="#bd0000"/><stop offset="0.462" stop-color="#9d0000"/><stop offset="0.473" stop-color="#8c0000"/><stop offset="0.485" stop-color="#790000"/><stop offset="0.494" stop-color="#790000"/><stop offset="0.501" stop-color="#7a0000"/><stop offset="0.515" stop-color="#850000"/><stop offset="0.531" stop-color="#910000"/><stop offset="0.543" stop-color="#9f0000"/><stop offset="0.554" stop-color="#b10000"/><stop offset="0.571" stop-color="#c90000"/><stop offset="0.589" stop-color="#e70000"/><stop offset="0.612" stop-color="#fa0000"/><stop offset="0.635" stop-color="#fe1200"/><stop offset="0.659" stop-color="#ff2502"/><stop offset="0.682" stop-color="#ff3b05"/><stop offset="0.705" stop-color="#ff4b07"/><stop offset="0.728" stop-color="#ff5907"/><stop offset="0.751" stop-color="#ff6604"/><stop offset="0.774" stop-color="#ff7302"/><stop offset="0.797" stop-color="#ff7e00"/><stop offset="0.821" stop-color="#ff8700"/><stop offset="0.844" stop-color="#ff8f00"/><stop offset="0.867" stop-color="#ff9700"/><stop offset="0.890" stop-color="#ff9c00"/><stop offset="0.913" stop-color="#ffa200"/><stop offset="0.936" stop-color="#ffa800"/><stop offset="0.959" stop-color="#ffad00"/><stop offset="1.000" stop-color="#ffb700"/></linearGradient><linearGradient id="g86" x1="0" y1="0" x2="0" y2="1"><stop offset="0.000" stop-color="#ffe700"/><stop offset="0.034" stop-color="#ffe600"/><stop offset="0.061" stop-color="#ffe500"/><stop offset="0.094" stop-color="#ffe000"/><stop offset="0.126" stop-color="#ffda00"/><stop offset="0.161" stop-color="#ffc600"/><stop offset="0.196" stop-color="#ffb200"/><stop offset="0.230" stop-color="#ff9d00"/><stop offset="0.265" stop-color="#ff8a00"/><stop offset="0.300" stop-color="#ff6e03"/><stop offset="0.334" stop-color="#ff4f08"/><stop offset="0.358" stop-color="#ff3504"/><stop offset="0.381" stop-color="#ff1b00"/><stop offset="0.404" stop-color="#fb0400"/><stop offset="0.427" stop-color="#e40000"/><stop offset="0.446" stop-color="#be0000"/><stop offset="0.462" stop-color="#9e0000"/><stop offset="0.473" stop-color="#8c0000"/><stop offset="0.485" stop-color="#780000"/><stop offset="0.494" stop-color="#780000"/><stop offset="0.501" stop-color="#790000"/><stop offset="0.515" stop-color="#840000"/><stop offset="0.531" stop-color="#910000"/><stop offset="0.543" stop-color="#a10000"/><stop offset="0.554" stop-color="#b30000"/><stop offset="0.571" stop-color="#cb0000"/><stop offset="0.589" stop-color="#e90000"/><stop offset="0.612" stop-color="#fb0300"/><stop offset="0.635" stop-color="#fe1400"/><stop offset="0.659" stop-color="#ff2802"/><stop offset="0.682" stop-color="#ff3e05"/><stop offset="0.705" stop-color="#ff4f08"/><stop offset="0.728" stop-color="#ff5d06"/><stop offset="0.751" stop-color="#ff6904"/><stop offset="0.774" stop-color="#ff7602"/><stop offset="0.797" stop-color="#ff8100"/><stop offset="0.821" stop-color="#ff8900"/><stop offset="0.844" stop-color="#ff9000"/><stop offset="0.867" stop-color="#ff9800"/><stop offset="0.890" stop-color="#ff9e00"/><stop offset="0.913" stop-color="#ffa300"/><stop offset="0.936" stop-color="#ffa900"/><stop offset="0.959" stop-color="#ffaf00"/><stop offset="1.000" stop-color="#ffb900"/></linearGradient><linearGradient id="g87" x1="0" y1="0" x2="0" y2="1"><stop offset="0.000" stop-color="#ffe800"/><stop offset="0.034" stop-color="#ffe800"/><stop offset="0.061" stop-color="#ffe800"/><stop offset="0.094" stop-color="#ffe300"/><stop offset="0.126" stop-color="#ffde00"/><stop offset="0.161" stop-color="#ffc900"/><stop offset="0.196" stop-color="#ffb500"/><stop offset="0.230" stop-color="#ff9f00"/><stop offset="0.265" stop-color="#ff8c00"/><stop offset="0.300" stop-color="#ff7003"/><stop offset="0.334" stop-color="#ff5108"/><stop offset="0.358" stop-color="#ff3704"/><stop offset="0.381" stop-color="#ff1d01"/><stop offset="0.404" stop-color="#fb0500"/><stop offset="0.427" stop-color="#e60000"/><stop offset="0.446" stop-color="#c00000"/><stop offset="0.462" stop-color="#9f0000"/><stop offset="0.473" stop-color="#8c0000"/><stop offset="0.485" stop-color="#770000"/><stop offset="0.494" stop-color="#780000"/><stop offset="0.501" stop-color="#780000"/><stop offset="0.515" stop-color="#840000"/><stop offset="0.531" stop-color="#920000"/><stop offset="0.543" stop-color="#a30000"/><stop offset="0.554" stop-color="#b50000"/><stop offset="0.571" stop-color="#ce0000"/><stop offset="0.589" stop-color="#eb0000"/><stop offset="0.612" stop-color="#fb0500"/><stop offset="0.635" stop-color="#ff1600"/><stop offset="0.659" stop-color="#ff2c03"/><stop offset="0.682" stop-color="#ff4206"/><stop offset="0.705" stop-color="#ff5208"/><stop offset="0.728" stop-color="#ff6005"/><stop offset="0.751" stop-color="#ff6d03"/><stop offset="0.774" stop-color="#ff7a01"/><stop offset="0.797" stop-color="#ff8300"/><stop offset="0.821" stop-color="#ff8a00"/><stop offset="0.844" stop-color="#ff9200"/><stop offset="0.867" stop-color="#ff9a00"/><stop offset="0.890" stop-color="#ff9f00"/><stop offset="0.913" stop-color="#ffa400"/><stop offset="0.936" stop-color="#ffaa00"/><stop offset="0.959" stop-color="#ffb000"/><stop offset="1.000" stop-color="#ffba00"/></linearGradient><linearGradient id="g88" x1="0" y1="0" x2="0" y2="1"><stop offset="0.000" stop-color="#ffe800"/><stop offset="0.034" stop-color="#ffe900"/><stop offset="0.061" stop-color="#ffea00"/><stop offset="0.094" stop-color="#ffe500"/><stop offset="0.126" stop-color="#ffe100"/><stop offset="0.161" stop-color="#ffcb00"/><stop offset="0.196" stop-color="#ffb600"/><stop offset="0.230" stop-color="#ffa000"/><stop offset="0.265" stop-color="#ff8d00"/><stop offset="0.300" stop-color="#ff7202"/><stop offset="0.334" stop-color="#ff5208"/><stop offset="0.358" stop-color="#ff3905"/><stop offset="0.381" stop-color="#ff1f01"/><stop offset="0.404" stop-color="#fb0600"/><stop offset="0.427" stop-color="#e70000"/><stop offset="0.446" stop-color="#c00000"/><stop offset="0.462" stop-color="#9f0000"/><stop offset="0.473" stop-color="#8c0000"/><stop offset="0.485" stop-color="#770000"/><stop offset="0.494" stop-color="#770000"/><stop offset="0.501" stop-color="#770000"/><stop offset="0.515" stop-color="#840000"/><stop offset="0.531" stop-color="#920000"/><stop offset="0.543" stop-color="#a40000"/><stop offset="0.554" stop-color="#b60000"/><stop offset="0.571" stop-color="#d00000"/><stop offset="0.589" stop-color="#ed0000"/><stop offset="0.612" stop-color="#fb0600"/><stop offset="0.635" stop-color="#ff1800"/><stop offset="0.659" stop-color="#ff2e03"/><stop offset="0.682" stop-color="#ff4506"/><stop offset="0.705" stop-color="#ff5507"/><stop offset="0.728" stop-color="#ff6305"/><stop offset="0.751" stop-color="#ff7003"/><stop offset="0.774" stop-color="#ff7c01"/><stop offset="0.797" stop-color="#ff8400"/><stop offset="0.821" stop-color="#ff8c00"/><stop offset="0.844" stop-color="#ff9300"/><stop offset="0.867" stop-color="#ff9b00"/><stop offset="0.890" stop-color="#ffa000"/><stop offset="0.913" stop-color="#ffa500"/><stop offset="0.936" stop-color="#ffab00"/><stop offset="0.959" stop-color="#ffb100"/><stop offset="1.000" stop-color="#ffbb00"/></linearGradient><linearGradient id="g89" x1="0" y1="0" x2="0" y2="1"><stop offset="0.000" stop-color="#ffe800"/><stop offset="0.034" stop-color="#ffe900"/><stop offset="0.061" stop-color="#ffea00"/><stop offset="0.094" stop-color="#ffe500"/><stop offset="0.126" stop-color="#ffe100"/><stop offset="0.161" stop-color="#ffcb00"/><stop offset="0.196" stop-color="#ffb600"/><stop offset="0.230" stop-color="#ffa000"/><stop offset="0.265" stop-color="#ff8d00"/><stop offset="0.300" stop-color="#ff7202"/><stop offset="0.334" stop-color="#ff5208"/><stop offset="0.358" stop-color="#ff3905"/><stop offset="0.381" stop-color="#ff1f01"/><stop offset="0.404" stop-color="#fb0600"/><stop offset="0.427" stop-color="#e70000"/><stop offset="0.446" stop-color="#c00000"/><stop offset="0.462" stop-color="#9f0000"/><stop offset="0.473" stop-color="#8c0000"/><stop offset="0.485" stop-color="#770000"/><stop offset="0.494" stop-color="#770000"/><stop offset="0.501" stop-color="#770000"/><stop offset="0.515" stop-color="#840000"/><stop offset="0.531" stop-color="#920000"/><stop offset="0.543" stop-color="#a40000"/><stop offset="0.554" stop-color="#b60000"/><stop offset="0.571" stop-color="#d00000"/><stop offset="0.589" stop-color="#ed0000"/><stop offset="0.612" stop-color="#fb0600"/><stop offset="0.635" stop-color="#ff1800"/><stop offset="0.659" stop-color="#ff2e03"/><stop offset="0.682" stop-color="#ff4506"/><stop offset="0.705" stop-color="#ff5507"/><stop offset="0.728" stop-color="#ff6305"/><stop offset="0.751" stop-color="#ff7003"/><stop offset="0.774" stop-color="#ff7c01"/><stop offset="0.797" stop-color="#ff8400"/><stop offset="0.821" stop-color="#ff8c00"/><stop offset="0.844" stop-color="#ff9300"/><stop offset="0.867" stop-color="#ff9b00"/><stop offset="0.890" stop-color="#ffa000"/><stop offset="0.913" stop-color="#ffa500"/><stop offset="0.936" stop-color="#ffab00"/><stop offset="0.959" stop-color="#ffb100"/><stop offset="1.000" stop-color="#ffbb00"/></linearGradient><linearGradient id="g90" x1="0" y1="0" x2="0" y2="1"><stop offset="0.000" stop-color="#ffe800"/><stop offset="0.034" stop-color="#ffe900"/><stop offset="0.061" stop-color="#ffea00"/><stop offset="0.094" stop-color="#ffe500"/><stop offset="0.126" stop-color="#ffe100"/><stop offset="0.161" stop-color="#ffcb00"/><stop offset="0.196" stop-color="#ffb600"/><stop offset="0.230" stop-color="#ffa000"/><stop offset="0.265" stop-color="#ff8d00"/><stop offset="0.300" stop-color="#ff7202"/><stop offset="0.334" stop-color="#ff5208"/><stop offset="0.358" stop-color="#ff3905"/><stop offset="0.381" stop-color="#ff1f01"/><stop offset="0.404" stop-color="#fb0600"/><stop offset="0.427" stop-color="#e70000"/><stop offset="0.446" stop-color="#c00000"/><stop offset="0.462" stop-color="#9f0000"/><stop offset="0.473" stop-color="#8c0000"/><stop offset="0.485" stop-color="#770000"/><stop offset="0.494" stop-color="#770000"/><stop offset="0.501" stop-color="#770000"/><stop offset="0.515" stop-color="#840000"/><stop offset="0.531" stop-color="#920000"/><stop offset="0.543" stop-color="#a40000"/><stop offset="0.554" stop-color="#b60000"/><stop offset="0.571" stop-color="#d00000"/><stop offset="0.589" stop-color="#ed0000"/><stop offset="0.612" stop-color="#fb0600"/><stop offset="0.635" stop-color="#ff1800"/><stop offset="0.659" stop-color="#ff2e03"/><stop offset="0.682" stop-color="#ff4506"/><stop offset="0.705" stop-color="#ff5507"/><stop offset="0.728" stop-color="#ff6305"/><stop offset="0.751" stop-color="#ff7003"/><stop offset="0.774" stop-color="#ff7c01"/><stop offset="0.797" stop-color="#ff8400"/><stop offset="0.821" stop-color="#ff8c00"/><stop offset="0.844" stop-color="#ff9300"/><stop offset="0.867" stop-color="#ff9b00"/><stop offset="0.890" stop-color="#ffa000"/><stop offset="0.913" stop-color="#ffa500"/><stop offset="0.936" stop-color="#ffab00"/><stop offset="0.959" stop-color="#ffb100"/><stop offset="1.000" stop-color="#ffbb00"/></linearGradient><filter id="hb" x="-5%%" y="-5%%" width="110%%" height="110%%"><feGaussianBlur stdDeviation="5 0.6"/></filter><clipPath id="cpa"><rect x="148.5" y="45.5" width="854.0" height="432.0"/></clipPath><linearGradient id="cb" x1="0" y1="0" x2="0" y2="1"><stop offset="0.000" stop-color="#5c0000"/><stop offset="0.025" stop-color="#6f0000"/><stop offset="0.050" stop-color="#820000"/><stop offset="0.075" stop-color="#950000"/><stop offset="0.100" stop-color="#a70000"/><stop offset="0.125" stop-color="#b90000"/><stop offset="0.150" stop-color="#cc0000"/><stop offset="0.175" stop-color="#de0000"/><stop offset="0.200" stop-color="#f10000"/><stop offset="0.225" stop-color="#fc0800"/><stop offset="0.250" stop-color="#ff1800"/><stop offset="0.275" stop-color="#ff2e03"/><stop offset="0.300" stop-color="#ff4506"/><stop offset="0.325" stop-color="#ff5a06"/><stop offset="0.350" stop-color="#ff6d03"/><stop offset="0.375" stop-color="#ff8000"/><stop offset="0.400" stop-color="#ff8f00"/><stop offset="0.425" stop-color="#ff9e00"/><stop offset="0.450" stop-color="#ffae00"/><stop offset="0.475" stop-color="#ffbf00"/><stop offset="0.500" stop-color="#ffd000"/><stop offset="0.525" stop-color="#ffe300"/><stop offset="0.550" stop-color="#fff600"/><stop offset="0.575" stop-color="#fffe0a"/><stop offset="0.600" stop-color="#fffc1e"/><stop offset="0.625" stop-color="#fffa32"/><stop offset="0.650" stop-color="#fff852"/><stop offset="0.675" stop-color="#fff572"/><stop offset="0.700" stop-color="#fff595"/><stop offset="0.725" stop-color="#fff8bb"/><stop offset="0.750" stop-color="#fffae1"/><stop offset="0.775" stop-color="#ffffff"/><stop offset="0.800" stop-color="#ffffff"/><stop offset="0.825" stop-color="#ffffff"/><stop offset="0.850" stop-color="#ffffff"/><stop offset="0.875" stop-color="#ffffff"/><stop offset="0.900" stop-color="#ffffff"/><stop offset="0.925" stop-color="#ffffff"/><stop offset="0.950" stop-color="#ffffff"/><stop offset="0.975" stop-color="#ffffff"/><stop offset="1.000" stop-color="#ffffff"/></linearGradient></defs>
<g clip-path="url(#cpa)"><g filter="url(#hb)">
<rect x="120.50" y="45.50" width="10.60" height="432.00" fill="url(#g0)"/>
<rect x="130.50" y="45.50" width="10.60" height="432.00" fill="url(#g1)"/>
<rect x="140.50" y="45.50" width="10.60" height="432.00" fill="url(#g2)"/>
<rect x="150.50" y="45.50" width="10.60" height="432.00" fill="url(#g3)"/>
<rect x="160.50" y="45.50" width="10.60" height="432.00" fill="url(#g4)"/>
<rect x="170.50" y="45.50" width="10.60" height="432.00" fill="url(#g5)"/>
<rect x="180.50" y="45.50" width="10.60" height="432.00" fill="url(#g6)"/>
<rect x="190.50" y="45.50" width="10.60" height="432.00" fill="url(#g7)"/>
<rect x="200.50" y="45.50" width="10.60" height="432.00" fill="url(#g8)"/>
<rect x="210.50" y="45.50" width="10.60" height="432.00" fill="url(#g9)"/>
<rect x="220.50" y="45.50" width="10.60" height="432.00" fill="url(#g10)"/>
<rect x="230.50" y="45.50" width="10.60" height="432.00" fill="url(#g11)"/>
<rect x="240.50" y="45.50" width="10.60" height="432.00" fill="url(#g12)"/>
<rect x="250.50" y="45.50" width="10.60" height="432.00" fill="url(#g13)"/>
<rect x="260.50" y="45.50" width="10.60" height="432.00" fill="url(#g14)"/>
<rect x="270.50" y="45.50" width="10.60" height="432.00" fill="url(#g15)"/>
<rect x="280.50" y="45.50" width="10.60" height="432.00" fill="url(#g16)"/>
<rect x="290.50" y="45.50" width="10.60" height="432.00" fill="url(#g17)"/>
<rect x="300.50" y="45.50" width="10.60" height="432.00" fill="url(#g18)"/>
<rect x="310.50" y="45.50" width="10.60" height="432.00" fill="url(#g19)"/>
<rect x="320.50" y="45.50" width="10.60" height="432.00" fill="url(#g20)"/>
<rect x="330.50" y="45.50" width="10.60" height="432.00" fill="url(#g21)"/>
<rect x="340.50" y="45.50" width="10.60" height="432.00" fill="url(#g22)"/>
<rect x="350.50" y="45.50" width="10.60" height="432.00" fill="url(#g23)"/>
<rect x="360.50" y="45.50" width="10.60" height="432.00" fill="url(#g24)"/>
<rect x="370.50" y="45.50" width="10.60" height="432.00" fill="url(#g25)"/>
<rect x="380.50" y="45.50" width="10.60" height="432.00" fill="url(#g26)"/>
<rect x="390.50" y="45.50" width="10.60" height="432.00" fill="url(#g27)"/>
<rect x="400.50" y="45.50" width="10.60" height="432.00" fill="url(#g28)"/>
<rect x="410.50" y="45.50" width="10.60" height="432.00" fill="url(#g29)"/>
<rect x="420.50" y="45.50" width="10.60" height="432.00" fill="url(#g30)"/>
<rect x="430.50" y="45.50" width="10.60" height="432.00" fill="url(#g31)"/>
<rect x="440.50" y="45.50" width="10.60" height="432.00" fill="url(#g32)"/>
<rect x="450.50" y="45.50" width="10.60" height="432.00" fill="url(#g33)"/>
<rect x="460.50" y="45.50" width="10.60" height="432.00" fill="url(#g34)"/>
<rect x="470.50" y="45.50" width="10.60" height="432.00" fill="url(#g35)"/>
<rect x="480.50" y="45.50" width="10.60" height="432.00" fill="url(#g36)"/>
<rect x="490.50" y="45.50" width="10.60" height="432.00" fill="url(#g37)"/>
<rect x="500.50" y="45.50" width="10.60" height="432.00" fill="url(#g38)"/>
<rect x="510.50" y="45.50" width="10.60" height="432.00" fill="url(#g39)"/>
<rect x="520.50" y="45.50" width="10.60" height="432.00" fill="url(#g40)"/>
<rect x="530.50" y="45.50" width="10.60" height="432.00" fill="url(#g41)"/>
<rect x="540.50" y="45.50" width="10.60" height="432.00" fill="url(#g42)"/>
<rect x="550.50" y="45.50" width="10.60" height="432.00" fill="url(#g43)"/>
<rect x="560.50" y="45.50" width="10.60" height="432.00" fill="url(#g44)"/>
<rect x="570.50" y="45.50" width="10.60" height="432.00" fill="url(#g45)"/>
<rect x="580.50" y="45.50" width="10.60" height="432.00" fill="url(#g46)"/>
<rect x="590.50" y="45.50" width="10.60" height="432.00" fill="url(#g47)"/>
<rect x="600.50" y="45.50" width="10.60" height="432.00" fill="url(#g48)"/>
<rect x="610.50" y="45.50" width="10.60" height="432.00" fill="url(#g49)"/>
<rect x="620.50" y="45.50" width="10.60" height="432.00" fill="url(#g50)"/>
<rect x="630.50" y="45.50" width="10.60" height="432.00" fill="url(#g51)"/>
<rect x="640.50" y="45.50" width="10.60" height="432.00" fill="url(#g52)"/>
<rect x="650.50" y="45.50" width="10.60" height="432.00" fill="url(#g53)"/>
<rect x="660.50" y="45.50" width="10.60" height="432.00" fill="url(#g54)"/>
<rect x="670.50" y="45.50" width="10.60" height="432.00" fill="url(#g55)"/>
<rect x="680.50" y="45.50" width="10.60" height="432.00" fill="url(#g56)"/>
<rect x="690.50" y="45.50" width="10.60" height="432.00" fill="url(#g57)"/>
<rect x="700.50" y="45.50" width="10.60" height="432.00" fill="url(#g58)"/>
<rect x="710.50" y="45.50" width="10.60" height="432.00" fill="url(#g59)"/>
<rect x="720.50" y="45.50" width="10.60" height="432.00" fill="url(#g60)"/>
<rect x="730.50" y="45.50" width="10.60" height="432.00" fill="url(#g61)"/>
<rect x="740.50" y="45.50" width="10.60" height="432.00" fill="url(#g62)"/>
<rect x="750.50" y="45.50" width="10.60" height="432.00" fill="url(#g63)"/>
<rect x="760.50" y="45.50" width="10.60" height="432.00" fill="url(#g64)"/>
<rect x="770.50" y="45.50" width="10.60" height="432.00" fill="url(#g65)"/>
<rect x="780.50" y="45.50" width="10.60" height="432.00" fill="url(#g66)"/>
<rect x="790.50" y="45.50" width="10.60" height="432.00" fill="url(#g67)"/>
<rect x="800.50" y="45.50" width="10.60" height="432.00" fill="url(#g68)"/>
<rect x="810.50" y="45.50" width="10.60" height="432.00" fill="url(#g69)"/>
<rect x="820.50" y="45.50" width="10.60" height="432.00" fill="url(#g70)"/>
<rect x="830.50" y="45.50" width="10.60" height="432.00" fill="url(#g71)"/>
<rect x="840.50" y="45.50" width="10.60" height="432.00" fill="url(#g72)"/>
<rect x="850.50" y="45.50" width="10.60" height="432.00" fill="url(#g73)"/>
<rect x="860.50" y="45.50" width="10.60" height="432.00" fill="url(#g74)"/>
<rect x="870.50" y="45.50" width="10.60" height="432.00" fill="url(#g75)"/>
<rect x="880.50" y="45.50" width="10.60" height="432.00" fill="url(#g76)"/>
<rect x="890.50" y="45.50" width="10.60" height="432.00" fill="url(#g77)"/>
<rect x="900.50" y="45.50" width="10.60" height="432.00" fill="url(#g78)"/>
<rect x="910.50" y="45.50" width="10.60" height="432.00" fill="url(#g79)"/>
<rect x="920.50" y="45.50" width="10.60" height="432.00" fill="url(#g80)"/>
<rect x="930.50" y="45.50" width="10.60" height="432.00" fill="url(#g81)"/>
<rect x="940.50" y="45.50" width="10.60" height="432.00" fill="url(#g82)"/>
<rect x="950.50" y="45.50" width="10.60" height="432.00" fill="url(#g83)"/>
<rect x="960.50" y="45.50" width="10.60" height="432.00" fill="url(#g84)"/>
<rect x="970.50" y="45.50" width="10.60" height="432.00" fill="url(#g85)"/>
<rect x="980.50" y="45.50" width="10.60" height="432.00" fill="url(#g86)"/>
<rect x="990.50" y="45.50" width="10.60" height="432.00" fill="url(#g87)"/>
<rect x="1000.50" y="45.50" width="10.60" height="432.00" fill="url(#g88)"/>
<rect x="1010.50" y="45.50" width="10.60" height="432.00" fill="url(#g89)"/>
<rect x="1020.50" y="45.50" width="10.60" height="432.00" fill="url(#g90)"/>
</g></g>
<rect x="148.5" y="45.5" width="854.0" height="432.0" fill="none" stroke="#1a1a1a" stroke-width="1.2"/>
<path d="M139.0 437.30H148.5M1002.5 437.30H1011.5M139.0 393.18H148.5M1002.5 393.18H1011.5M139.0 349.05H148.5M1002.5 349.05H1011.5M139.0 304.93H148.5M1002.5 304.93H1011.5M139.0 260.80H148.5M1002.5 260.80H1011.5M139.0 216.68H148.5M1002.5 216.68H1011.5M139.0 172.55H148.5M1002.5 172.55H1011.5M139.0 128.43H148.5M1002.5 128.43H1011.5M139.0 84.30H148.5M1002.5 84.30H1011.5M258.62 477.5V485.5M258.62 36.5V45.5M382.60 477.5V485.5M382.60 36.5V45.5M506.58 477.5V485.5M506.58 36.5V45.5M630.56 477.5V485.5M630.56 36.5V45.5M754.54 477.5V485.5M754.54 36.5V45.5M878.52 477.5V485.5M878.52 36.5V45.5M1002.50 477.5V485.5M1002.50 36.5V45.5" stroke="#1a1a1a" stroke-width="1.2" fill="none"/>
<path d="M159.44 222.50V411.90M147.44 222.50H171.44M147.44 411.90H171.44M184.23 232.00V419.80M172.23 232.00H196.23M172.23 419.80H196.23M209.03 242.90V427.80M197.03 242.90H221.03M197.03 427.80H221.03M233.82 256.40V431.10M221.82 256.40H245.82M221.82 431.10H245.82M258.62 265.20V427.80M246.62 265.20H270.62M246.62 427.80H270.62M283.42 267.40V424.40M271.42 267.40H295.42M271.42 424.40H295.42M308.21 269.30V418.70M296.21 269.30H320.21M296.21 418.70H320.21M333.01 270.40V421.40M321.01 270.40H345.01M321.01 421.40H345.01M357.80 279.10V429.60M345.80 279.10H369.80M345.80 429.60H369.80M382.60 282.50V427.80M370.60 282.50H394.60M370.60 427.80H394.60M407.40 273.80V415.70M395.40 273.80H419.40M395.40 415.70H419.40M432.19 266.70V403.70M420.19 266.70H444.19M420.19 403.70H444.19M456.99 263.30V393.10M444.99 263.30H468.99M444.99 393.10H468.99M481.78 258.80V384.50M469.78 258.80H493.78M469.78 384.50H493.78M506.58 257.00V377.30M494.58 257.00H518.58M494.58 377.30H518.58M531.38 256.50V371.30M519.38 256.50H543.38M519.38 371.30H543.38M556.17 256.00V362.60M544.17 256.00H568.17M544.17 362.60H568.17M580.97 256.00V357.00M568.97 256.00H592.97M568.97 357.00H592.97M605.76 255.50V355.90M593.76 255.50H617.76M593.76 355.90H617.76M630.56 254.50V351.30M618.56 254.50H642.56M618.56 351.30H642.56M655.36 253.50V345.70M643.36 253.50H667.36M643.36 345.70H667.36M680.15 252.50V338.90M668.15 252.50H692.15M668.15 338.90H692.15M704.95 251.00V326.50M692.95 251.00H716.95M692.95 326.50H716.95M729.74 249.00V312.20M717.74 249.00H741.74M717.74 312.20H741.74M754.54 247.50V302.00M742.54 247.50H766.54M742.54 302.00H766.54M779.34 246.50V292.30M767.34 246.50H791.34M767.34 292.30H791.34M804.13 246.50V285.10M792.13 246.50H816.13M792.13 285.10H816.13M828.93 247.50V282.10M816.93 247.50H840.93M816.93 282.10H840.93M853.72 248.50V281.30M841.72 248.50H865.72M841.72 281.30H865.72M878.52 249.50V278.50M866.52 249.50H890.52M866.52 278.50H890.52M903.32 251.00V276.50M891.32 251.00H915.32M891.32 276.50H915.32M928.11 253.00V274.00M916.11 253.00H940.11M916.11 274.00H940.11M952.91 255.00V271.00M940.91 255.00H964.91M940.91 271.00H964.91M977.70 257.00V268.50M965.70 257.00H989.70M965.70 268.50H989.70M1002.50 259.00V266.50M990.50 259.00H1014.50M990.50 266.50H1014.50" stroke="#000" stroke-width="1.6" fill="none" clip-path="url(#cpa)"/>
<line x1="151.2" y1="260.7" x2="1002.5" y2="260.7" stroke="#0404f6" stroke-width="4.6" stroke-dasharray="8.5 3.68"/>
<polyline points="148.50,335.10 159.44,334.80 184.23,335.90 209.03,344.20 233.82,348.30 258.62,350.60 283.42,349.10 308.21,345.70 333.01,348.00 357.80,355.10 382.60,355.90 407.40,345.30 432.19,335.20 456.99,327.30 481.78,319.70 506.58,313.30 531.38,310.00 556.17,305.00 580.97,300.60 605.76,297.50 630.56,294.90 655.36,291.90 680.15,289.60 704.95,287.40 729.74,286.20 754.54,285.10 779.34,280.60 804.13,278.30 828.93,276.50 853.72,276.80 878.52,276.80 903.32,274.90 928.11,272.30 952.91,269.30 977.70,267.00 1002.50,265.20" stroke="#000" stroke-width="4.2" fill="none" stroke-linejoin="round"/>
<circle cx="159.44" cy="334.80" r="6.8" fill="#000"/>
<circle cx="184.23" cy="335.90" r="6.8" fill="#000"/>
<circle cx="209.03" cy="344.20" r="6.8" fill="#000"/>
<circle cx="233.82" cy="348.30" r="6.8" fill="#000"/>
<circle cx="258.62" cy="350.60" r="6.8" fill="#000"/>
<circle cx="283.42" cy="349.10" r="6.8" fill="#000"/>
<circle cx="308.21" cy="345.70" r="6.8" fill="#000"/>
<circle cx="333.01" cy="348.00" r="6.8" fill="#000"/>
<circle cx="357.80" cy="355.10" r="6.8" fill="#000"/>
<circle cx="382.60" cy="355.90" r="6.8" fill="#000"/>
<circle cx="407.40" cy="345.30" r="6.8" fill="#000"/>
<circle cx="432.19" cy="335.20" r="6.8" fill="#000"/>
<circle cx="456.99" cy="327.30" r="6.8" fill="#000"/>
<circle cx="481.78" cy="319.70" r="6.8" fill="#000"/>
<circle cx="506.58" cy="313.30" r="6.8" fill="#000"/>
<circle cx="531.38" cy="310.00" r="6.8" fill="#000"/>
<circle cx="556.17" cy="305.00" r="6.8" fill="#000"/>
<circle cx="580.97" cy="300.60" r="6.8" fill="#000"/>
<circle cx="605.76" cy="297.50" r="6.8" fill="#000"/>
<circle cx="630.56" cy="294.90" r="6.8" fill="#000"/>
<circle cx="655.36" cy="291.90" r="6.8" fill="#000"/>
<circle cx="680.15" cy="289.60" r="6.8" fill="#000"/>
<circle cx="704.95" cy="287.40" r="6.8" fill="#000"/>
<circle cx="729.74" cy="286.20" r="6.8" fill="#000"/>
<circle cx="754.54" cy="285.10" r="6.8" fill="#000"/>
<circle cx="779.34" cy="280.60" r="6.8" fill="#000"/>
<circle cx="804.13" cy="278.30" r="6.8" fill="#000"/>
<circle cx="828.93" cy="276.50" r="6.8" fill="#000"/>
<circle cx="853.72" cy="276.80" r="6.8" fill="#000"/>
<circle cx="878.52" cy="276.80" r="6.8" fill="#000"/>
<circle cx="903.32" cy="274.90" r="6.8" fill="#000"/>
<circle cx="928.11" cy="272.30" r="6.8" fill="#000"/>
<circle cx="952.91" cy="269.30" r="6.8" fill="#000"/>
<circle cx="977.70" cy="267.00" r="6.8" fill="#000"/>
<circle cx="1002.50" cy="265.20" r="6.8" fill="#000"/>
<line x1="382.60" y1="46.5" x2="382.60" y2="476.5" stroke="#14e8e8" stroke-width="2" stroke-dasharray="9 3"/>
<line x1="754.54" y1="46.5" x2="754.54" y2="476.5" stroke="#14e8e8" stroke-width="2" stroke-dasharray="9 3"/>
<path d="M210.3 93V163.2M184.2 93H234.7M184.2 163.2H234.7" stroke="#000" stroke-width="4.2" fill="none"/>
<circle cx="210.2" cy="128.5" r="7.6" fill="#000"/>
<text x="157.70" y="85.40" font-size="22.30" font-weight="bold" text-anchor="start" >75<tspan dx="2.5">%</tspan> percentile</text>
<text x="157.70" y="191.70" font-size="22.30" font-weight="bold" text-anchor="start" >25<tspan dx="2.5">%</tspan> percentile</text>
<text x="234.20" y="138.20" font-size="22.30" font-weight="bold" text-anchor="start" >mean</text>
<text transform="translate(258.75,33.80) scale(1.000,1.060)" font-size="22.30" font-weight="bold" text-anchor="middle" >~0.3</text>
<text transform="translate(382.40,33.80) scale(1.000,1.060)" font-size="22.30" font-weight="bold" text-anchor="middle" >1</text>
<text transform="translate(506.20,33.80) scale(1.000,1.060)" font-size="22.30" font-weight="bold" text-anchor="middle" >~3</text>
<text transform="translate(631.60,33.80) scale(1.000,1.060)" font-size="22.30" font-weight="bold" text-anchor="middle" >10</text>
<text transform="translate(758.20,33.80) scale(1.000,1.060)" font-size="22.30" font-weight="bold" text-anchor="middle" >~30</text>
<text transform="translate(874.40,33.80) scale(1.000,1.060)" font-size="22.30" font-weight="bold" text-anchor="middle" >100</text>
<text transform="translate(994.90,33.80) scale(1.000,1.060)" font-size="22.30" font-weight="bold" text-anchor="middle" >~300</text>
<text transform="translate(136.50,446.50) scale(1.000,1.040)" font-size="21.70" font-weight="bold" text-anchor="end" >-40</text>
<text transform="translate(136.50,402.38) scale(1.000,1.040)" font-size="21.70" font-weight="bold" text-anchor="end" >-30</text>
<text transform="translate(136.50,358.25) scale(1.000,1.040)" font-size="21.70" font-weight="bold" text-anchor="end" >-20</text>
<text transform="translate(136.50,314.12) scale(1.000,1.040)" font-size="21.70" font-weight="bold" text-anchor="end" >-10</text>
<text transform="translate(136.50,270.00) scale(1.000,1.040)" font-size="21.70" font-weight="bold" text-anchor="end" >0</text>
<text transform="translate(136.50,225.88) scale(1.000,1.040)" font-size="21.70" font-weight="bold" text-anchor="end" >10</text>
<text transform="translate(136.50,181.75) scale(1.000,1.040)" font-size="21.70" font-weight="bold" text-anchor="end" >20</text>
<text transform="translate(136.50,137.62) scale(1.000,1.040)" font-size="21.70" font-weight="bold" text-anchor="end" >30</text>
<text transform="translate(136.50,93.50) scale(1.000,1.040)" font-size="21.70" font-weight="bold" text-anchor="end" >40</text>
<text transform="translate(260.12,513.00) scale(1.000,1.060)" font-size="22.20" font-weight="bold" text-anchor="end" >10</text>
<text transform="translate(259.52,499.30) scale(1.000,1.040)" font-size="19.00" font-weight="bold" text-anchor="start" >-0.5</text>
<text transform="translate(384.10,513.00) scale(1.000,1.060)" font-size="22.20" font-weight="bold" text-anchor="end" >10</text>
<text transform="translate(383.50,499.30) scale(1.000,1.040)" font-size="19.00" font-weight="bold" text-anchor="start" >0.0</text>
<text transform="translate(508.08,513.00) scale(1.000,1.060)" font-size="22.20" font-weight="bold" text-anchor="end" >10</text>
<text transform="translate(507.48,499.30) scale(1.000,1.040)" font-size="19.00" font-weight="bold" text-anchor="start" >0.5</text>
<text transform="translate(632.06,513.00) scale(1.000,1.060)" font-size="22.20" font-weight="bold" text-anchor="end" >10</text>
<text transform="translate(631.46,499.30) scale(1.000,1.040)" font-size="19.00" font-weight="bold" text-anchor="start" >1.0</text>
<text transform="translate(756.04,513.00) scale(1.000,1.060)" font-size="22.20" font-weight="bold" text-anchor="end" >10</text>
<text transform="translate(755.44,499.30) scale(1.000,1.040)" font-size="19.00" font-weight="bold" text-anchor="start" >1.5</text>
<text transform="translate(880.02,513.00) scale(1.000,1.060)" font-size="22.20" font-weight="bold" text-anchor="end" >10</text>
<text transform="translate(879.42,499.30) scale(1.000,1.040)" font-size="19.00" font-weight="bold" text-anchor="start" >2.0</text>
<text transform="translate(1004.00,513.00) scale(1.000,1.060)" font-size="22.20" font-weight="bold" text-anchor="end" >10</text>
<text transform="translate(1003.40,499.30) scale(1.000,1.040)" font-size="19.00" font-weight="bold" text-anchor="start" >2.5</text>
<text transform="translate(403.20,546.60) scale(1.017,1.000)" font-size="25.00" font-weight="bold" text-anchor="start" >RNS, [NO</text>
<text x="516.40" y="554.30" font-size="20.00" font-weight="bold" text-anchor="start" >3</text>
<text x="516.50" y="530.70" font-size="20.00" font-weight="bold" text-anchor="start" >-</text>
<text x="527.30" y="546.60" font-size="25.00" font-weight="bold" text-anchor="start" >]/[Na</text>
<text x="583.80" y="530.90" font-size="20.00" font-weight="bold" text-anchor="start" >+</text>
<text transform="translate(596.00,546.60) scale(1.005,1.000)" font-size="25.00" font-weight="bold" text-anchor="start" >] (mol mol</text>
<text x="717.20" y="530.60" font-size="20.00" font-weight="bold" text-anchor="start" >-1</text>
<text x="736.30" y="546.60" font-size="25.00" font-weight="bold" text-anchor="start" >)</text>
<g transform="translate(89.3,480.4) rotate(-90)"><text transform="translate(0.00,0.00) scale(1.010,0.950)" font-size="25.50" font-weight="bold" text-anchor="start" >Percentage change of AOD<tspan font-size="20" dy="8.6">nitrate</tspan><tspan dy="-8.6" dx="8">(%)</tspan></text></g>
<text x="11.60" y="40.30" font-size="37.00" font-weight="bold" text-anchor="start" >(a)</text>
<text x="11.10" y="572.80" font-size="37.00" font-weight="bold" text-anchor="start" >(b)</text>
<rect x="1020.3" y="45" width="23.6" height="432.3" fill="url(#cb)" stroke="#000" stroke-width="2"/>
<text transform="translate(1044.00,484.70) scale(1.000,1.080)" font-size="22.50" font-weight="bold" text-anchor="start" >10</text>
<text transform="translate(1067.90,471.30) scale(1.000,1.040)" font-size="19.00" font-weight="bold" text-anchor="start" >0.0</text>
<text transform="translate(1044.00,430.70) scale(1.000,1.080)" font-size="22.50" font-weight="bold" text-anchor="start" >10</text>
<text transform="translate(1067.90,417.30) scale(1.000,1.040)" font-size="19.00" font-weight="bold" text-anchor="start" >0.5</text>
<text transform="translate(1044.00,376.70) scale(1.000,1.080)" font-size="22.50" font-weight="bold" text-anchor="start" >10</text>
<text transform="translate(1067.90,363.30) scale(1.000,1.040)" font-size="19.00" font-weight="bold" text-anchor="start" >1.0</text>
<text transform="translate(1044.00,322.70) scale(1.000,1.080)" font-size="22.50" font-weight="bold" text-anchor="start" >10</text>
<text transform="translate(1067.90,309.30) scale(1.000,1.040)" font-size="19.00" font-weight="bold" text-anchor="start" >1.5</text>
<text transform="translate(1044.00,268.70) scale(1.000,1.080)" font-size="22.50" font-weight="bold" text-anchor="start" >10</text>
<text transform="translate(1067.90,255.30) scale(1.000,1.040)" font-size="19.00" font-weight="bold" text-anchor="start" >2.0</text>
<text transform="translate(1044.00,214.70) scale(1.000,1.080)" font-size="22.50" font-weight="bold" text-anchor="start" >10</text>
<text transform="translate(1067.90,201.30) scale(1.000,1.040)" font-size="19.00" font-weight="bold" text-anchor="start" >2.5</text>
<text transform="translate(1044.00,160.70) scale(1.000,1.080)" font-size="22.50" font-weight="bold" text-anchor="start" >10</text>
<text transform="translate(1067.90,147.30) scale(1.000,1.040)" font-size="19.00" font-weight="bold" text-anchor="start" >3.0</text>
<text transform="translate(1044.00,106.70) scale(1.000,1.080)" font-size="22.50" font-weight="bold" text-anchor="start" >10</text>
<text transform="translate(1067.90,93.30) scale(1.000,1.040)" font-size="19.00" font-weight="bold" text-anchor="start" >3.5</text>
<path d="M1021 423.0H1026M1039 423.0H1044M1021 369.0H1026M1039 369.0H1044M1021 315.0H1026M1039 315.0H1044M1021 261.0H1026M1039 261.0H1044M1021 207.0H1026M1039 207.0H1044M1021 153.0H1026M1039 153.0H1044M1021 99.0H1026M1039 99.0H1044" stroke="#000" stroke-width="1.6" fill="none"/>
<g transform="translate(1127.1,256.5) rotate(-90)"><text transform="translate(0.00,0.00) scale(1.010,1.000)" font-size="20.70" font-weight="bold" text-anchor="middle" >Frequency distribution</text></g>
<g transform="translate(1152.3,246.2) rotate(-90)"><text x="0.00" y="0.00" font-size="20.90" font-weight="bold" text-anchor="middle" >(counts)</text></g>
<rect x="144.5" y="576.5" width="868.0" height="442.0" fill="#fff" stroke="#1a1a1a" stroke-width="1.2"/>
<path d="M144.5 977.64H153.5M1003.5 977.64H1012.5M144.5 932.48H153.5M1003.5 932.48H1012.5M144.5 887.32H153.5M1003.5 887.32H1012.5M144.5 842.16H153.5M1003.5 842.16H1012.5M144.5 797.00H153.5M1003.5 797.00H1012.5M144.5 751.84H153.5M1003.5 751.84H1012.5M144.5 706.68H153.5M1003.5 706.68H1012.5M144.5 661.52H153.5M1003.5 661.52H1012.5M144.5 616.36H153.5M1003.5 616.36H1012.5M246.40 1009.5V1018.5M246.40 576.5V585.5M374.10 1009.5V1018.5M374.10 576.5V585.5M501.80 1009.5V1018.5M501.80 576.5V585.5M629.50 1009.5V1018.5M629.50 576.5V585.5M757.20 1009.5V1018.5M757.20 576.5V585.5M884.90 1009.5V1018.5M884.90 576.5V585.5" stroke="#1a1a1a" stroke-width="1.2" fill="none"/>
<text x="140.90" y="986.34" font-size="25.00" font-weight="bold" text-anchor="end" >-40</text>
<text x="140.90" y="941.18" font-size="25.00" font-weight="bold" text-anchor="end" >-30</text>
<text x="140.90" y="896.02" font-size="25.00" font-weight="bold" text-anchor="end" >-20</text>
<text x="140.90" y="850.86" font-size="25.00" font-weight="bold" text-anchor="end" >-10</text>
<text x="140.90" y="805.70" font-size="25.00" font-weight="bold" text-anchor="end" >0</text>
<text x="140.90" y="760.54" font-size="25.00" font-weight="bold" text-anchor="end" >10</text>
<text x="140.90" y="715.38" font-size="25.00" font-weight="bold" text-anchor="end" >20</text>
<text x="140.90" y="670.22" font-size="25.00" font-weight="bold" text-anchor="end" >30</text>
<text x="140.90" y="625.06" font-size="25.00" font-weight="bold" text-anchor="end" >40</text>
<text x="242.40" y="1043.80" font-size="25.00" font-weight="bold" text-anchor="middle" >-0.5</text>
<text x="374.10" y="1043.80" font-size="25.00" font-weight="bold" text-anchor="middle" >0</text>
<text x="501.80" y="1043.80" font-size="25.00" font-weight="bold" text-anchor="middle" >0.5</text>
<text x="629.50" y="1043.80" font-size="25.00" font-weight="bold" text-anchor="middle" >1</text>
<text x="757.20" y="1043.80" font-size="25.00" font-weight="bold" text-anchor="middle" >1.5</text>
<text x="884.90" y="1043.80" font-size="25.00" font-weight="bold" text-anchor="middle" >2</text>
<text x="1012.60" y="1043.80" font-size="25.00" font-weight="bold" text-anchor="middle" >2.5</text>
<clipPath id="cpb"><rect x="144.5" y="576.5" width="870.0" height="442.0"/></clipPath>
<g clip-path="url(#cpb)">
<line x1="143.8" y1="797.3" x2="1014.5" y2="797.3" stroke="#ff00ff" stroke-width="4.5" stroke-dasharray="13.25 4.4"/>
<line x1="374.5" y1="581.8" x2="374.5" y2="1018.5" stroke="#00ffff" stroke-width="4.9" stroke-dasharray="13.25 4.4"/>
<polyline points="144.24,885.06 148.26,884.84 153.70,884.56 160.20,884.22 167.42,883.81 174.98,883.34 182.55,882.80 190.62,882.15 199.58,881.37 208.89,880.52 218.02,879.68 226.45,878.91 233.63,878.29 239.22,877.80 243.56,877.38 247.20,877.05 250.66,876.78 254.47,876.59 259.17,876.48 264.37,876.50 269.58,876.67 275.13,876.90 281.40,877.15 288.73,877.33 297.48,877.38 308.48,877.30 321.60,877.13 335.79,876.90 349.98,876.63 363.10,876.33 374.10,876.03 382.85,875.71 390.18,875.36 396.45,874.99 402.00,874.59 407.21,874.18 412.41,873.77 417.26,873.30 421.40,872.75 425.18,872.19 428.96,871.68 433.10,871.28 437.95,871.06 443.60,871.11 449.77,871.38 456.31,871.77 463.02,872.15 469.73,872.41 476.26,872.42 482.50,872.17 488.56,871.75 494.62,871.20 500.85,870.58 507.45,869.91 514.57,869.26 522.49,868.55 531.12,867.75 540.11,866.91 549.10,866.09 557.73,865.35 565.65,864.74 572.92,864.28 579.84,863.94 586.40,863.67 592.61,863.44 598.46,863.20 603.96,862.93 609.10,862.65 613.89,862.38 618.33,862.12 622.41,861.83 626.13,861.51 629.50,861.13 632.07,860.77 633.76,860.47 635.09,860.14 636.59,859.67 638.81,858.98 642.27,857.97 647.03,856.55 652.68,854.79 659.03,852.80 665.92,850.71 673.16,848.63 680.58,846.68 688.35,844.80 696.66,842.90 705.32,841.00 714.16,839.17 723.00,837.43 731.66,835.84 740.03,834.45 748.21,833.23 756.40,832.11 764.77,831.02 773.49,829.88 782.74,828.61 792.94,827.16 804.02,825.57 815.46,823.93 826.73,822.32 837.28,820.84 846.59,819.58 854.31,818.56 860.78,817.71 866.54,816.98 872.13,816.34 878.07,815.71 884.90,815.06 892.82,814.38 901.45,813.71 910.44,813.06 919.43,812.45 928.06,811.91 935.98,811.45 943.10,811.10 949.70,810.85 955.93,810.66 961.99,810.50 968.05,810.32 974.29,810.10 981.12,809.80 988.48,809.46 995.84,809.11 1002.67,808.78 1008.43,808.49 1012.60,808.29" stroke="#0000ff" stroke-width="4.4" fill="none" stroke-linejoin="round"/>
<polyline points="131.47,872.43 132.71,872.45 134.31,872.48 136.26,872.51 138.56,872.56 141.22,872.63 144.24,872.74 147.76,872.79 151.81,872.78 156.21,872.79 160.79,872.91 165.38,873.24 169.78,873.86 174.04,874.90 178.29,876.31 182.55,877.92 186.81,879.57 191.06,881.10 195.32,882.36 199.58,883.33 203.83,884.14 208.09,884.84 212.35,885.45 216.60,886.01 220.86,886.55 225.12,887.10 229.37,887.62 233.63,888.09 237.89,888.48 242.14,888.76 246.40,888.91 250.66,888.90 254.91,888.75 259.17,888.50 263.43,888.17 267.68,887.78 271.94,887.37 276.20,886.84 280.45,886.14 284.71,885.39 288.97,884.69 293.22,884.16 297.48,883.89 301.74,883.89 305.99,884.06 310.25,884.40 314.51,884.88 318.76,885.50 323.02,886.25 327.45,887.25 332.10,888.56 336.75,890.00 341.18,891.42 345.19,892.64 348.56,893.51 351.09,893.97 352.91,894.15 354.31,894.13 355.56,894.02 356.96,893.90 358.78,893.87 361.12,893.94 363.79,894.05 366.60,894.14 369.37,894.21 371.93,894.20 374.10,894.09 375.70,893.93 376.84,893.75 377.77,893.50 378.74,893.13 379.98,892.59 381.76,891.84 384.06,890.82 386.68,889.58 389.58,888.16 392.73,886.64 396.10,885.06 399.64,883.48 403.45,881.85 407.59,880.10 411.93,878.30 416.38,876.50 420.83,874.76 425.18,873.15 429.44,871.66 433.69,870.27 437.95,868.94 442.21,867.65 446.46,866.36 450.72,865.06 454.98,863.73 459.23,862.40 463.49,861.07 467.75,859.77 472.00,858.50 476.26,857.28 480.52,856.08 484.77,854.89 489.03,853.73 493.29,852.63 497.54,851.63 501.80,850.73 506.06,850.01 510.31,849.44 514.57,848.95 518.83,848.49 523.08,847.98 527.34,847.35 531.60,846.59 535.85,845.75 540.11,844.87 544.37,843.96 548.62,843.07 552.88,842.24 557.14,841.44 561.39,840.64 565.65,839.86 569.91,839.11 574.16,838.40 578.42,837.73 582.68,837.12 586.93,836.56 591.19,836.03 595.45,835.53 599.70,835.04 603.96,834.56 608.22,834.09 612.47,833.65 616.73,833.22 620.99,832.80 625.24,832.36 629.50,831.90 633.76,831.40 638.01,830.88 642.27,830.35 646.53,829.82 650.78,829.30 655.04,828.83 659.30,828.39 663.55,827.99 667.81,827.60 672.07,827.23 676.32,826.85 680.58,826.48 684.84,826.08 689.09,825.68 693.35,825.28 697.61,824.89 701.86,824.54 706.12,824.22 710.38,823.96 714.63,823.73 718.89,823.54 723.15,823.36 727.40,823.18 731.66,823.00 735.92,822.84 740.17,822.74 744.43,822.64 748.69,822.50 752.94,822.26 757.20,821.87 761.46,821.28 765.71,820.51 769.97,819.64 774.23,818.76 778.48,817.94 782.74,817.26 787.00,816.74 791.25,816.29 795.51,815.91 799.77,815.57 804.02,815.25 808.28,814.91 812.54,814.55 816.79,814.18 821.05,813.82 825.31,813.50 829.56,813.24 833.82,813.07 838.08,813.00 842.33,813.02 846.59,813.11 850.85,813.22 855.10,813.32 859.36,813.38 863.62,813.42 867.87,813.47 872.13,813.52 876.39,813.53 880.64,813.49 884.90,813.38 889.16,813.17 893.41,812.90 897.67,812.57 901.93,812.20 906.18,811.82 910.44,811.43 914.70,811.03 918.95,810.61 923.21,810.17 927.47,809.71 931.72,809.25 935.98,808.77 940.24,808.27 944.49,807.75 948.75,807.22 953.01,806.68 957.26,806.17 961.52,805.70 965.78,805.26 970.03,804.84 974.29,804.45 978.55,804.07 982.80,803.70 987.06,803.35 991.61,802.99 996.52,802.63 1001.43,802.28 1005.98,801.96 1009.82,801.70 1012.60,801.50" stroke="#ff0000" stroke-width="4.4" fill="none" stroke-linejoin="round"/>
<polyline points="143.8,878.29 374.10,878.29 1015.15,798.13" stroke="#000" stroke-width="4.7" fill="none" stroke-dasharray="13.25 4.4"/>
</g>
<rect x="783.5" y="583" width="223.7" height="100.4" fill="#fff" stroke="#000" stroke-width="1.2"/>
<line x1="790" y1="600.6" x2="825" y2="600.6" stroke="#0000ff" stroke-width="4.5"/>
<line x1="790" y1="633.1" x2="825" y2="633.1" stroke="#ff0000" stroke-width="4.5"/>
<line x1="790" y1="664.7" x2="825" y2="664.7" stroke="#000" stroke-width="4.8" stroke-dasharray="12.3 5.9"/>
<text transform="translate(828.20,609.60) scale(1.020,1.000)" font-size="25.00" font-weight="bold" text-anchor="start" >Europe</text>
<text transform="translate(828.20,642.10) scale(1.010,1.000)" font-size="25.00" font-weight="bold" text-anchor="start" >N. America</text>
<text x="828.20" y="672.50" font-size="25.00" font-weight="bold" text-anchor="start" >Fitted function</text>
<text transform="translate(577.20,973.00) scale(1.018,1.000)" font-size="25.00" font-weight="bold" text-anchor="start" >y=7.08*x - 18&#160; (R<tspan font-size="20" dy="-11">2</tspan><tspan dy="11">&gt;90 %, x&gt;0)</tspan></text>
<path d="M635.3 940.1L606.5 855" stroke="#000" stroke-width="1.5" fill="none"/>
<path d="M604.5 849.3L612.6 860.6L603.6 863.7Z" fill="#000"/>
<text transform="translate(435.50,1078.30) scale(1.020,1.000)" font-size="25.30" font-weight="bold" text-anchor="start" >log<tspan font-size="20" dy="11.5" dx="1.5">10</tspan><tspan dy="-11.5">(RNS), (mol mol</tspan><tspan font-size="20" dy="-12" dx="0.5">-1</tspan><tspan dy="12" dx="0.5">)</tspan></text>
<g transform="translate(81.7,1019.9) rotate(-90)"><text transform="translate(0.00,0.00) scale(1.006,0.950)" font-size="25.50" font-weight="bold" text-anchor="start" >Percentage change of AOD<tspan font-size="20" dy="12.4">nitrate</tspan><tspan dy="-12.4">, (%)</tspan></text></g>
</svg>
</body></html>
